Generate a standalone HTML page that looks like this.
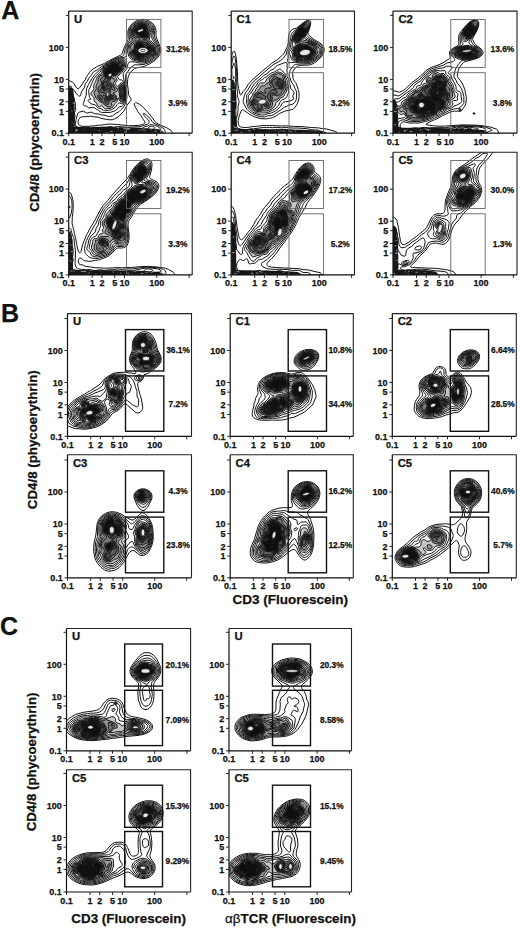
<!DOCTYPE html><html><head><meta charset="utf-8"><style>html,body{margin:0;padding:0;background:#fff;}svg{display:block;}</style></head><body><svg width="520" height="929" viewBox="0 0 520 929" font-family='"Liberation Sans", sans-serif' font-weight="bold" fill="#111"><style>text{stroke:#111;stroke-width:0.25px;}</style><rect width="520" height="929" fill="#fff"/><defs><clipPath id="c0"><rect x="68.7" y="11.1" width="123.5" height="122.1"/></clipPath><clipPath id="c1"><rect x="231.2" y="11.1" width="123.3" height="122.1"/></clipPath><clipPath id="c2"><rect x="393" y="11.1" width="124" height="122.1"/></clipPath><clipPath id="c3"><rect x="68.7" y="152.2" width="123.5" height="122.7"/></clipPath><clipPath id="c4"><rect x="231.2" y="152.2" width="123.3" height="122.7"/></clipPath><clipPath id="c5"><rect x="393" y="152.2" width="124" height="122.7"/></clipPath><clipPath id="c6"><rect x="67.5" y="313.6" width="124" height="122.7"/></clipPath><clipPath id="c7"><rect x="230.2" y="313.6" width="123.1" height="122.7"/></clipPath><clipPath id="c8"><rect x="392.3" y="313.6" width="124" height="122.7"/></clipPath><clipPath id="c9"><rect x="67.5" y="454.8" width="124" height="123"/></clipPath><clipPath id="c10"><rect x="230.2" y="454.8" width="123.1" height="123"/></clipPath><clipPath id="c11"><rect x="392.3" y="454.8" width="124" height="123"/></clipPath><clipPath id="c12"><rect x="66.5" y="628.5" width="124.1" height="122.3"/></clipPath><clipPath id="c13"><rect x="229" y="628.5" width="122.5" height="122.3"/></clipPath><clipPath id="c14"><rect x="66.5" y="769.7" width="124.1" height="122.3"/></clipPath><clipPath id="c15"><rect x="229" y="769.7" width="122.5" height="122.3"/></clipPath></defs><g clip-path="url(#c0)"><clipPath id="b0_0"><polygon points="68.7,133.2 68.7,86.2 71.02,85.2 73.34,90.2 74.5,100.3 74.79,116.75 75.08,125.7 78.2,126.7 111.45,127.02 139.95,127.67 158.95,129.3 163.7,131.9 163.7,133.2"/></clipPath><polygon points="68.7,133.2 68.7,86.2 71.02,85.2 73.34,90.2 74.5,100.3 74.79,116.75 75.08,125.7 78.2,126.7 111.45,127.02 139.95,127.67 158.95,129.3 163.7,131.9 163.7,133.2" fill="#000" fill-opacity="0.9"/><path d="M74.0 102.5h1.6M69.0 87.3h2.4M73.7 89.8h2.7M69.9 87.0h1.6M72.7 103.2h2.4M72.1 86.4h2.2M73.6 106.7h3.5M74.9 110.8h1.7M74.2 94.3h2.7M71.3 110.9h1.2M72.7 123.4h1.5M72.9 126.1h3.1M75.6 129.8h2.3M90.3 127.0h1.7M116.6 127.6h2.6M105.2 132.6h3.4M124.7 129.4h2.4M82.8 129.6h2.3M123.9 132.0h2.7M75.4 131.1h1.1M139.8 129.9h2.1M75.7 130.3h1.4M97.5 130.6h2.7M143.4 130.9h2.6M117.2 128.8h1.7M154.0 128.9h1.3M123.3 128.3h2.9M110.3 131.4h2.5M138.0 129.9h1.3M127.1 128.3h3.3M163.2 130.8h3.0M134.2 126.9h2.2M150.5 129.9h1.6M159.9 131.4h1.6M74.4 133.2h1.7M94.4 128.5h0.8M153.4 127.9h3.3M141.6 128.9h2.9M152.3 127.7h1.5M159.2 126.7h2.7M126.9 129.2h2.7M154.8 131.2h1.9" stroke="#fff" stroke-width="0.7" stroke-opacity="0.75" clip-path="url(#b0_0)"/><g transform="scale(0.1)" stroke="#111" stroke-width="10" stroke-linejoin="round"><path d="M1713 1342l7-5 4-5 0-5-8-15-8-10-43-25-48-20-31-15-23-15-16-15-25-36-45-55-56-59-24-19-30-14-10-3-5 1-5 4-3 6-1 10 5 15 18 30 12 25 29 36 20 34 18 25 4 10-3 10-4 5-20 10-20 4-20 3-50 3-50 0-105-12-75-5-45 4-30 6-40 2-40 6-50 4-65 2-19-2-16-7-10-8-7-15 2-22 5-15 5-9 15-13 25-6 35-1 40-4 30 6 45 4 30 12 60 11 30 3 25-2 15-5 42-24 54-55 34-61 20-27 15-17 4-10-3-15-16-23-7-17-2-40-9-60 3-45 3-20 7-23 10-19 10-14 20-21 17-13 18-7 70-14 20-7 40-18 45-27 20-17 19-20 20-30 8-20 4-25-2-20-16-45-18-40-10-30-3-20 1-40-4-25-12-25-12-17-15-15-20-12-30-13-20-5-15-1-30 2-20 5-20 8-15 10-25 19-21 24-10 15-7 15-6 30 3 60-1 15-4 10-37 75-17 52-5 9-11 9-74 33-45 24-40 24-75 32-50 30-30 32-11 20-16 20-12 30-16 19-17 31-28 35-10 5-10-2-5-6-30-47-15-13-19-7-11-6-5-1-10 10M1650 1342l2-15-3-20-3-10-7-10-38-25-59-28-11-7-8-10-16-24-30-32-20-17-20-10-3 3 1 5 7 15 25 28 19 17 5 10 1 10-5 10-12 10-58 20-15 4-125 7-100-8-15 2-25 6-25-7-10-1-25 5-90 5-30 5-45 5-40 0-30 7-40 4-15-5-15-11-10-13-7-20 0-15 5-35 15-55 7-13 15-9 35-9 25 14 10 4 10 0 25-7 10 0 10 3 25 12 35 2 35 11 35 3 30 11 15 0 25-4 10-5 22-18 35-20 20-20 18-14 9-11 24-50 9-40-1-80-10-65-2-25 2-60 2-10 4-10 17-20 21-32 40-31 10-2 25 2 65-6 45-15 45-24 15-12 20-20 17-25 7-15 5-30-1-20-17-45-26-51-8-24-1-15 5-40-3-20-8-20-13-20-12-12-15-9-25-11-25-6-20-2-25 1-25 7-15 7-25 16-20 18-18 26-10 30 0 25 3 30 5 25-1 10-23 35-23 55-5 20-4 30-4 10-12 10-28 8-50 18-50 26-43 28-37 22-42 33-33 18-10 7-20 31-24 29-15 30-16 20-5 10-9 35-25 35-8 20-3 20-5 7-10 2-5-2-10-8-15-17-21-32-9-10-23-10-17-12-5-1-5 3-5 7M717 1342l9-20 2-20 9-20 0-10-8-20-1-10 22-80-1-10-6-25 2-5 9-15 3-10-4-35 2-30-9-20-4-30-6-10-22-20-18-20-9-4-5 1-5 3M925 1342l4-5 2-10 0-5-3-5-6-2-30-2-10 4-1 5 4 10 9 10M1369 1342l13-14 10-4 10 0 15 7 10-2 15-16 5-2 10 2 20 11 20 8 25 7 15 0 20-8 30 4 5-3 3-5 0-15 7-20 0-5-7-10-5-5-19-10-19-8-40-8-15 4-20 10-27 7-43 26-5 1-20-4-25 6-25-1-45 14-15-2-35-11-25-1-30-7-10 1-20 8-10 2-10-1-20-7-10-1-65 6-35 0-17 6-15 10-4 5 0 10 10 15M1298 1342l9-4 12 4M1422 217l-30 3-15 5-20 10-30 23-13 14-8 15-7 25 0 25 5 30 9 25 0 10-4 10-20 20-7 10-18 50-4 20 4 35-2 15-5 5-15 6-45 7-45 15-20 9-40 22-73 51-27 30-30 25-20 21-18 24-40 70-18 40-2 15-2 49-5 16-11 25-6 25-7 20 0 10 4 6 10 5 20 5 20 16 5 2 20-6 25 1 10 2 16 14 19 10 25 19 15 3 20 1 60-1 45-15 20-12 25-28 5-2 20-3 10-9 20-29 7-14 5-25 1-25 1-50-2-25-12-50-14-75-1-20 2-10 5-10 22-25 6-10 7-20 5-25 5-10 8-10 10-4 50 2 25 8 15 2 50-1 25-6 25-10 30-17 30-21 10-10 9-13 10-25 3-35-4-20-13-33-30-52-8-25-1-10 8-30 1-15-2-20-7-15-13-20-8-8-10-6-35-14-25-6-15-1zM677 953l1 9-1 5M1512 1262l-15 5-18 15-2 5 1 5 4 5 10 6 15 1 19-7 18-10 6-5-1-5-5-5-17-7-15-3zM677 1183l10 12 5 3 5 1 10-1 10-6 5-6 5-9 1-10-1-5-5-7-20-11-15-2-10 4M1252 590l-10-2-25 0-20 2-50 16-50 25-55 38-15 13-12 15-13 25-23 20-37 40-28 60-10 30-13 20-3 10-1 15 6 45 4 12 10 13 2 5-17 2-10 7-2 6 1 5 5 5 25 20 11 5 20 2 9 3 26 30 10 5 20 3 26 17 14 5 10 1 25-6 20-1 10-3 37-21 21-30 12-14 5-3 5-1 25 8 15-7 10-11 8-17 4-30 1-65-4-30-24-70-10-8-20-1-5-3-13-18-3-10 6-10 20-16 15-15 35-44 3-10 2-25 9-25 1-10-5-14-10-8zM677 1077l9 10 7 15 4 4 25-10 7-9 0-15-14-40-4-25-4-7-9 22-21 24M1432 227l-15-2-15 1-15 4-20 9-15 9-18 14-12 14-7 11-6 20-1 30 5 25 14 30 1 10-9 15-22 21-7 9-14 45-2 15 13 55 11 15 24 21 15 6 55 12 50 2 20-3 25-10 60-38 10-8 8-12 6-15 1-45-2-15-8-20-37-55-10-30-1-10 1-10 10-25 3-15-1-15-5-11-13-19-12-11-30-15-35-9z" fill="none"/><path d="M1242 601l-20-3-20 1-25 9-45 13-35 17-59 44-8 10-5 10-8 33-29 17-22 30-4 10-5 22-13 23-7 20-1 10 3 20 0 5-9 15-18 17-3 13 6 15 17 13 5 7 4 15 1 24 3 6 17 10 4 5 7 20 9 12 5 2 10 0 8-4 7-6 5-1 15 14 14 18 6 3 5 1 20-7 25 0 10-4 18-13 4-5 13-25 20-17 6-13 4-16 5-11 5 4 6 18 6 10 13 9 10 2 5-1 10-7 5-8 6-20 3-25-2-65-4-20-15-35-8-12-5-3-5 0-25 31-10 5-10-6-10-11-4-9 4-10 11-15 3-10-2-10-10-15-1-10 13-15 46-40 23-35 13-60-4-10-7-6zM1437 236l-15-4-15 0-15 4-20 9-26 17-22 25-5 10-2 10-1 30 8 25 18 30 1 10-6 10-38 40-4 10-7 30 7 55 6 15 11 13 15 12 10 5 65 15 45 1 15-3 20-9 15-9 19-15 32-15 10-10 5-15-4-30 2-25-5-15-6-10-28-32-25-18-4-10 6-25 2-25 13-20 4-10 1-10-1-10-11-16-21-19-19-12-30-9z" fill-opacity="0.24" fill-rule="evenodd"/><path d="M1232 610l-10-2-15 1-30 11-45 8-15 5-20 13-45 33-10 9-6 9-3 10-2 30-3 10-6 5-15 3-10 6-8 11-6 15-2 10-1 25-17 30-3 10 2 25-2 10-18 25-3 10 2 5 8 15 13 30 15 12 16 18 9 6 22 9 23 24 35 18 15 1 10-3 6-5 6-10-5-20 5-10 8-5 25-6 8-9 6-25-1-10-3-9-10-13-23-8 1-5 12-3 10-5 25-20 10 11 5 11 6 51 3 15 6 12 10 8 10 0 10-8 5-12 5-40-4-60-3-15-8-16-10-14-5-3-5 1-5 3-12 14-18 32-5-2-31-40-7-15 0-5 3-8 15-17 1-10-6-6-18-4-3-5 3-10 4-5 29-18 20-18 25-18 9-11 12-25 12-45 0-15-8-7zM1437 242l-15-4-15 0-30 12-15 8-10 8-23 26-4 10-1 10-1 15 4 15 10 24 22 21 2 10-7 15-17 16-10 15-18 14-3 5-3 10 2 10 7 15-7 35 0 10 3 10 6 10 13 13 15 9 60 16 45-2 35-13 10-6 20-17 25-6 7-4 9-10 2-10-4-25 1-25-3-15-12-14-25-22-21-14-8-10-4-10 0-10 11-30 1-25 2-5 14-15 2-5 0-10-7-11-32-29-13-8-20-7z" fill-opacity="0.24" fill-rule="evenodd"/><path d="M1222 620l-15 0-40 11-30 2-10 2-20 11-33 26-22 15-8 10-3 10-1 35-3 17-5 9-16 9-10 15-1 10 9 20 0 15-7 13-18 12-7 17-3 13 1 15 12 25 1 5-3 5-13 13-2 7 4 10 23 30 10 7 20 7 15 17 10 6 25 6 3-3 7-25 10-13 15-6 20 1 10-1 5-5 3-6 1-10-4-12-5-5-20-7-12-6-14-10-1-5 7-29 5-7 5-3 5 0 15 12 9-3 3-5-2-10-26-45-9-13-13-12-3-5 0-5 12-20 9-25 5-5 25-7 10-5 20-19 25-16 7-8 7-15 14-50-1-10-2-4-5-3zM1217 855l-5 1-5 3-7 8-5 10-3 15 2 10 8 25 0 30 5 25 5 14 5 5 5 2 5 0 5-4 5-9 6-38-6-35 1-25-2-10-9-18-5-6-5-3zM1042 952l-1 5-4 2-5-7 5-4 5 4zM1432 245l-15-2-10 1-40 19-15 12-11 12-7 10-3 15 2 20 15 30 9 7 35 13 7 5 0 5-6 5-21 12-21 28-8 20-2 25-16 20-5 10-4 20 1 15 10 13 24 17 51 15 15-1 65-18 25-20 25-3 7-3 6-5 3-10-5-25 1-25-6-15-11-10-19-10-11-8-21-22-16-20 20-35 2-10 0-23 12-22 2-5-2-5-16-15-16-21-14-9-16-7zM1441 392l12 5 0 5-6 4-5 1-8-5-4-5 2-4 9-1z" fill-opacity="0.24" fill-rule="evenodd"/><path d="M1212 631l-10 0-25 7-40 0-15 4-65 50-8 10-3 15 0 40 2 10 5 15 0 10-16 11-7 9-13 60-5 13-13 17 0 5 3 7 10 10 25 1 10 4 7 8 3 10 0 10-9 25-1 10 2 20 3 7 5 4 5 1 10-3 20-20 13-9 35-10 2-5-3-5-7-5-20-12-24-8-6-5-2-5 0-5 9-15 6-20 20-20 4-10-2-10-5-8-25-24-5-8-3-10 2-5 17-15 13-30 5-5 6-3 20-4 10-3 7-5 18-19 15-8 11-8 7-15 3-25 6-20-2-8-5-3zM1007 951l-12 6-3 5-1 5 3 10 8 11 5 5 10 3 5-2 6-7 1-10-12-20-5-5-5-1zM1217 865l-5 0-7 7-4 10 0 10 2 10 9 20-3 30 1 15 7 19 5 5 5-1 5-6 5-16 2-16-2-10-12-20 7-25 0-10-5-12-5-7-5-3zM1422 411l-5-2-10-1-25 9-10 8-18 27-4 10-3 25-17 20-6 15 0 15 3 7 5 5 14 8 16 16 35 11 15-1 50-20 20-5 25-16 25-2 5-3 2-5-5-20 2-30-5-10-9-7-25-11-20-22-10-7-10-2-15 3-20-15zM1437 252l-15-4-15 1-45 26-13 12-8 10-3 10 0 10 4 11 17 14 9 15 8 5 41 13 20 5 15 1 10-4 12-15 2-10-2-25 6-20-1-5-20-35-12-10-10-5z" fill-opacity="0.24" fill-rule="evenodd"/><path d="M1082 957l-10 1-4 4-8 20-1 15 3 7 5 3 10-4 20-15 20-10 3-6-3-5-10-6-25-4zM1227 942l-6 0-4 5-1 5 1 10 5 9 5 0 5-9 0-15-5-5zM1067 816l-10-4-10 4-9 11-7 20-6 30 0 10 5 10 12 8 15-1 16-12 19-8 10-7 6-10-1-6-5-8-5-4-10-2-5 0-5 3-10 16-5-3 0-6 15-15-3-15-7-11zM1217 877l-5 2-2 8 2 7 5 5 5-3 1-9-1-5-5-5zM1187 647l-45-5-15 2-13 8-17 17-40 31-4 7-2 10 2 40 6 15 13 15 10 2 10-5 5-7 10-25 5-6 10-4 20-1 10-4 20-22 20-10 9-8 5-15-4-24-5-9-10-2zM1412 421l-30 8-15 14-7 9-4 10-4 28-16 17-6 15 2 15 5 5 16 10 13 15 16 7 15 3 10-2 33-13 17-12 25-4 32-19 5-5 9-30-1-10-4-5-31-17-20-21-10-3-15 9-5 0-20-20-10-4zM1422 252l-15 3-20 17-20 8-10 6-6 6-6 10 0 15 7 10 21 10 10 15 9 7 45 14 15 1 10-5 7-12 1-10-4-20 4-20-12-30-6-10-15-11-15-4z" fill-opacity="0.24" fill-rule="evenodd"/><path d="M1102 971l-10-4-10 1-5 2-5 6-2 6 2 8 5 1 8-4 14-10 3-6zM1042 861l-5 7-2 14 2 5 5 4 5-1 3-3 1-5-9-21zM1147 647l-15 0-10 4-22 21-32 25-9 10-3 15 2 35 9 14 10 9 5 0 5-1 5-6 8-21 8-10 9-4 20-1 10-2 10-8 11-15 24-12 6-8 2-15-3-9-5-6-16-10-29-5zM1412 432l-10 1-20 5-15 13-5 7-3 9 1 25-18 16-5 7-2 7 1 10 4 5 17 10 15 17 15 5 15 0 32-12 7-5 11-11 5-3 15 0 10-3 25-16 8-12 3-10 0-10-3-5-32-20-11-11-5-2-5 2-6 11-4 3-5-1-25-27-10-5zM1382 492l7 5 1 5-3 4-10-3-4-6 4-4 5-1zM1427 256l-15 1-8 5-17 19-25 8-10 10-3 13 7 10 21 11 20 22 40 14 15 0 9-7 4-10-6-25 1-25-10-30-9-10-14-6z" fill-opacity="0.24" fill-rule="evenodd"/><path d="M1152 651l-15-2-15 6-16 17-24 18-17 17-5 15 1 25 6 14 10 9 5 1 5-4 10-21 10-11 10-2 20 1 10-3 20-23 20-10 7-6 2-5-1-10-6-10-17-11-20-5zM1417 440l-5-1-10 0-20 6-14 12-4 10 3 13 5 3 15 2 5 4 7 13 2 10-4 4-10 0-13-4-12-6-5-1-10 5-6 7-1 10 3 5 16 10 13 15 10 6 15 0 35-13 20-20 20-3 25-11 6-4 6-10 2-10-2-5-10-10-22-9-5 1-10 9-5 2-5-1-10-8-13-19-12-12zM1432 260l-10-2-12 4-18 21-7 4-18 5-7 5-4 5-1 10 7 9 20 11 20 21 35 11 10 1 10-5 3-8-7-25 0-35-7-20-14-12z" fill-opacity="0.24" fill-rule="evenodd"/><path d="M1162 657l-25-4-10 2-20 20-20 14-13 13-7 10-2 15 2 20 5 9 5 3 5-1 14-21 11-7 30 0 10-3 17-20 24-15 4-10-5-10-12-10-13-5zM1417 445l-10-2-20 5-13 9-5 10 3 8 15 5 10 9 13 23 0 5-3 7-10 1-40-12-9 4-2 5 1 6 15 10 15 17 5 3 10 1 20-10 15-3 5-4 10-14 17-16 1-10-3-5-15-17-15-25-10-10zM1487 477l-8 0-6 5-4 10 0 5 6 10 12 4 10-3 5-5 3-11-7-10-11-5zM1427 262l-10 0-5 3-20 23-25 9-6 5-2 5 1 5 4 5 23 15 10 12 10 7 30 10 10 0 6-4 3-5-9-30 1-35-6-15-5-5-10-5z" fill-opacity="0.24" fill-rule="evenodd"/><path d="M1147 656l-10-1-10 3-19 19-26 20-8 10-4 10-1 15 3 12 5 3 5-1 12-14 13-6 25 2 10-2 6-4 14-17 21-13 4-5 1-5-6-10-15-11-20-5zM1382 526l-20-2-3 3 18 21 6 4 9 0 8-5 3-5-2-5-19-11zM1407 447l-10 2-15 7-5 6-1 5 20 15 17 25 5 10 0 15 4 4 5-2 16-17 4-5 2-10-24-45-8-8-10-2zM1492 484l-5-2-5 2-3 3 0 10 8 7 8-2 4-5-2-9-5-4zM1432 266l-10-2-9 3-16 21-6 4-19 7-5 3-3 5 1 5 5 5 17 12 19 18 36 11 5-1 4-5 0-5-7-20-2-10 3-30-3-11-10-10z" fill-opacity="0.24" fill-rule="evenodd"/><path d="M1157 661l-20-3-10 3-16 16-21 15-9 10-5 10-2 10 3 13 5 1 12-9 13-4 25 3 10-2 5-4 15-18 20-14 2-6-6-10-11-8-10-3zM1387 536l-5-2-5 3 5 7 5 1 3-3-3-6zM1412 450l-10 0-13 7-4 5 0 5 12 12 25 32 5 5 5 1 5-3 4-7-1-10-14-35-9-10-5-2zM1427 266l-10 1-5 4-15 20-25 12-3 4 1 5 37 33 10 4 25 5 3-2 2-5-8-30 4-25-1-10-6-10-9-6z" fill-opacity="0.24" fill-rule="evenodd"/><path d="M1152 661l-15-2-8 3-17 16-20 15-8 9-5 10-1 10 4 5 25-6 30 2 10-6 12-15 20-15 1-5-1-5-7-7-10-6-10-3zM1417 455l-5-2-10 0-7 4-4 5 0 5 21 29 10 9 5 2 5 0 3-5 0-5-3-15-6-15-9-12zM1432 270l-10-2-5 1-5 4-15 20-18 9-6 5 1 5 4 5 29 26 10 4 20 3 6-3-7-30 5-30-3-10-6-7z" fill-opacity="0.24" fill-rule="evenodd"/><path d="M1147 662l-10-1-10 4-15 15-18 12-11 15-2 5 1 8 5 3 20-4 25 3 5 0 8-5 12-15 18-15 2-5-1-5-9-9-20-6zM1412 455l-5-1-8 3-4 5-1 5 18 26 10 7 5 1 4-4 0-5-3-15-6-14-10-8zM1427 270l-5-1-7 3-15 20-23 15 0 5 30 29 10 4 15 2 5-2 2-3-5-30 5-25-3-10-9-7z" fill-opacity="0.24" fill-rule="evenodd"/><path d="M1157 665l-20-3-10 4-10 11-27 20-6 10 0 10 3 3 5 0 20-2 20 3 10-3 15-18 16-13 2-5-1-5-4-5-13-7zM1412 456l-10 1-5 5-1 5 16 24 5 4 8 2 4-5-2-15-5-12-10-9zM1427 271l-10 1-5 5-10 15-23 15 0 5 28 28 10 4 10 0 8-2-3-30 6-25-3-10-8-6z" fill-opacity="0.24" fill-rule="evenodd"/><path d="M1157 666l-20-3-10 4-10 11-26 19-6 10 0 5 1 5 6 2 20-1 20 2 10-3 15-18 14-12 3-5-1-5-5-5-11-6zM1412 457l-5 0-5 2-3 3-1 5 5 10 9 13 10 6 5-5-1-14-4-11-10-9zM1427 271l-10 2-15 20-21 14-1 5 27 27 15 4 10-1 2-5-3-25 6-25-3-10-7-6z" fill-opacity="0.24" fill-rule="evenodd"/><path d="M1157 666l-20-3-9 4-16 15-20 15-6 10 1 9 5 2 20-1 20 3 10-4 15-18 14-11 2-5-1-5-5-5-10-6zM1417 461l-5-3-5-1-7 5-1 5 4 10 9 12 5 4 5 1 3-2 2-10-5-15-5-6zM1427 272l-10 1-15 21-20 13-1 5 21 22 15 8 12 0 4-5-2-25 6-25-3-10-7-5z" fill-opacity="0.24" fill-rule="evenodd"/><path d="M1157 667l-15-3-13 3-16 15-21 15-6 10 1 8 5 3 20-1 20 2 10-3 15-18 13-11 3-5-2-5-4-5-10-5zM1417 461l-5-3-5 0-7 4-1 5 4 10 9 12 5 4 5 1 4-7 0-5-4-15-5-6zM1427 272l-5-1-5 2-15 21-19 13-1 5 20 22 15 8 10 0 5-5-2-25 7-25-4-10-6-5z" fill-opacity="0.24" fill-rule="evenodd"/></g><ellipse cx="143" cy="50.5" rx="5" ry="3" transform="rotate(0 143 50.5)" fill="#fff" fill-opacity="0.9" stroke="#111" stroke-width="0.7"/><ellipse cx="143" cy="50.5" rx="2.2" ry="1.2" transform="rotate(0 143 50.5)" fill="#fff" fill-opacity="0.9" stroke="#111" stroke-width="0.7"/><ellipse cx="140.5" cy="30.5" rx="3.2" ry="1.4" transform="rotate(-20 140.5 30.5)" fill="#fff" fill-opacity="0.9" stroke="#111" stroke-width="0.7"/><ellipse cx="110" cy="75" rx="2.2" ry="1.5" transform="rotate(-30 110 75)" fill="#fff" fill-opacity="0.9" stroke="#111" stroke-width="0.7"/><ellipse cx="107.8" cy="94.2" rx="1.2" ry="2.2" transform="rotate(0 107.8 94.2)" fill="#fff" fill-opacity="0.9" stroke="#111" stroke-width="0.7"/></g><rect x="126.5" y="19.4" width="34.4" height="48" fill="none" stroke="#666" stroke-width="0.9"/><rect x="126.5" y="72.7" width="34.4" height="60.5" fill="none" stroke="#666" stroke-width="0.9"/><text x="177.85" y="51.8" text-anchor="middle" font-size="8.4">31.2%</text><text x="177.85" y="105.9" text-anchor="middle" font-size="8.4">3.9%</text><path d="M68.7 11.1H192.2V133.2" fill="none" stroke="#222" stroke-width="1.1"/><path d="M68.7 11.1V133.2H192.2" fill="none" stroke="#111" stroke-width="1.2"/><path d="M65.7 133.2H68.7M68.7 133.2V136.2M65.7 111.4H68.7M92.2 133.2V136.2M65.7 101.77H68.7M101.92 133.2V136.2M65.7 89.03H68.7M114.78 133.2V136.2M65.7 79.4H68.7M124.5 133.2V136.2M65.7 47.4H68.7M156.8 133.2V136.2M65.7 15.4H68.7M189.1 133.2V136.2" stroke="#111" stroke-width="0.9"/><text x="63.9" y="136.4" text-anchor="end" font-size="9">0.1</text><text x="63.9" y="114.6" text-anchor="end" font-size="9">1</text><text x="63.9" y="104.97" text-anchor="end" font-size="9">2</text><text x="63.9" y="92.23" text-anchor="end" font-size="9">5</text><text x="63.9" y="82.6" text-anchor="end" font-size="9">10</text><text x="63.9" y="50.6" text-anchor="end" font-size="9">100</text><text x="68.7" y="144.7" text-anchor="middle" font-size="9">0.1</text><text x="92.2" y="144.7" text-anchor="middle" font-size="9">1</text><text x="101.92" y="144.7" text-anchor="middle" font-size="9">2</text><text x="114.78" y="144.7" text-anchor="middle" font-size="9">5</text><text x="124.5" y="144.7" text-anchor="middle" font-size="9">10</text><text x="156.8" y="144.7" text-anchor="middle" font-size="9">100</text><text x="74.1" y="22.9" font-size="11.3">U</text><g clip-path="url(#c1)"><clipPath id="b1_0"><polygon points="231.2,133.2 231.2,80.2 233.2,79.2 235.2,84.2 236.2,96.1 236.45,114.65 236.7,128 240.7,129 273.95,129.21 302.45,129.63 321.45,130.68 326.2,132.36 326.2,133.2"/></clipPath><polygon points="231.2,133.2 231.2,80.2 233.2,79.2 235.2,84.2 236.2,96.1 236.45,114.65 236.7,128 240.7,129 273.95,129.21 302.45,129.63 321.45,130.68 326.2,132.36 326.2,133.2" fill="#000" fill-opacity="0.9"/><path d="M236.4 111.5h2.9M234.5 114.6h3.3M236.0 111.2h3.4M232.4 89.7h2.6M233.8 127.5h3.2M234.4 110.0h1.8M234.8 112.1h2.2M233.2 126.3h1.5M235.8 89.1h2.6M233.8 81.7h3.1M232.5 101.3h3.4M235.5 111.0h2.1M234.0 85.0h2.7M269.0 131.3h1.0M277.9 132.2h1.1M239.9 132.3h2.7M248.2 130.8h2.4M323.0 131.3h2.9M234.5 130.5h3.4M235.7 129.4h1.2M295.3 133.1h1.0M244.0 129.4h2.9M294.1 130.5h1.6M281.4 131.2h3.4M274.3 130.1h1.8M319.1 129.6h3.5M252.8 129.5h2.1M279.6 130.9h1.0M314.9 130.7h1.1M301.4 132.7h1.8M294.8 131.2h1.0M290.3 131.7h1.8" stroke="#fff" stroke-width="0.7" stroke-opacity="0.75" clip-path="url(#b1_0)"/><g transform="scale(0.1)" stroke="#111" stroke-width="10" stroke-linejoin="round"><path d="M3355 1342l5-5 6-10 1-5-4-5-6-2-95-26-40-3-35-7-80-4-95-10-70-1-85-6-45 2-115-5-30 1-40-1-40 6-75 7-40 7-30 0-25-3-15-5-12-10-6-15-3-35 11-47 20-51 10-10 5-1 10 4 75 52 40 17 60 16 50 2 45-8 20-5 35-18 35-24 50-22 80-18 15-11 23-31 10-20 14-45 2-20-2-45-3-15-23-70-6-11-19-24-8-20-4-50 1-10 3-10 27-38 9-7 10-5 16-5 25-4 75-3 25-7 25-13 35-25 37-38 17-25 10-30 1-20-3-15-6-15-11-13-25-21-45-26-30-20-35-31-6-9-1-10 2-10 17-50 7-30 1-15-1-10-4-8-5-4-5-3-10 0-10 2-15 7-35 24-50 42-10 5-34 10-16 12-15 23-9 25-4 30-2 50-5 27-33 68-10 15-15 15-46 40-56 36-45 39-32 25-118 102-42 48-27 45-23 25-18 30-5 2-5-3-2-4-15-60-8-60-3-110-10-120-12-63-5-13-5-6-5 1-5 5-11 26-19 132M2415 1342l12-5 5 0 8 5M3212 1342l2-5-2-8-18-22-8-5-9-2-30 0-40-4-30-8-15-2-90-6-35 1-50-3-30-4-40 4-55-4-35 3-30-3-35 2-30-1-95 13-30 0-40 10-60-6-25-9-10-8-7-13-2-35-5-30 11-30 8-30 4-40-1-35 10-35 1-10-3-15-11-27-3-23 0-35-4-30-4-65 2-45-2-65-6-70-8-56-5-15-5-9-5-1-5 7-9 34-9 60-6 30-1 65-5 32M3087 211l-10-1-10 3-15 7-15 10-25 20-40 38-38 29-15 15-7 15-4 30-9 35-7 48-3 12-19 35-8 36-30 40-28 24-72 40-110 93-34 32-44 35-35 40-36 60-17 20-11 25-12 50-1 15 2 10 9 20 26 45 14 15 34 26 45 22 55 14 30 0 15-4 20-8 35-2 15-7 79-51 31-24 25-10 20-12 38-9 17-12 10-11 8-17 4-15 2-65-4-14-14-26-11-30-22-30-22-60-1-10 3-20 6-25 6-14 17-21 13-18 10-8 10-2 50-4 55-1 25-2 30-9 35-19 35-27 24-25 11-20 8-25 1-15-2-15-6-15-8-10-33-25-85-50-20-16-8-9-2-10 2-10 22-55 9-35 1-15-2-10-7-9-5-2zM2302 1326l15 10 10 1 33-20 4-5 0-5-9-15-23-21-5-2-5 2-20 16M2992 1342l10-4 15-11 7-10-2-5-5-1-10 0-25 7-30-9-40-8-25-1-25-6-10-1-65 7-30-5-7 2-18 12-5 1-20-2-20 1-25-8-15-2-35 7-35-1-10 3-6 4-2 5 4 15 9 10M2606 1342l11-6 10-2 25 7 25-6 14 7M2715 1342l12-7 10-1 20 6 18 2M2302 1200l25 30 5 4 2-2 3-5-4-25 0-20 12-40-3-30 14-35 5-35-5-50 1-35-3-30 1-30-3-70 6-50-2-45 0-40-9-46-5-12-5-1-19 64 2 50-8 70 7 35-7 30-2 30-8 14M2302 1076l5 11-3 20 1 30-3 13M2862 626l-10 0-10 2-65 25-14 9-23 25-38 20-35 31-30 17-21 22-45 35-25 25-24 34-29 51-21 22-4 8-3 10 3 25-5 30 5 20 10 30 9 15 10 12 31 28 34 17 55 12 30-2 32-12 38-8 35-18 27-19 25-25 18-34 10-9 20-6 30-4 40-13 10-6 3-13-7-20 0-5 12-20 0-15-8-14-20-15-4-6-5-30-12-25-1-25-2-10-17-30-2-10 3-30-3-25 4-20-2-20 1-25-1-5-9-6zM3082 220l-10-1-15 4-20 12-20 16-70 71-8 10-9 15-20 75-5 55-5 10-13 16-5 14-2 45 1 20-6 25 4 15 6 5 7 2 20-4 40-2 40 5 65 1 35-4 15-5 50-26 35-29 12-13 6-10 8-20 2-20-2-20-8-15-38-30-94-50-15-10-6-7-2-8 3-15 26-60 9-30 1-15-1-10-6-10-5-2zM2832 1319l-10-2-10 3-4 7 3 10 6 4 5 0 10-4 5-5 2-5-2-5-5-3zM2802 689l-5 1-11 7-24 11-20 13-25 8-10 6-15 10-24 22-21 9-20 19-20 9-12 8-15 15-23 37-21 23-27 45-22 20-4 10 1 25-5 25 1 10 2 10 11 30 9 15 35 35 10 7 20 8 30 4 30-3 25 1 35-9 40-17 18-11 37-30 6-10 8-25 16-22 10-7 26-11 13-10 9-10 5-20 10-20-2-30 3-35-14-30-1-30-15-30-6-35-8-11-24-19-11-14-5-4zM2317 1020l-5 0-5 12 0 8 5 4 5 0 3-2 0-10-3-12zM2337 764l-5 13 1 5 4 5 5-15-2-5-3-3zM3082 231l-10-4-15 3-15 7-20 15-16 15-49 55-11 15-8 15-8 25-7 35 1 35-3 30-6 15-17 20-3 10 2 16 17 49 8 13 10 8 65 11 35-1 30 2 25-4 55-24 15-9 31-26 9-10 8-15 5-25-2-20-6-11-18-19-12-11-20-12-45-22-35-13-22-12-5-5-2-10 4-13 32-72 7-20 2-20-2-10-4-6z" fill="none"/><path d="M2792 722l-10-2-10 1-25 15-25 10-25 15-26 26-17 30-12 10-10 3-25-2-10 6-10 13-12 25-16 20-6 20-16 14-5 6-10 25-25 41-5 19 2 10 16 40 32 35 10 8 15 5 15 1 15-1 25-5 40 0 20-4 40-18 7-6 25-30 2-20 2-5 5-5 24-15 20-28 25-10 8-7 7-20 15-20 4-10 8-45-4-10-11-20-6-35-16-55-5-7-10-8-30-10zM3067 236l-10 1-15 6-15 10-15 13-56 66-15 30-6 25-1 20 1 10 7 10 16 10 1 5-2 5-19 20-9 25-13 25 0 5 10 20-3 25 1 10 8 15 10 7 55 12 35-2 30 3 20-3 55-25 15-9 17-13 14-15 8-10 5-10 4-20-3-13-21-32-14-14-15-9-45-20-70-19-4-3 1-10 40-90 11-30 1-10-1-10-3-6-10-5z" fill-opacity="0.24" fill-rule="evenodd"/><path d="M2787 736l-10 0-15 9-25 7-35 25-8 10-1 5 4 20-4 10-26 13-20 21-10 3-20 0-8 3-4 5-7 20-14 15-9 15-8 7-15 9-8 9-9 35-6 10-20 20-3 15 15 40 31 36 10 5 10 2 30-2 26-6 19-10 20 2 10-1 35-15 7-6 4-10 3-10-1-20 7-17 10-8 25-3 10-5 19-27 27-20 19-25 13-25 5-25-28-85-4-25-5-10-6-5-30-11zM3062 245l-10 1-15 6-15 10-15 14-25 34-24 27-8 15-8 25-1 20 2 15 9 9 19 11 3 5-3 10-24 25-15 40 0 10 6 25 0 30 5 10 8 5 41 11 15 1 25-3 35 3 35-11 35-19 16-12 12-15 14-25-1-10-9-10-2-5 3-20-2-10-7-10-9-7-15-9-40-15-35-1-15-4-25-2-5-3-5-7 0-12 23-35 29-65 7-20 2-10 0-10-1-5-5-5-5-2z" fill-opacity="0.24" fill-rule="evenodd"/><path d="M2757 766l-10-1-6 2-24 28-4 7-5 20-11 20-1 5 2 5 14 10 2 5-2 9-10 5-20-2-10 2-13 6-13 10-2 5 1 5 15 20-3 5-20-1-20-12-10-2-10 3-32 17-11 10-4 25-3 10-26 25-3 5-2 10 2 10 9 17 23 33 12 10 10 2 25 0 20-4 9-8 0-20 3-5 3-1 5 1 20 13 10 4 10-1 13-6 12-9 4-6 0-20 18-40 0-10-5-20 3-10 5-2 10-1 13 3 17 6 10 0 25-15 10-11 4-15 16-19 9-21-2-35-3-15-12-25-7-11-10-5-20-4-30-16zM3102 436l-15-1-20 7-15 2-25-4-30-8-5 3-15 17-17 15-10 15-8 35 6 50 4 10 5 5 30 12 10 2 10 0 25-5 25 5 10 0 40-13 29-21 17-20 7-15-1-10-9-20 0-5 7-15 0-10-7-10-8-6-40-15zM3057 257l-10-1-10 3-20 12-15 16-20 30-22 25-10 25-4 20 3 20 8 9 10 5 20 5 5 0 5-5 9-29 16-18 8-12 29-65 3-15 1-15-1-5-5-5z" fill-opacity="0.24" fill-rule="evenodd"/><path d="M2612 936l-10-1-22 7-9 5-4 5-1 5 2 15 4 9 5-1 20-8 10 1 5 4-2 15-8 18-10 7-10 0-8-5-12-15-10-1-10 3-10 6-6 7-3 10 6 15 13 11 10 2 15-8 5-2 5 2 1 10-11 20 5 5 25 7 10-1 6-6 1-30 3-5 5-2 10 2 25 17 10 4 10-1 5-4 4-6 1-5-7-20-20-15-8-10-1-10 7-20-4-10-7-5-15-4-20-17zM2757 897l-30 1-10 3-12 6-11 10-3 10-14 25-4 15 3 10 12 20 4 15 5 1 5-4 6-12 1-15-4-35 2-12 10-2 20 4 20 2 9-2 6-5-2-10-8-18-5-7zM2767 786l-10 0-5 2-23 14-8 10-4 25 12 15 5 20 3 6 20 14 5 0 15-10 10 2 20 8 10 0 5-3 5-7 2-15-1-30-11-25-5-8-5-4-40-14zM3102 447l-10 0-15 5-30 1-45-7-10 3-23 18-7 7-5 8-7 35 3 35 2 10 6 10 11 7 25 9 10-1 20-10 5 0 19 10 11 2 35-8 10-5 11-9 29-32 4-8 1-5-15-30 1-5 5-15-1-7-10-8-30-10zM3047 270l-5-2-10 1-10 4-10 8-13 16-12 21-20 21-5 8-8 20-3 20 2 15 9 11 15 4 10-2 7-8 9-20 14-13 10-12 18-40 9-25 0-15-2-6-5-6z" fill-opacity="0.24" fill-rule="evenodd"/><path d="M2632 991l-5 0-5 5-5 12 0 10 3 4 17 10 20 17 10 3 4-5-2-10-9-10-17-15-11-21zM2552 1008l-10 0-7 4-3 5 0 11 5 6 5 3 10-2 7-8 1-10-8-9zM2782 807l-5 1-5 4-8 10-7 15-1 10 5 5 16 5 20 20 10 5 5 0 5-3 3-7 1-15-2-15-22-30-15-5zM3017 456l-15-2-10 2-20 16-8 10-7 60 5 19 10 9 25 9 10-1 18-11 7-1 5 1 20 12 10 0 25-3 16-9 16-20 18-16 3-9-4-10-22-30-12-11-40-11-30 0-20-4zM3037 277l-10-1-15 9-13 17-12 23-16 17-7 10-6 20-2 15 3 15 8 8 10 1 9-4 11-20 20-17 9-13 18-40 4-15 0-15-6-8-5-2z" fill-opacity="0.24" fill-rule="evenodd"/><path d="M2787 824l-5-2-5 2-5 6-1 7 16 15 10 14 10 5 5-4 1-5-2-15-24-23zM3012 461l-10-1-10 3-13 9-7 10-1 10 4 20-9 20-2 15 4 10 9 7 20 8 10-1 15-9 10-2 10 1 20 8 30 0 11-7 6-15 5-5 18-9 5-6 2-5-4-10-18-22-15-12-35-14-35 2-20-5zM3032 282l-10 0-13 10-10 15-12 25-18 20-5 15-3 20 1 10 5 6 10 3 5-2 13-22 17-12 11-13 17-35 5-20-3-13-5-5-5-2z" fill-opacity="0.24" fill-rule="evenodd"/><path d="M3007 466l-10 1-10 5-5 6-3 9 7 25-2 10-9 20-1 5 7 10 11 7 10 2 20-9 10-2 55 5 6-3 3-15 5-5 21-5 8-5 2-3 0-7-3-5-17-21-10-7-30-15-15-2-30 5-20-6zM3032 287l-10-1-5 2-10 9-8 15-12 27-15 17-6 31 1 6 5 6 5 0 3-2 8-15 5-5 19-10 12-15 13-30 4-15 0-10-4-7-5-3z" fill-opacity="0.24" fill-rule="evenodd"/><path d="M3067 471l-15 0-25 7-25-6-11 5-4 5-1 5 7 25-5 30 2 10 4 5 8 3 25-8 25 0 15-3 10-4 15-11 28-7 6-5 1-5-3-5-17-21-10-6-30-14zM3032 291l-5-2-10 2-11 11-7 15-7 20-15 23-1 7 1 9 5 0 25-9 11-10 15-30 5-15 1-10-2-5-5-6z" fill-opacity="0.24" fill-rule="evenodd"/><path d="M3072 475l-10-2-10 0-30 11-20-4-5 2-3 5 4 20-2 30 2 10 3 5 6 1 45-6 13-5 16-10 38-10 2-5-1-5-11-15-12-9-25-13zM3027 292l-10 1-12 14-13 38-6 12 0 5 6 4 10 0 10-5 7-9 10-20 7-15 1-10-3-10-7-5z" fill-opacity="0.24" fill-rule="evenodd"/><path d="M3067 475l-15 1-25 13-20 3-3 5-3 30 1 10 5 9 10 2 30-3 30-16 30-6 10-6-3-10-8-10-9-7-30-15zM3027 294l-10 1-7 7-6 10-11 40 0 5 4 4 5 1 10-4 5-6 14-25 3-10 1-10-3-9-5-4z" fill-opacity="0.24" fill-rule="evenodd"/><path d="M3062 476l-15 4-15 12-21 10-4 8-2 17 2 10 3 5 12 3 20-2 10-4 17-12 33-5 10-5 1-5-1-5-10-11-30-17-10-3zM3027 296l-5-1-5 2-6 5-6 10-5 15-3 25 2 5 3 2 5-1 5-3 5-6 15-27 2-15-2-6-5-5z" fill-opacity="0.24" fill-rule="evenodd"/><path d="M3072 480l-10-2-10 1-5 3-15 14-15 7-4 4-5 10 0 10 4 12 10 4 17-1 12-5 11-11 5-3 30-2 12-4 2-5-1-5-8-9-30-18zM3022 297l-10 5-9 15-4 25 1 10 2 3 5 1 5-3 10-14 9-17 2-10-1-7-5-7-5-1z" fill-opacity="0.24" fill-rule="evenodd"/><path d="M3072 481l-10-2-10 2-9 6-7 10-20 10-4 6-2 9 0 10 3 5 9 4 15 0 11-4 14-15 35-2 10-4 2-4-1-5-6-8-30-18zM3027 299l-5-1-5 1-5 4-6 9-5 20 1 20 5 2 5-3 16-24 4-15 0-5-5-8z" fill-opacity="0.24" fill-rule="evenodd"/><path d="M3067 480l-10 0-6 2-6 5-8 12-20 10-6 13 1 10 3 5 7 3 15 0 10-4 10-14 5-3 35 0 7-2 3-3 0-7-9-10-31-17zM3027 300l-5-2-5 2-8 7-5 10-3 25 1 5 5 6 5-3 5-6 13-22 1-15-4-7z" fill-opacity="0.24" fill-rule="evenodd"/><path d="M3067 480l-10 0-5 2-6 5-9 13-20 10-5 12 1 10 3 5 11 3 10 0 10-5 10-15 5-2 35 0 5-1 5-4 0-6-9-10-31-17zM3027 301l-5-2-5 1-7 7-5 10-3 10 0 15 1 5 4 5 5-3 5-5 13-22 1-15-4-6z" fill-opacity="0.24" fill-rule="evenodd"/><path d="M3067 481l-10-1-5 2-6 5-9 14-20 10-4 6-1 10 5 10 10 3 10 0 7-3 6-5 7-13 5-2 35 1 5-1 5-5-1-5-9-10-30-16zM3027 301l-5-2-5 1-7 7-5 10-3 10 0 15 1 5 4 4 5-2 5-5 12-22 2-10 0-5-4-6z" fill-opacity="0.24" fill-rule="evenodd"/></g><ellipse cx="305" cy="52.5" rx="5.5" ry="3" transform="rotate(-10 305 52.5)" fill="#fff" fill-opacity="0.9" stroke="#111" stroke-width="0.7"/><ellipse cx="262.3" cy="101.7" rx="4" ry="2.5" transform="rotate(-10 262.3 101.7)" fill="#fff" fill-opacity="0.9" stroke="#111" stroke-width="0.7"/></g><rect x="289" y="19.4" width="34.4" height="48" fill="none" stroke="#666" stroke-width="0.9"/><rect x="289" y="72.7" width="34.4" height="60.5" fill="none" stroke="#666" stroke-width="0.9"/><text x="340.25" y="51.8" text-anchor="middle" font-size="8.4">18.5%</text><text x="340.25" y="105.9" text-anchor="middle" font-size="8.4">3.2%</text><path d="M231.2 11.1H354.5V133.2" fill="none" stroke="#222" stroke-width="1.1"/><path d="M231.2 11.1V133.2H354.5" fill="none" stroke="#111" stroke-width="1.2"/><path d="M228.2 133.2H231.2M231.2 133.2V136.2M228.2 111.4H231.2M254.7 133.2V136.2M228.2 101.77H231.2M264.42 133.2V136.2M228.2 89.03H231.2M277.28 133.2V136.2M228.2 79.4H231.2M287 133.2V136.2M228.2 47.4H231.2M319.3 133.2V136.2M228.2 15.4H231.2M351.6 133.2V136.2" stroke="#111" stroke-width="0.9"/><text x="226.4" y="136.4" text-anchor="end" font-size="9">0.1</text><text x="226.4" y="114.6" text-anchor="end" font-size="9">1</text><text x="226.4" y="104.97" text-anchor="end" font-size="9">2</text><text x="226.4" y="92.23" text-anchor="end" font-size="9">5</text><text x="226.4" y="82.6" text-anchor="end" font-size="9">10</text><text x="226.4" y="50.6" text-anchor="end" font-size="9">100</text><text x="231.2" y="144.7" text-anchor="middle" font-size="9">0.1</text><text x="254.7" y="144.7" text-anchor="middle" font-size="9">1</text><text x="264.42" y="144.7" text-anchor="middle" font-size="9">2</text><text x="277.28" y="144.7" text-anchor="middle" font-size="9">5</text><text x="287" y="144.7" text-anchor="middle" font-size="9">10</text><text x="319.3" y="144.7" text-anchor="middle" font-size="9">100</text><text x="236.6" y="22.9" font-size="11.3">C1</text><g clip-path="url(#c2)"><clipPath id="b2_0"><polygon points="393,133.2 393,100.2 395,99.2 397,104.2 398,110.1 398.25,121.65 398.5,126.7 402.5,127.7 435.75,127.97 464.25,128.52 483.25,129.9 488,132.1 488,133.2"/></clipPath><polygon points="393,133.2 393,100.2 395,99.2 397,104.2 398,110.1 398.25,121.65 398.5,126.7 402.5,127.7 435.75,127.97 464.25,128.52 483.25,129.9 488,132.1 488,133.2" fill="#000" fill-opacity="0.9"/><path d="M393.9 111.6h3.0M394.6 108.9h2.1M397.9 112.2h3.5M394.3 124.7h1.7M397.3 112.9h3.3M398.5 102.3h1.2M396.2 107.7h3.3M406.9 129.8h0.9M463.6 130.0h1.1M403.8 130.3h2.1M444.1 127.8h3.4M421.1 132.8h1.6M470.3 131.7h1.2M450.4 129.4h1.3M398.5 132.3h1.4M427.3 130.1h3.3M426.2 129.7h2.6M419.9 130.2h3.5M487.7 130.9h3.0M424.7 128.8h1.8M467.0 132.8h1.3M452.7 132.0h1.6M457.2 131.6h1.7M470.9 132.6h0.9M471.9 128.2h2.6M452.5 128.3h2.2M403.9 131.1h2.0M473.8 129.8h1.0M455.6 128.6h1.0M480.2 132.8h2.7M427.8 130.4h1.3M409.4 131.6h3.0M472.4 128.8h1.7" stroke="#fff" stroke-width="0.7" stroke-opacity="0.75" clip-path="url(#b2_0)"/><g transform="scale(0.1)" stroke="#111" stroke-width="10" stroke-linejoin="round"><path d="M4965 1342l12-5 7-5 2-5-9-25-11-10-56-20-80-14-80-7-130-2-175 12-55 1-55-4-40-5-27-6-9-5 33-20 53-25 35-14 45-26 75-36 25-7 20-3 35 0 15 4 10-1 14-12 31-45 9-25 5-55-2-15-9-35-4-30-22-55-22-35-26-30-4-10-2-15 10-50 6-15 16-27 30-36 15-8 85-21 45-16 28-17 10-10 10-15 2-10 0-10-8-15-22-22-45-33-11-15-17-35 0-10 3-10 41-75 11-30 5-20 1-20-3-15-10-14-10-5-15-3-15 3-20 10-20 13-33 31-54 65-15 25-6 20-1 25 3 45-1 10-6 10-6 5-51 29-14 11-9 10-6 10-1 15 8 40-3 9-5 5-70 44-45 22-45 14-25 10-40 23-90 83-55 39-69 66-26 19-20 10-15 5-10 0-40-12-15 1-10 5M4745 1129l-5-1-5 1-4 3 0 5 4 4 5 1 5-1 4-4-1-5-3-3zM4857 1342l28-27 10-4 21-4 3-5-2-5-5-5-11-5-71-20-80-9-140-1-95 10-65 11-30-2-30 1-35-1-65 2-60-3-45 6-35-3-50 7-25 6-20 1-25 0-10-3-5-3-8-9-6-15 1-15 8-13 13-12 12-4 15 1 50 13 40-3 40 2 75-16 40-11 20-8 30-15 35-13 34-21 75-40 56-19 30-3 15-3 10-7 30-28 6-10 3-10-1-35 1-20-1-10-15-55-8-19-15-26-27-30-10-25-21-35-3-10 0-10 13-50 8-20 17-30 33-41 5-4 15-4 45-3 35-6 25-6 25-8 25-10 12-8 11-10 9-15 2-10-1-10-9-15-13-15-11-9-46-26-20-25-9-20 1-10 4-10 47-75 10-25 6-20 5-25-2-15-9-15-12-8-10-1-10 1-25 9-25 18-26 26-41 55-20 40-5 25 7 55-1 10-2 5-18 15-49 27-17 13-8 10-5 15 3 15 11 20 20 20 7 10 1 10-3 5-7 5-12 5-55 12-40 26-25 5-30 11-40 10-20 8-20 10-24 18-21 22-31 28-20 25-64 42-58 63-62 46-15 9-15 6-10 0-25-8-15 3-15 9M4745 1132l-5-2-5 2-1 5 6 3 5-2 0-6zM4605 1089l-10-1-5 4-2 5 2 5 5 6 5 2 5-2 5-6 0-5-5-8zM3920 1333l15 7 10 0 9-8 20-25 4-10-6-40 2-15 11-22 8-8 10-5 22-8 15-1 60 18 15 1 25-3 40 2 60-11 45-12 25-9 35-21 35-10 25-17 30-14 40-29 40-12 25-19 26-10 34-18 10-8 6-9 2-15-7-40-2-25-3-10-9-10-22-8-10-7-5-10 1-20-2-10-19-40-20-32-12-38-8-9-13-6-4-5-1-5 5-10 32-30 4-10 0-5-8-5-20-4-30-1-35 18-30 1-25 7-35 7-45 20-15 12-44 45-26 34-10 8-25 15-29 23-7 10-5 15-4 5-32 25-23 15-85 64-10 3-25-2-10 5-10 10-7 10-8 26M4665 1342l80-15 35-12 65-1 10-7 3-5 0-5-10-10-21-10-42-7-30-3-55-2-85-2-45 7-54 12-10 5-16 12-5 1-35 0-30-4-45-1-15 3-25 10-20-1-30 4-30-3-25-6-8 0-11 5-4 5-10 20 3 5 10 2 30-1 17 4M4560 1342l10-2 6 2M4633 1342l7-2 16 2M4605 1096l-5-3-5 2-1 7 6 4 5-3 0-7zM4755 211l-15 0-15 4-20 9-15 12-21 21-41 60-16 40-3 25 3 20 5 15 8 13 6 7 1 5-13 10-69 35-25 20-8 10-1 15 3 10 6 10 20 17 25 15 15 6 15 3 65 1 30-3 35-7 45-16 18-11 12-15 4-15-2-10-5-10-12-15-15-12-44-18-27-15-10-10-3-10 0-15 5-15 53-70 8-15 10-25 9-35 0-15-6-16-5-5-10-5zM4695 1272l-35 4-30-5-20 0-40 11-7 5-3 5 0 5 3 5 7 4 15 6 15 9 10 2 25-7 15-3 30 6 25-2 63-20 11-5 3-5-9-5-33-2-30-7-15-1zM3920 1180l20 19 5 4 5 0 25-14 10-4 30-3 25-6 40 18 40 9 85-2 40-7 35-10 20-9 41-23 34-10 25-22 25-7 45-31 40-16 9-9 8-15-1-10-6-10 0-5 2-5 7-5 6-2 30 0 10-3-2-30 7-30-1-5-5-5-19-12-11-13-3-10-4-25-12-35-24-30-3-25-4-10-9-10-15-9-6-6-5-10-4-23-5-7-10-1-35 3-40-4-20 1-15 5-30 16-37 35-45 60-5 10-2 15-4 5-7 3-20 2-9 5-4 5-7 18-5 7-30 15-20 15-24 15-8 10-8 18-5 6-30 11-22 20-23 16-5 2-20 1-10 6-21 35-9 37M4690 456l-20-3-40 7-30 9-35 16-17 12-20 20-3 10 4 15 9 10 12 9 25 14 30 8 60 5 25-2 40-8 40-14 18-12 9-15 2-15-6-15-8-10-10-8-10-6-35-11-40-16zM4755 221l-10-2-15 1-15 5-15 8-26 24-31 45-15 30-9 40 0 10 3 15 6 10 7 6 10 3 10 0 15-5 40-41 37-48 14-30 9-45-3-15-3-5-9-6z" fill="none"/><path d="M4700 1281l-10 0-10 3-5 3-4 5 1 5 4 5 9 3 10 0 10-3 7-5 3-5-2-5-13-6zM4625 1281l-11 1-8 5-1 5 10 5 10 0 5-2 4-3 1-5-10-6zM4355 717l-15 2-15 8-13 10-14 15-28 20-8 15-1 10 4 25-5 10-5 2-15 0-4 3-11 20-8 10-27 12-26 23-29 13-20 19-21 13-5 5-14 25-5 7-10 8-25 13-18 17-4 10-1 15-7 11-5 3-10 1-25-6-10 3-5 4-4 9 0 5 3 10 23 20 12 20 11 11 10 6 10 2 15-9 8 0 7 6 14 24 11 9 15 5 45 9 20 1 30-2 25 2 40-6 30-9 69-34 26-9 20-21 10-6 25-8 15-8 35-23 23-20 2-10 0-20 4-10 11-11 30-16 6-13-2-20-19-39-6-26-12-35-6-10-17-20-4-10-5-25-5-6-20-17-15-20-10-5-25 4-10-1-25-16-15-4zM3945 1137l-5-2-5 0-5 7 0 11 5 6 5 2 5 0 4-9-1-10-3-5zM4670 462l-20 1-35 7-15 5-30 14-15 10-16 18-4 10 2 10 14 15 24 14 30 9 60 8 20-1 40-8 45-17 13-10 5-10 2-15-6-15-9-10-10-7-15-6-25-5-35-14-20-3zM4745 232l-25-3-10 3-10 5-21 20-31 45-13 25-5 30 0 25 4 10 6 7 10 3 10-2 30-19 20-18 36-46 10-25 6-40-1-10-3-5-3-3-10-2z" fill-opacity="0.24" fill-rule="evenodd"/><path d="M4360 736l-10-3-5 0-10 6-7 13-3 20-8 10-7 1-10-4-10-2-10 6-4 14 3 35-3 10-5 5-31 13-49 42-51 22-7 8-13 19-25 16-25 32-28 23-6 10-12 25-14 19-10 5-15 1-3 5 13 15 8 15 7 3 15-8 5-1 10 4 10 14 13 28 7 7 10 5 10 2 30 0 30 7 60 3 45-8 15-4 35-18 55-23 9-6 11-14 9-6 46-19 29-21 7-10 19-47 10-13 20-20 5-10 1-25-13-50-13-27-20-35-13-38-8-10-29-27-10-2-25 2-10-1-10-4-15-9zM4690 472l-15-4-15 0-40 6-20 6-30 15-10 8-13 19-2 10 2 5 13 13 20 11 60 14 25 4 20-1 40-9 40-16 9-6 6-10 3-15-4-10-7-10-12-8-10-4-30-4-30-14zM4720 236l-15 3-20 16-41 62-6 20 0 20 5 20 7 7 10 2 10-2 10-4 15-10 18-18 27-34 7-11 7-25-2-25-2-5-5-4-25-12z" fill-opacity="0.24" fill-rule="evenodd"/><path d="M4415 757l-30 2-25-2-10 2-5 3-15 26-10 12-5 2-15-2-7 2-3 10 0 25-4 10-5 5-36 19-20 13-9 8-11 17-5 4-15 7-30 8-8 4-20 30-22 12-10 8-20 27-18 18-10 20-12 16-4 9 3 10 4 5 28 20 0 5-4 10 0 10 5 15 8 9 15 4 20-2 14-6 11-10 10-4 11 4 2 5 2 15 6 5 9 3 35 2 60-12 15-7 20-11 25-7 20-9 10-7 15-17 19-10 36-15 18-15 5-10 2-20 5-8 20-22 8-15 14-60 0-10-11-35-6-8-10-8-5-8-7-51-5-15-7-10-21-19-5-4-10-2zM4685 475l-15-3-15 1-35 5-20 7-23 12-12 10-9 15-1 10 2 5 10 10 13 6 35 8 25 10 30 4 15-1 35-8 25-12 15-6 9-6 5-10 1-10-3-10-9-10-18-8-30 0-6-2-14-12-10-5zM4715 241l-15 5-13 11-17 29-22 31-4 15 1 20 6 15 9 8 15 0 10-4 13-9 38-45 9-15 4-20-4-17-18-18-12-6z" fill-opacity="0.24" fill-rule="evenodd"/><path d="M4420 767l-15-3-20 3-20 0-10 2-5 3-8 10-12 27-25 15-11 28-9 7-50 28-10 9-3 6-1 15-3 5-18 7-10 7-20 25-7 6-33 7-20 7-10 7-6 9-10 20-19 20-5 15-11 15-1 5 2 6 5 5 9 4 21 0 6 5 9 20 15 12 30 4 13 4 12 10 5 10 5 6 10 4 20 2 15-3 25-10 25-1 25-16 25-4 10-3 17-10 18-21 50-21 13-8 7-10 3-20 7-21 5-6 15-10 5-8 3-10 1-20 7-25-2-10-16-15-5-10-7-30-3-65-2-10-7-10-24-20zM4670 476l-45 6-15 4-15 7-15 9-10 10-5 10 0 10 8 10 12 6 35 9 25 11 25 3 15-1 35-9 20-12 18-7 7-6 3-9 0-10-7-10-6-4-15-5-20 4-10 0-22-20-18-6zM4715 247l-10 1-15 11-16 28-22 30-3 15 1 15 6 15 9 7 5 1 10-2 15-9 40-47 5-10 4-15-3-15-16-19-10-6z" fill-opacity="0.24" fill-rule="evenodd"/><path d="M4410 771l-45 3-10 4-7 9-2 10 10 15 1 5-1 5-6 3-15 0-15 7-10 10-10 20-20 10-15 13-17 7-7 5-2 5 12 15 9 20 10 4 10-4 10 0 6 5-1 6-20 4-15 11-10 1-21-22-9-5-10 0-10 4-5 3-20 30-10 8-15 5-20-2-10 2-10 4-5 5-4 6-8 25-11 15-2 5 3 10 17 24 10 21 25 15 36 15 26 20 8 3 10 1 10-2 20-11 30-2 7-4 13-16 25 4 15-3 14-10 16-22 50-19 14-9 5-10 8-40-3-15-9-15 1-5 4-4 5 1 15 17 5 1 5-3 3-7 1-20 5-15 2-10-5-10-15-15-9-30-2-10 3-30-8-40-20-25-10-6zM4675 481l-15-1-30 5-30 11-15 9-7 7-5 10 2 10 5 5 10 6 30 8 25 13 30 3 40-8 10-6 10-10 20-7 5-6 2-8-1-5-8-10-13-4-20 6-10-1-10-6-13-15-12-6zM4710 251l-10 3-9 8-16 30-15 19-5 11-2 10 2 15 5 10 10 7 10 0 15-10 20-27 18-20 5-10 1-15-4-10-15-17-10-4z" fill-opacity="0.24" fill-rule="evenodd"/><path d="M4405 781l-35-2-10 4-4 4-1 5 11 20 0 10-3 5-8 6-20 3-10 6-7 10-3 25-4 5-14 10-13 20-1 5 17 13 5 7 4 10 0 5-4 6-5 3-20 3-18 8-12 2-5 0-5-4-8-13-7-8-5-3-10-2-10 6-5 6-7 26-6 5-42 18-15-7-9 4-15 40-1 10 4 15 11 21 19 19 16 10 45 18 15 12 10 1 25-13 20 0 9-3 4-5 2-15 5-5 10 1 25 11 15-3 11-9 9-17 10-12 5-3 20-2 20-6 10-5 5-5 9-30 1-15-5-10-15-15-3-5 1-5 17-16 10-2 15 2 5-4 5-10 1-10-20-25-7-30-1-10 4-25-3-20-4-8-5-4-20-3-9-5-2-5 1-5 7-10 0-5-2-1zM4136 1012l2 5-1 10-2 3-5 0-5-8 0-5 5-5 5-2 1 2zM4381 917l5 5 2 5-1 5-7 9-5 3-5 1-5-1-5-7-1-5 4-10 7-6 5-1 6 2zM4680 487l-10-4-10 0-25 5-13 4-27 14-9 6-3 5-1 10 9 10 29 8 25 15 30 4 20-4 20-6 8-7 7-10 23-10 2-5-1-5-4-5-10-3-15 7-5 0-10-2-11-7-19-20zM4710 256l-10 2-9 9-12 25-19 26-2 9 1 15 4 10 7 7 10 0 11-7 18-25 19-20 6-10 1-10-3-10-12-15-10-6z" fill-opacity="0.24" fill-rule="evenodd"/><path d="M4375 787l-5 0-5 5 8 15 1 5-7 20-7 6-20 5-10 7-3 7-2 26-5 7-15 10-5 7-1 10 11 16 7 14-1 10-3 5-6 5-7 3-20 3-40 10-6-1-3-5-2-10-5-10-8-5-6 0-6 5-2 5 3 10 7 10-2 5-11 5-29 8-13 7-7 10-5 26-5 4-19 5-5 5-1 10 6 15 12 15 12 12 30 13 25 4 15 10 10 1 20-10 20-2 3-3 4-15 8-7 5-1 10 2 25 12 10 0 5-3 11-13 12-35 4-5 8 0 15 6 10 1 15-4 10-7 9-26-1-15-8-11-20-14-3-5 1-5 27-21 28-9 3-5-1-5-17-25-7-40 6-25-3-15-4-7-5-3-20-5-10-5-6-5-3-5 0-10-6-4-5-1zM4201 1072l3 10-4 12-5 4-5 0-5-2-4-9 2-15 7-5 5 1 6 4zM4376 907l4 1 12 9 4 5 1 5-6 10-11 12-10 4-10-5-5-6-1-15 6-11 10-8 6-1zM4670 487l-15 0-25 6-20 15-15 6-5 8 1 5 9 7 20 4 20 16 10 4 30 2 30-8 10-10 2-10-1-5-21-15-20-21-10-4zM4710 261l-9 1-6 5-15 30-15 20-3 10 0 10 3 10 5 6 5 2 10-3 5-5 13-20 21-20 6-10 1-10-4-10-8-10-9-6z" fill-opacity="0.24" fill-rule="evenodd"/><path d="M4390 816l-5-1-5 2-10 19-5 6-25 10-5 10-1 20-3 10-4 5-15 10-3 5 2 10 10 20 3 10-3 10-6 8-15 9-35 3-15 5-20 10-20 1-20 6-15 1-15 7-5 10-3 25-5 5-17 7-6 8 0 5 4 10 17 21 15 8 20 6 15-3 20 11 10 3 30-13 5-3 8-10 12-7 10 0 25 12 10 1 10-4 5-7 4-10 2-20 2-10 7-12 5-4 5 0 20 11 10 2 10 0 10-6 8-16 1-15-6-10-23-16-5-7-2-7 2-5 19-10 16-13 16-7 3-5-4-8-12-12 2-20-6-30 6-15 0-15-3-5-6-5-31-11zM4207 1027l13 20 2 15-9 15-8 21-10 13-10-5-8-9-2-10 0-20 2-5 10-10 8-27 5-2 7 4zM4381 897l9 11 21 14-2 5-14 12-15 18-10 1-10-3-9-8-3-10 0-10 4-10 23-23 5 1 1 2zM4675 491l-15-1-28 7-6 5-13 20 3 5 21 20 13 7 30 2 25-6 9-8 1-10-2-5-38-36zM4710 265l-5 0-5 2-4 5-16 32-12 18-1 15 3 9 5 4 5 0 5-4 11-19 19-16 10-14 1-5-2-10-6-10-8-7z" fill-opacity="0.24" fill-rule="evenodd"/><path d="M4390 821l-5 1-5 4-10 20-22 11-4 5-7 40-5 5-10 5-4 5 2 10 13 20 0 5-9 15-14 18-5 4-10 1-20-4-10 0-10 4-20 13-20 1-7 3-2 5 1 5 18 29 2 11-1 10-10 15-7 20 1 10 5 5 5 3 10-1 25-12 13-10 12-5 15 1 25 10 9-1 6-5 4-10-2-20 12-30 1-10-5-9-5-2-20 1-10-2-3-3 0-10 3-6 5-3 15 2 20 16 15 2 10 4 4 5 1 10 5 7 20 4 5-1 5-5 4-15-4-10-25-18-13-27-29-15-5-5-2-5 4-27 18-18 7-17 5-7 20-19 10-3 10 0 6-4 2-5-2-5-5-5-26-11zM4180 1010l-12 2-6 5-3 5-1 10 4 20-24 10-6 5-1 5 3 10 6 10 10 9 10 5 5 0 5-4 1-25-4-20 13-10 6-15 2-15-3-5-5-2zM4425 933l-15 4-10 5-5 5-4 10 4 3 11-3 23-20-4-4zM4415 871l-5-2-10 2-5 4-5 7-2 10 0 5 3 5 9 8 15 0 5-2 4-6 1-5-1-10-9-16zM4675 495l-10-3-22 5-8 3-6 7-3 10 1 10 10 15 8 7 10 3 25 1 20-4 9-7 2-5-3-10-33-32zM4680 323l-5 4-2 5 2 10 5 0 3-5 0-10-3-4zM4710 270l-5-1-5 3-5 7-12 28-1 10 2 5 11-2 10-4 14-14 2-5 1-10-5-10-7-7z" fill-opacity="0.24" fill-rule="evenodd"/><path d="M4275 991l-15 1-20 14-20 3-5 3-1 5 2 5 10 20 5 15-2 10-12 20-3 10 0 10 6 7 5 1 10-2 35-20 10-4 15 0 25 10 9-2 4-5 0-10-5-15 14-25 2-10-2-5-7-5-24 0-6-1-5-4-6-15-5-5-14-6zM4160 1063l-5-1-10 2-6 3-3 5 2 10 7 10 10 7 5 1 5-4 3-14-3-13-5-6zM4175 1015l-5 1-5 4-3 7 2 10 6 7 6-2 6-10 0-10-2-5-5-2zM4355 961l-10-4-5 0-5 4-11 16-1 5 3 5 24 17 30 6 25 18 5-1 1-5-3-5-23-22-11-23-19-11zM4410 877l-10 2-5 6-2 7 3 10 9 5 10-2 6-8-1-10-5-8-5-2zM4365 860l-10 4-5 6-3 17 3 10 5-1 5-9 8-25-3-2zM4390 827l-5 1-4 9 0 5 4 5 14-5 5-5-2-5-12-5zM4670 495l-10 1-15 4-11 7-2 5-1 10 6 15 8 8 10 4 25 2 20-6 4-3 3-5-3-10-24-25-10-7zM4710 275l-5-1-5 3-5 7-7 18 2 10 5 3 5-1 10-6 5-6 3-5 0-10-8-12z" fill-opacity="0.24" fill-rule="evenodd"/><path d="M4275 995l-5-1-10 2-15 12-20 5-5 4 0 5 10 22 3 13-3 14-10 16-3 10 2 10 6 4 10-2 32-17 13-4 15-1 25 8 7-3 2-5-1-5-7-10-1-5 16-20 3-10 0-5-3-5-6-2-20 1-12-4-6-5-8-15-9-7zM4155 1066l-10 2-4 4-1 5 5 11 10 7 5-1 2-2 3-10-3-10-7-6zM4175 1021l-5 0-3 6 0 5 3 4 5-1 2-3 1-5-3-6zM4355 965l-10-3-5 1-9 9-2 5 1 5 3 5 17 13 10 3 17-1 3-5-7-20-5-5-13-7zM4410 882l-5 0-5 3-3 7 0 5 3 4 5 2 6-1 6-5-1-10-6-5zM4675 500l-10-3-15 5-10 5-3 5-2 10 3 10 7 10 10 5 25 1 10-1 11-5 3-5-3-10-26-27zM4710 280l-5-2-5 3-5 8-4 13 1 5 3 3 5 1 5-2 7-7 3-10-5-12z" fill-opacity="0.24" fill-rule="evenodd"/><path d="M4275 1001l-10-3-20 14-18 5-2 3 0 7 9 30-3 15-9 15-3 10 1 6 5 5 10-2 45-20 20-1 20 5 3-3-1-5-7-8-1-7 18-20 4-10-1-5-5-4-20 0-10-2-13-9-12-16zM4155 1070l-5-1-5 3-2 5 5 10 7 4 5-2 2-7-2-8-5-4zM4350 966l-9 1-6 5-2 5 1 5 3 5 18 12 10 1 9-3 1-10-5-10-10-7-10-4zM4410 886l-5 0-5 6 2 5 3 2 7-2 2-5-4-6zM4670 500l-13 2-11 5-5 5-2 10 5 15 5 5 6 2 15 2 15 0 12-4 4-5 0-5-2-5-19-20-10-7zM4710 285l-5-3-5 3-4 7-2 10 3 5 8-1 5-4 3-10-3-7z" fill-opacity="0.24" fill-rule="evenodd"/><path d="M4265 1002l-14 10-16 5-7 5 0 5 7 25 0 10-2 10-11 20-1 5 4 8 10 0 45-20 29-3 1-10 4-10 16-15 2-5 1-5-3-6-30-3-11-6-19-20-5 0zM4155 1073l-5-1-4 5 4 9 5 2 5-6-1-5-4-4zM4360 972l-15-3-6 3-3 5 1 5 13 13 5 2 10 1 5-1 3-5-1-5-5-10-7-5zM4670 502l-10 1-15 9-3 10 3 12 5 6 10 4 20 2 15-4 4-5 1-5-2-5-18-19-10-6zM4705 285l-5 4-4 8 0 5 4 3 5-1 5-7 0-7-5-5z" fill-opacity="0.24" fill-rule="evenodd"/><path d="M4270 1006l-5-1-15 9-20 8-1 5 6 22 1 13-3 10-10 20 0 5 2 6 10 0 37-16 33-9 7-16 19-20 1-5-4-5-28-2-12-8-18-16zM4155 1075l-5 0-1 2 1 6 5 2 2-3-2-7zM4355 971l-5-1-8 2-3 5 0 5 11 12 10 3 5 0 6-5-2-10-4-5-10-6zM4675 505l-10-2-17 9-3 5-1 10 6 11 10 5 20 2 12-3 6-5 1-5-2-5-22-22zM4705 288l-6 4-1 5 2 6 5-1 3-5 0-5-3-4z" fill-opacity="0.24" fill-rule="evenodd"/><path d="M4270 1008l-5-1-33 15-2 5 6 25 0 10-2 10-10 20-1 5 3 5 9 1 36-16 29-7 4-3 7-15 19-20 0-5-4-5-26-2-14-8-16-14zM4355 972l-11 0-4 5 0 5 10 11 10 3 5 0 5-4-2-10-4-5-9-5zM4675 506l-10-3-15 9-5 10 1 10 4 5 10 5 20 2 10-1 7-6 1-5-2-5-21-21zM4705 290l-5 3 0 8 5-1 2-3-2-7z" fill-opacity="0.24" fill-rule="evenodd"/><path d="M4270 1009l-5-1-30 13-4 6 5 35-2 10-10 20 0 5 3 5 8 0 36-15 29-8 3-2 8-15 18-20 1-5-5-5-25-1-14-9-16-13zM4350 971l-5 1-5 5 1 5 9 10 10 4 5-1 4-3 1-5-2-5-8-7-10-4zM4675 506l-10-2-8 3-7 6-5 9 2 10 3 5 11 5 19 2 10-2 7-5 1-5-2-5-21-21zM4705 291l-5 4 0 5 5-1 1-2-1-6z" fill-opacity="0.24" fill-rule="evenodd"/></g><ellipse cx="421.5" cy="105" rx="2.8" ry="2.8" transform="rotate(0 421.5 105)" fill="#fff" fill-opacity="0.9" stroke="#111" stroke-width="0.7"/><ellipse cx="467" cy="51" rx="4.5" ry="1.2" transform="rotate(-5 467 51)" fill="#fff" fill-opacity="0.9" stroke="#111" stroke-width="0.7"/></g><rect x="450.8" y="19.4" width="34.4" height="48" fill="none" stroke="#666" stroke-width="0.9"/><rect x="450.8" y="72.7" width="34.4" height="60.5" fill="none" stroke="#666" stroke-width="0.9"/><text x="502.4" y="51.8" text-anchor="middle" font-size="8.4">13.6%</text><text x="502.4" y="105.9" text-anchor="middle" font-size="8.4">3.8%</text><path d="M393 11.1H517V133.2" fill="none" stroke="#222" stroke-width="1.1"/><path d="M393 11.1V133.2H517" fill="none" stroke="#111" stroke-width="1.2"/><path d="M390 133.2H393M393 133.2V136.2M390 111.4H393M416.5 133.2V136.2M390 101.77H393M426.22 133.2V136.2M390 89.03H393M439.08 133.2V136.2M390 79.4H393M448.8 133.2V136.2M390 47.4H393M481.1 133.2V136.2M390 15.4H393M513.4 133.2V136.2" stroke="#111" stroke-width="0.9"/><text x="388.2" y="136.4" text-anchor="end" font-size="9">0.1</text><text x="388.2" y="114.6" text-anchor="end" font-size="9">1</text><text x="388.2" y="104.97" text-anchor="end" font-size="9">2</text><text x="388.2" y="92.23" text-anchor="end" font-size="9">5</text><text x="388.2" y="82.6" text-anchor="end" font-size="9">10</text><text x="388.2" y="50.6" text-anchor="end" font-size="9">100</text><text x="393" y="144.7" text-anchor="middle" font-size="9">0.1</text><text x="416.5" y="144.7" text-anchor="middle" font-size="9">1</text><text x="426.22" y="144.7" text-anchor="middle" font-size="9">2</text><text x="439.08" y="144.7" text-anchor="middle" font-size="9">5</text><text x="448.8" y="144.7" text-anchor="middle" font-size="9">10</text><text x="481.1" y="144.7" text-anchor="middle" font-size="9">100</text><text x="398.4" y="22.9" font-size="11.3">C2</text><g clip-path="url(#c3)"><clipPath id="b3_0"><polygon points="68.7,274.9 68.7,231.9 70.3,230.9 71.9,235.9 72.7,244.8 72.9,259.85 73.1,268.9 78.2,269.9 111.45,270.15 139.95,270.65 158.95,271.9 163.7,273.9 163.7,274.9"/></clipPath><polygon points="68.7,274.9 68.7,231.9 70.3,230.9 71.9,235.9 72.7,244.8 72.9,259.85 73.1,268.9 78.2,269.9 111.45,270.15 139.95,270.65 158.95,271.9 163.7,273.9 163.7,274.9" fill="#000" fill-opacity="0.9"/><path d="M70.1 261.4h1.3M72.5 237.3h1.1M70.0 244.8h2.7M70.6 251.6h2.8M70.6 233.4h1.6M69.2 260.3h1.0M72.8 245.2h1.3M68.9 237.7h1.8M88.6 272.9h1.2M75.5 274.8h0.8M127.4 273.3h1.5M112.3 271.7h1.5M80.9 271.5h1.6M149.1 272.3h3.5M85.9 274.3h1.2M161.5 271.5h2.4M101.2 274.1h0.9M144.9 272.6h3.5M70.2 270.6h1.2M162.5 274.1h1.4M112.8 272.3h1.2M137.5 270.4h1.0M85.1 271.1h1.0M133.2 271.2h3.2M120.1 273.0h1.1M94.2 274.1h2.2M71.2 271.1h3.5M82.5 271.6h3.2M89.9 270.3h2.8M140.6 273.6h2.7M144.1 270.4h2.3" stroke="#fff" stroke-width="0.7" stroke-opacity="0.75" clip-path="url(#b3_0)"/><g transform="scale(0.1)" stroke="#111" stroke-width="10" stroke-linejoin="round"><path d="M1728 2759l9-5 5-5 3-5-2-10-8-10-49-30-29-11-35-7-95-10-50-2-65 2-110 10-40-1-40 3-45-2-110 6-35-1-30-3-50 0-45-8-55-8-25-12-25-5-11-6-4-7-4-13-1-10 5-17 5-8 5-4 5-1 15 5 6 5 12 15 7 4 25 1 20 5 25-2 40-8 30-4 15-4 65-24 25-14 35-28 35-39 10-7 15-5 35 1 20-3 20-9 14-14 9-20 8-30 3-20 0-30-11-100 3-30 9-23 24-32 16-30 35-56 14-19 23-20 88-57 45-36 17-17 11-15 14-25 8-20 2-15-2-10-6-15-8-10-11-8-54-27-12-10-1-5 1-10 19-65 5-50-1-15-5-15-7-11-10-10-10-6-15-3-15 2-15 4-35 20-35 29-42 50-58 94-55 55-95 106-45 57-45 49-26 39-59 112-50 83-15 31-15 25-40 99-16 70-4 8-5 5-5 1-5-2-5-7-10-29-10-46-12-70-11-40-9-45-9-30-4-20-1-20 2-45 7-60 2-45-1-50-4-25-11-45-9-16-5-4-10-1-5 3-10 10M1595 2759l22-9 30-7 8-4 4-5 1-10-7-15-17-15-19-8-40-8-55-5-60-2-50 5-90 14-55-1-45 5-50-5-35 7-45 2-35 5-25-1-25-5-10 0-30 6-20 2-15-2-30-8-40 2-46-3-29-5-13-5-7-5-7-10-7-20-2-15 4-130-10-55-3-40-3-30-15-30-16-55-6-9-5-2-5 1-10 9-5 9M1477 1604l-20-3-20 6-40 24-25 23-29 35-14 20-12 25-17 30-13 40-20 32-31 28-44 49-25 20-30 30-43 56-47 48-17 22-35 65-33 75-20 30-63 115-13 30-12 35-9 45 1 15 5 25 4 10 7 9 20 21 10 8 10 4 20 5 50 5 15-3 65-20 25-12 30-22 16-15 24-33 11-12 9-4 10-1 40 2 15-1 15-7 15-14 7-15 10-35 4-25-4-50-10-60-2-20 2-20 8-22 25-33 50-85 15-20 25-20 50-28 40-26 40-31 21-20 13-15 10-20 9-25 0-20-4-10-9-11-40-21-48-13-7-5-2-5 2-10 22-40 12-30 4-20 3-30-1-20-6-15-9-11-15-9zM677 2150l10 22 5 7 5-1 15-44 8-50 1-25-3-50-11-32-10-15-5-1-5 3-3 5-4 15-3 26M749 2759l8-4 18-6 2-5-2-5-8-7-20-6-21-12-9-10-20-30 5-20 20-22 6-13 3-15-1-15-5-20 6-25 1-40-2-15-7-25-5-25 2-30-1-15-5-10-12-5-10 1-15 9M1397 2759l17-10 13-5 10 1 13 9 7 3 45-3 20-11 15-5 15-12 10-2 35-4 10-4 4-7-2-5-5-5-27-11-70-8-35-2-60 10-50 11-35 11-45-4-35 7-45 4-10-2-15-7-10 0-30 11-15 1-25-4-10 2-10 5-15 13-10 4-10-2-25-14-20-6-40 11-25 10 3 5 17 8 10 0 20-7 10 4 14 10M842 2728l-10 2-3 4 1 5 9 5 8 0 4-5-1-5-8-6zM1462 1613l-10-1-10 2-25 12-25 17-21 21-31 40-14 30-17 30-4 15-6 45-9 35-4 10-5 5-44 26-10 8-15 21-32 25-23 33-40 32-25 25-16 20-21 20-7 10-27 50-14 35-14 25-13 50-20 30-4 25-4 11-10 13-20 15-10 11-19 30-7 20-8 45-10 25 0 10 4 10 5 6 20 14 5 7 10 23 10 9 30 10 20 2 45-10 40-11 25-13 25-21 20-26 17-30 8-8 15-2 45 4 15-1 15-6 12-12 17-50 4-20-5-50-12-60-2-20 1-20 10-24 27-36 15-25 23-45 17-25 24-20 44-22 35-20 50-35 21-18 23-25 8-15 6-20 3-15 0-10-4-10-10-10-42-20-15-4-35-3-9-3-3-5 1-10 4-10 25-40 15-30 5-15 3-20 0-25-1-10-5-10-10-11-20-10zM697 2062l-2 12 2 7 2-12-2-7zM1487 2689l-17 0-13 3-11 7-7 10 3 5 10 5 25 1 20 3 15-5 13-14 0-5-8-5-30-5zM1452 1624l-10 0-10 4-20 8-15 10-23 23-33 45-10 25-12 20-5 15-1 30 8 45-2 10-9 15-10 10-28 17-17 13-20 30-43 32-7 8-13 25-10 8-35 19-7 8-8 20-4 5-26 14-12 11-7 10-20 40-8 30-21 25-5 10-4 20 2 25-1 10-9 20-6 20-31 55-5 5-18 5-10 6-15 19-9 20-5 35-6 25 1 10 22 25 12 26 15 12 15 7 15 1 40-7 50-14 20-11 19-19 23-35 8-25 5-6 5-3 10-1 65 6 10-2 13-9 7-10 6-20 10-20 4-15-9-75-11-50-1-15 2-15 4-12 10-17 25-31 16-25 20-55 11-15 27-20 61-27 55-34 39-34 24-30 6-15 5-25-2-10-8-10-34-19-15-5-30-2-35 5-5 0-5-4 25-45 27-40 14-30 5-20 1-25-1-10-5-10-11-11-20-9z" fill="none"/><path d="M1492 1833l-15-2-15 1-30 12-35 1-35 6-20 10-32 28-38 26-30 44-15 14-30 18-13 23-7 8-34 22-4 5-8 20-7 10-7 7-21 13-9 21-20 15-6 14-1 20-3 11-6 9-19 15-8 15-1 15 2 15 12 30-1 5-10 10-1 5 5 25-1 10-2 3-5 1-15-1-10 4-10 13-6 20-4 7-5 3-20 2-10 2-8 6-6 10-2 10 2 15-11 25-2 25 4 10 18 29 15 17 15 7 35-3 30-10 20-5 11-5 24-19 9-11 13-25-1-25 9-10 15-11 10-1 25 7 30-1 15 1 10-1 11-9 22-40 4-15-3-25-6-25 0-25-8-30-4-25 1-15 6-20 17-28 34-42 6-15 5-33 5-12 10-16 10-9 18-10 67-26 40-23 22-16 34-35 21-40 4-20-6-11-40-25zM1452 1638l-10-2-20 3-15 7-10 7-20 21-32 45-8 20-13 25-4 20 2 14 5 11 11 15 14 11 10 3 10-1 10-5 20-14 19-19 15-25 23-30 18-40 3-25-2-15-6-10-10-10-10-6z" fill-opacity="0.24" fill-rule="evenodd"/><path d="M1477 1838l-15 3-5 3-10 15-5 1-20-5-15-1-45 11-15 8-60 41-15 15-31 50-9 8-27 12-18 28-29 22-11 22-15 21-23 17-4 10-4 20-4 4-14 6-4 5-12 33-18 22-6 10-4 20 3 12 15 13 5 10 0 15-13 30 1 10 2 5 10 7 24 3 6 5 1 5-6 8-10 3-40 2-20-5-10 2-6 5-19 29-10 5-10-1-9 2-1 5 7 15-2 5-15 20-1 10 2 15-2 15 6 12 20 20 15 6 20 2 40-14 10-6 10-16 20-11 6-8 2-10-6-25 3-10 21-15 9-14 5-4 15 0 25 15 10 2 25-6 20-1 5-1 6-6 19-30 3-10-3-25-11-25 6-25-13-60 1-10 7-20 25-40 20-21 9-14 4-10 2-25 2-10 13-27 6-8 24-15 75-27 35-20 23-18 31-35 17-40 1-10-1-5-4-5-26-20-16-6zM1437 1647l-15-1-10 3-10 6-15 14-12 15-9 20-17 20-16 35-5 15 1 15 5 10 12 15 11 8 10 2 10-2 20-10 10-8 9-10 15-25 16-17 8-13 14-35 2-10 0-10-4-8-19-22-11-7z" fill-opacity="0.24" fill-rule="evenodd"/><path d="M1037 2383l-20-4-10 4-5 4-13 22-7 26-15 12-4 7 6 15-2 20 4 10 11 8 18 7 14 0 14-5 9-6 3-4-1-5-11-15 0-5 2-5 7-2 25 4 10-5 4-7-4-30 10-20 2-5-2-4-10-5-35-12zM1477 1849l-5 0-5 3-6 12-4 4-5 2-10 0-30-9-15 2-25 8-25 15-25 12-35 25-14 16-20 40-6 9-9 6-26 11-5 5-15 23-20 17-31 54-19 14-4 6-2 25-4 8-20 7-9 10-19 35-4 10 2 10 9 20 5 25 8 20-5 25 4 5 19 8 5 5 3 7 6 25 11 10 25 10 15 9 10 2 10-3 25-11 15-10 10-10 4-12-1-15-5-10-16-20-1-5 14-15 2-10-3-20-13-35 2-10 37-62 28-33 3-10 4-33 15-32 7-10 8-6 25-13 35-13 35-11 35-19 16-13 14-22 17-18 7-15 4-25-2-5-5-5-17-15-9-5zM1427 1653l-10 0-10 5-24 21-6 10-5 20-19 20-15 30-2 10 1 11 18 29 7 5 10 1 10-2 20-11 12-13 13-24 15-14 8-12 13-35 1-15-6-10-16-18-5-4-10-4z" fill-opacity="0.24" fill-rule="evenodd"/><path d="M997 2479l-5 5 5 3 3-3-3-5zM1032 2392l-10-2-10 2-8 7-5 10-3 15 1 15 5 15 5 6 5 0 20-7 10 0 15 4 6-3 0-35-3-10-13-10-15-7zM1422 1869l-10-2-10 1-25 8-20 17-20 4-10 4-40 30-13 18-16 40-11 9-25 9-10 7-13 20-22 24-29 51-21 19-3 6-1 25-2 5-4 4-15 4-10 5-12 17-7 15-1 10 12 50 18 25 4 15 11 15 3 10 2 20 4 10 11 10 20 6 15 8 10 1 15-7 15-13 15-9 4-6 2-10-4-10-26-25-1-5 2-5 20-15 3-5 0-10-4-15-6-10-18-15-2-6 0-9 5-4 10-3 10-8 32-50 25-30 4-10 4-34 20-41 12-10 28-14 35-14 35-9 32-18 12-10 13-25 19-20 4-10-1-10-4-7-5-4-15-6-25-1-25-7zM1422 1659l-15 4-19 16-6 10-7 25-18 17-12 23-2 10 2 10 9 10 8 17 5 5 5 2 10-1 10-4 10-7 10-12 10-20 20-20 7-15 9-25-1-15-7-10-13-14-5-3-10-3z" fill-opacity="0.24" fill-rule="evenodd"/><path d="M1027 2399l-10 0-5 3-7 12-1 10 1 10 7 9 5 2 30-6 5-10 1-10-6-10-10-7-10-3zM1422 1874l-15-2-22 7-8 5-15 17-25 2-10 4-36 27-8 10-5 10-6 30-5 11-10 7-30 9-10 6-15 23-21 24-17 25-12 23-18 17-5 10 1 25-3 10-30 8-11 12-6 15-1 10 11 45 6 10 13 15 16 25 4 15 2 25 8 10 18 4 15 10 10 2 14-6 27-25 0-10-3-5-23-18-4-12 4-10 21-15 3-5 0-10-4-9-5-5-20-8-3-3-7-25 0-10 5-5 25-1 10-6 6-8 24-39 24-31 3-10 2-25 24-50 7-7 60-28 35-8 15-6 25-14 12-12 8-23 17-22 0-5-1-5-4-5-12-8-45-12zM1432 1668l-10-3-10 1-20 14-7 9-3 20-4 10-16 13-9 12-4 10 0 10 3 7 12 13 9 15 4 2 10-1 15-9 9-12 10-20 16-15 7-10 10-30 0-10-7-12-15-14z" fill-opacity="0.24" fill-rule="evenodd"/><path d="M1032 2408l-10-2-5 2-5 6-1 10 1 5 5 6 5 1 10-2 10-7 1-8-1-3-10-8zM1422 1878l-15-1-15 5-11 7-11 15-8 4-20-1-10 2-40 31-8 14-2 31-4 14-4 5-9 5-33 5-10 6-17 24-28 33-21 37-20 20-3 15 7 30 0 5-3 5-15-4-15 0-10 5-7 9-4 10-1 15 12 40 34 45 11 41 5 4 15 3 15 14 5 2 10-4 19-20 3-5-1-5-5-5-16-12-4-8-2-10 2-10 4-5 17-10 4-5 2-5-3-10-5-4-10-2-15 1-4-5 0-20-7-20 1-10 5-6 10-4 15 3 10 1 10-6 5-6 20-34 25-33 3-10 1-25 14-25 12-31 6-4 19-7 45-24 35-6 15-6 28-17 6-10 4-20 12-20-1-10-4-5-10-6-35-10zM1432 1674l-10-4-10 1-10 5-10 8-5 10-5 25-20 18-7 12-2 10 1 5 24 30 9 1 10-4 5-4 6-8 9-20 16-15 8-10 8-25 1-10-1-5-5-10-12-10z" fill-opacity="0.24" fill-rule="evenodd"/><path d="M1032 2419l-5-4-5 2-2 2 1 5 6 1 3-1 2-5zM1122 2192l-5-2-10 0-10 7-5 7-3 10 1 10 7 25 8 15 32 39 5 26 5 10 5 4 15 6 14 15 6 0 11-10 3-10-2-5-12-12-12-33-3-3-12-2-5-5 2-15 15-30 0-10-2-5-8-9-5-1-20 11-5-1-2-20-2-5-6-7zM1202 2261l-10 0-10 7-4 11 2 5 12-3 13-7 2-7-5-6zM1427 1883l-15-2-15 4-10 7-15 17-5 3-10 1-15-2-10 3-20 19-17 11-4 5-3 10 0 50-12 5-39 5-11 5-18 25-31 34-20 35-16 16-4 10 1 10 9 19 10 15 5 1 20-8 20 7 10 0 5-2 10-9 19-33 22-30 4-15-1-20 18-30 6-30 2-3 30-8 45-24 30-5 15-4 15-7 13-9 6-10 2-20 9-15 2-10-1-5-6-6-30-10zM1432 1679l-5-3-10-1-10 3-10 6-7 10-5 25-3 5-18 15-6 10-1 10 2 5 23 26 10 0 10-8 15-28 17-15 6-10 6-20 1-10-4-10-11-10z" fill-opacity="0.24" fill-rule="evenodd"/><path d="M1167 2301l-15-1-5 4-2 10 0 10 7 11 10 4 15 3 4-3-2-20-4-10-8-8zM1117 2197l-10-1-10 8-4 10 1 10 3 12 10 20 20 28 10 6 5-2 2-4 8-20 12-20 2-10-4-8-5-2-20 9-10 1-4-10 0-20-6-7zM1282 2021l-10-1-25 3-15 4-25 30-25 24-20 36-20 22-1 5 1 10 5 9 10 11 5 2 5-1 10-8 5 0 12 12 13 6 10-2 9-9 14-25 19-25 8-15 1-10-3-20 3-5 16-20 5-15 0-10-2-5-5-3zM1437 1889l-20-4-10 1-14 8-16 17-10 6-25-2-11 4-14 16-20 14-3 5-1 10 1 25 6 15 7 4 15-1 50-27 40-6 15-6 13-9 6-10 2-20 10-20 0-5-1-5-6-5-14-5zM1432 1683l-5-3-10-1-10 3-10 6-4 6-3 20-4 10-19 16-6 9-1 5 2 8 20 23 5 2 10-3 8-10 9-20 18-16 6-9 6-20 0-10-5-10-7-6z" fill-opacity="0.24" fill-rule="evenodd"/><path d="M1167 2308l-10-2-5 3-2 5-1 5 3 9 10 6 5 0 5-3 2-7-2-10-5-6zM1117 2204l-5-4-5 1-5 3-5 10 1 10 4 12 13 18 12 22 5 4 5-1 20-34 2-6-2-6-5 0-20 9-10 0-4-3-1-5 2-20-2-10zM1282 2027l-5-2-10-1-25 7-55 49-11 14-12 25-19 20-1 10 8 13 5 3 5 1 15-12 5 0 5 6 7 14 8 6 10 2 10-6 19-32 19-25 4-10 0-15-6-15 2-5 17-15 7-10 2-15-4-7zM1422 1889l-10 0-10 5-30 26-10 2-15-3-10 1-6 4-12 15-16 10-5 10-1 10 1 20 5 10 9 6 10-1 46-25 14-4 30-3 15-6 10-7 6-10 1-20 9-20 0-5-2-5-7-5-22-5zM1427 1684l-15 0-12 5-5 10-6 25-7 8-15 12-3 5 0 10 3 5 15 16 5 3 5 0 6-4 4-5 10-21 20-18 6-11 4-15 0-10-5-8-10-7z" fill-opacity="0.24" fill-rule="evenodd"/><path d="M1167 2314l-5-3-7 3-1 5 3 8 5 2 5-2 2-8-2-5zM1147 2244l-15 5-4 5-1 6 5 9 5-1 5-8 6-11-1-5zM1112 2207l-5-1-6 8 1 9 5 7 5-5 2-6 0-5-2-7zM1277 2028l-15 0-13 6-12 11-15 9-15 16-20 13-8 11-16 30-14 15-2 5 1 5 4 7 5 3 5-1 10-8 10-1 7 5 6 15 7 8 10 3 10-6 18-30 18-25 5-15-1-7-5-8-5-3-18-2 38-23 7-7 3-6 2-9-2-7-5-4zM1432 1893l-10-1-11 2-39 29-10 2-20-3-10 6-10 13-15 10-6 8-2 10 1 15 7 14 5 3 10 1 50-27 40-5 10-4 12-7 6-10 0-20 9-20 0-5-3-5-14-6zM1427 1687l-15 0-10 4-5 8-4 20-5 10-16 13-6 7 1 10 15 18 5 3 5 0 5-2 5-7 10-21 18-16 6-10 4-15-1-10-2-5-10-7z" fill-opacity="0.24" fill-rule="evenodd"/><path d="M1207 2078l-10 2-10 6-9 13-11 24-15 16-1 5 1 6 5 3 15-8 5-1 10 3 5 6 5 16 4 5 6 3 5 1 5-2 7-7 11-20 21-30 5-15-4-10-5-3-10-1-20 4-5-1-5-4-3-10-2-1zM1277 2032l-10-2-11 4-14 16-20 9-7 10 0 5 7 2 10-1 15-8 15-4 10-5 5-5 4-9 1-5-5-7zM1437 1898l-10-3-10 1-45 30-10 1-15-2-10 2-14 17-15 10-4 5-2 10 0 10 5 15 5 5 10 0 25-14 25-12 40-4 19-10 7-10 0-25 7-15 0-5-8-6zM1422 1688l-10 1-10 5-3 5-5 20-4 10-18 15-3 5-1 5 1 5 18 19 5 0 5-3 13-26 19-15 6-10 3-15-1-10-5-7-10-4z" fill-opacity="0.24" fill-rule="evenodd"/><path d="M1202 2083l-10 2-9 9-16 34-10 11-2 5 2 4 15-7 15 3 5 5 10 23 5 4 5 0 6-2 8-10 8-15 21-30 4-15-2-6-5-4-5-1-25 3-10-1-10-12zM1237 2059l-10 3-3 2 0 5 10 0 6-5-3-5zM1272 2032l-10 2-7 5-7 15 0 5 14 1 12-6 4-5 1-10-2-4-5-3zM1432 1899l-10 0-5 2-45 27-10 1-15-2-10 3-11 14-20 15-3 15 4 17 5 5 10 2 23-14 27-12 40-5 17-8 7-10 0-25 5-15-1-5-8-5zM1432 1694l-5-3-10-1-12 4-6 10-7 25-21 20-1 5 1 5 16 17 5 0 5-3 12-24 22-20 6-20-1-10-4-5z" fill-opacity="0.24" fill-rule="evenodd"/><path d="M1202 2087l-5-2-5 2-7 7-18 40 25 12 5 8 4 15 6 6 5 0 10-6 14-25 15-20 5-10 2-10-2-5-9-4-30 4-5-2-10-10zM1277 2038l-5-4-10 2-8 8-1 10 9 4 10-4 6-10-1-6zM1432 1902l-10 0-11 7-19 8-20 13-10 1-15-2-10 4-10 12-15 10-5 6-3 13 3 15 5 5 10 2 20-12 30-13 35-3 10-3 10-5 6-6 3-10-2-20 4-15-2-5-4-2zM1427 1692l-15 0-10 7-9 30-21 20-1 5 2 5 14 15 5 1 5-4 11-22 19-16 5-7 4-12 0-10-4-9-5-3z" fill-opacity="0.24" fill-rule="evenodd"/><path d="M1197 2087l-5 1-5 4-5 8-10 24-1 10 21 11 5 7 5 17 5 5 5 1 10-7 13-24 16-20 4-10 2-10-3-5-7-3-35 3-10-9-5-3zM1272 2036l-5 0-7 3-5 10 2 5 5 2 5-1 8-6 2-5-1-5-4-3zM1427 1904l-35 14-20 13-10 1-15-2-9 4-11 12-15 11-5 6-2 11 4 15 5 5 8 1 20-12 30-13 35-3 10-3 10-5 5-5 3-10-2-20 2-15-3-4-5-1zM1427 1693l-15 0-9 6-9 30-3 5-18 15-1 5 2 5 13 14 5 1 5-4 10-21 20-17 5-8 3-10 1-10-4-7-5-4z" fill-opacity="0.24" fill-rule="evenodd"/><path d="M1197 2088l-5 1-9 10-11 30 2 5 18 10 5 6 6 19 4 4 5 1 5-2 5-5 13-23 15-20 5-10 1-10-3-5-6-3-35 4-15-12zM1272 2037l-10 1-5 6-1 5 4 5 7 0 7-5 2-5-1-5-3-2zM1432 1908l-5-2-30 10-25 15-25 0-8 3-12 13-15 10-5 7-1 15 3 10 6 5 7 1 20-13 30-12 35-3 10-3 9-5 5-5 3-10-2-36zM1427 1693l-5-1-10 1-9 6-9 30-3 5-17 15-1 5 2 5 12 13 5 1 5-3 10-22 20-16 5-8 3-10 0-10-3-7-5-4z" fill-opacity="0.24" fill-rule="evenodd"/><path d="M1197 2089l-5 1-9 9-11 30 3 5 18 10 4 6 6 19 4 4 5 1 5-2 5-5 13-23 15-20 5-10 1-10-3-5-6-2-35 3-15-11zM1272 2037l-10 2-4 5-1 5 4 5 6 0 7-5 2-5-1-5-3-2zM1427 1907l-30 10-25 15-25-1-8 3-12 14-15 10-5 6-1 15 4 10 6 5 6 0 20-12 30-13 35-2 19-8 5-5 3-10-3-35-4-2zM1427 1694l-5-2-10 1-8 6-9 30-3 5-18 15-1 5 2 5 12 13 5 1 5-4 10-21 17-14 8-10 3-10 0-10-3-7-5-3z" fill-opacity="0.24" fill-rule="evenodd"/></g><ellipse cx="143" cy="191.5" rx="3.5" ry="1.8" transform="rotate(-25 143 191.5)" fill="#fff" fill-opacity="0.9" stroke="#111" stroke-width="0.7"/><ellipse cx="114.5" cy="225" rx="1.8" ry="5" transform="rotate(20 114.5 225)" fill="#fff" fill-opacity="0.9" stroke="#111" stroke-width="0.7"/></g><rect x="126.5" y="160.5" width="34.4" height="48" fill="none" stroke="#666" stroke-width="0.9"/><rect x="126.5" y="213.8" width="34.4" height="61.1" fill="none" stroke="#666" stroke-width="0.9"/><text x="177.85" y="192.9" text-anchor="middle" font-size="8.4">19.2%</text><text x="177.85" y="247" text-anchor="middle" font-size="8.4">3.3%</text><path d="M68.7 152.2H192.2V274.9" fill="none" stroke="#222" stroke-width="1.1"/><path d="M68.7 152.2V274.9H192.2" fill="none" stroke="#111" stroke-width="1.2"/><path d="M65.7 274.9H68.7M68.7 274.9V277.9M65.7 253.1H68.7M92.2 274.9V277.9M65.7 243.47H68.7M101.92 274.9V277.9M65.7 230.73H68.7M114.78 274.9V277.9M65.7 221.1H68.7M124.5 274.9V277.9M65.7 189.1H68.7M156.8 274.9V277.9M65.7 157.1H68.7M189.1 274.9V277.9" stroke="#111" stroke-width="0.9"/><text x="63.9" y="278.1" text-anchor="end" font-size="9">0.1</text><text x="63.9" y="256.3" text-anchor="end" font-size="9">1</text><text x="63.9" y="246.67" text-anchor="end" font-size="9">2</text><text x="63.9" y="233.93" text-anchor="end" font-size="9">5</text><text x="63.9" y="224.3" text-anchor="end" font-size="9">10</text><text x="63.9" y="192.3" text-anchor="end" font-size="9">100</text><text x="68.7" y="286.4" text-anchor="middle" font-size="9">0.1</text><text x="92.2" y="286.4" text-anchor="middle" font-size="9">1</text><text x="101.92" y="286.4" text-anchor="middle" font-size="9">2</text><text x="114.78" y="286.4" text-anchor="middle" font-size="9">5</text><text x="124.5" y="286.4" text-anchor="middle" font-size="9">10</text><text x="156.8" y="286.4" text-anchor="middle" font-size="9">100</text><text x="74.1" y="164" font-size="11.3">C3</text><g clip-path="url(#c4)"><clipPath id="b4_0"><polygon points="231.2,274.9 231.2,222.9 233.08,221.9 234.96,226.9 235.9,238.5 236.13,256.7 236.37,269.2 238.2,270.2 262.7,270.44 283.7,270.9 297.7,272.08 301.2,273.96 301.2,274.9"/></clipPath><polygon points="231.2,274.9 231.2,222.9 233.08,221.9 234.96,226.9 235.9,238.5 236.13,256.7 236.37,269.2 238.2,270.2 262.7,270.44 283.7,270.9 297.7,272.08 301.2,273.96 301.2,274.9" fill="#000" fill-opacity="0.9"/><path d="M235.5 237.5h1.4M231.8 252.5h2.8M235.0 250.7h2.5M235.5 267.1h2.3M235.1 231.2h1.4M233.7 252.9h1.5M235.3 243.7h2.3M232.6 237.2h1.0M236.2 246.5h1.3M233.6 236.4h3.0M235.7 234.0h1.8M232.7 237.2h2.0M268.9 270.8h1.1M234.5 273.7h1.9M251.9 270.7h2.0M255.9 273.1h2.4M264.4 274.3h2.1M283.3 271.3h3.5M259.5 270.9h2.6M236.4 271.7h3.5M250.8 273.0h1.6M282.0 270.7h1.5M258.7 271.2h3.2M299.5 271.2h2.7M251.6 273.6h1.8M282.8 272.3h2.0M260.2 272.0h2.6M270.4 270.3h3.3" stroke="#fff" stroke-width="0.7" stroke-opacity="0.75" clip-path="url(#b4_0)"/><g transform="scale(0.1)" stroke="#111" stroke-width="10" stroke-linejoin="round"><path d="M3206 2759l6-6 4-9-4-10-7-5-15-5-33-6-75-19-45-2-50-10-220-11-50-5-32-7-12-10-5-10 2-10 7-10 40-39 50-57 25-38 58-76 37-55 24-30 27-45 27-50 22-53 62-102 18-40 28-40 18-20 30-40 33-50 14-25 11-30 5-20 1-20-3-15-7-15-10-12-31-23-9-10-4-15-4-25-5-15-10-15-10-10-12-6-10-3-15 0-15 3-20 9-15 10-29 27-19 25-20 30-32 57-27 23-23 23-30 19-40 38-47 50-27 25-37 45-22 30-27 29-25 36-20 36-15 19-32 45-18 37-31 48-26 30-24 35-24 26-15 12-5 1-5-2-5-4-10-18-5-16-15-79-17-125-7-35-6-21-10-22-5-7-5-3-5 0-5 4-10 16M3072 2759l30-8 4-7-2-5-15-10-12-4-45 0-10-4-20-13-15-5-60 2-55-10-35 0-40-3-45 2-70-5-17-5-36-15-10-10-5-15 1-10 4-5 54-35 70-70 32-45 22-23 39-47 40-60 24-25 52-95 17-50 20-35 27-60 10-30 11-20 15-20 50-43 10-10 22-27 13-22 18-23 9-15 10-25 7-25 3-20-3-15-5-10-9-11-40-31-5-13-3-35-3-15-7-15-10-10-12-7-10-2-10 0-15 3-15 5-15 9-15 12-14 15-18 25-24 40-11 25-8 30-15 26-24 24-36 20-15 13-25 27-24 20-17 25-29 22-15 19-19 19-18 35-35 35-17 30-21 22-15 31-27 37-24 40-26 30-18 28-29 32-71 103-15 15-5 1-5-3-10-12-6-14-23-150-3-40-10-80-4-15-9-22-10-13-5 0-5 6-10 41M2389 2759l13-13 5-3 20 1 5-3 5-5 1-7-3-10-8-8-25 2-15-6-10-10-9-18-2-15 3-30 8-15 20-24 5-2 5 1 15 9 10 2 10-2 20-16 5-1 5 3 5 9 10 34 5 6 10 2 15-6 25-1 10-3 10-6 16-20 9-7 10-3 20-1 9-4 56-35 20-26 25-20 36-39 19-17 47-53 38-58 20-17 8-10 22-40 10-26 17-29 10-45 20-35 19-55 6-30 4-10 40-45 49-32 23-23 12-15 12-25 22-25 10-20 9-35-1-25-4-10-8-10-15-13-20-12-8-10-4-55-4-15-5-10-9-9-10-4-15-2-15 2-15 5-15 9-24 24-14 20-30 50-7 20-6 40-7 20-7 11-10 11-65 52-20 23-20 17-16 26-27 20-17 22-18 18-19 35-32 30-12 15-8 15-11 25-25 35-25 47-20 25-30 18-10 9-18 26-32 35-23 35-12 25-18 25-14 25-6 15-3 15-1 35-3 9-5 6-10-1-10-5-10-19-19-20-3-10-1-35-6-25 1-30-4-70-11-55 0-35-8-45-4-17-5-7-5 0-9 9-11 29M2931 2759l4-5 1-5-2-5-7-5-25-5-15-10-10-4-30 2-30-11-15-4-15 0-30 11-35 4-50-12-15 1-25 5-10 0-20-11-10-2-10 2-20 10-35 2-35 12-6 5-2 5 1 5 10 10 9 5M2874 2759l18-4 13 4M2302 2681l7 8 1 5-2 10-6 7M2327 2740l-5 2-2 2 2 3 6-3-1-4zM3087 1659l-20 0-20 5-15 9-16 16-40 60-8 15-5 20-1 30-3 15-4 15-8 13-10 12-26 25-24 34-21 21-19 27-50 33-9 10-16 28-62 62-22 35-14 35-7 30-15 25-27 25-7 10-8 20-3 4-25 4-15 7-20 25-25 25-15 21-17 19-5 10-8 24-18 26-7 15-6 15 0 10 2 10 4 5 17 15 9 25 14 20 13 25 12 11 15 7 10 0 10-8 10-18 10-8 30-12 25-18 10-2 20-1 10-5 20-29 10-11 30-20 40-31 9-10 11-15 30-28 40-60 30-27 21-40 8-25 16-25 4-15 6-38 17-32 16-50 8-35 7-15 7-8 20-14 25-28 35-18 20-15 20-22 15-33 23-22 7-15 6-25 1-15-3-15-4-10-8-10-12-9-20-11-9-10-1-10 2-30-6-35-5-10-5-5-11-5zM2302 2564l3 10 2 25 5 6 10 1 15-3 10-5 5-5 2-9-1-5-8-15-4-10 9-30-5-30-1-30-2-10-9-15 0-5 11-25 3-10-1-70-5-25-11-30-6-40-2-6-5-3-5 8-1 11-7 20-2 21M2302 2427l2 7-2 10" fill="none"/><path d="M3082 1668l-15 0-15 2-10 4-10 6-17 19-39 60-7 20 2 40-2 15-4 10-18 28-33 37-19 40-2 15 5 30-2 10-9 6-15 3-30-6-10-1-15 5-10 8-8 10-11 25-6 8-25 18-29 29-28 40-7 20-4 30-13 40-6 10-22 15-8 10-3 15 0 20-5 10-5 3-10 2-25-8-15 2-38 36-7 10-10 22-20 11-7 7-4 10-4 21-20 39-2 15 3 5 17 15 12 22 25 36 5 3 5-1 40-13 25-4 28-18 27-5 10-5 30-36 40-35 30-18 16-21 26-20 43-60 32-30 16-35 6-25 18-25 4-10 8-45 12-25 21-80 10-25 12-15 26-16 23-24 42-22 25-21 13-17 8-25 4-6 20-18 8-16 4-25-5-25-5-10-7-7-30-16-8-7-3-10 5-30-1-15-8-30-5-6-10-5zM2327 2375l-5 4-5 9-3 11 3 10 5 2 5-3 4-4 3-10-2-14-5-5zM2302 2335l5 9 10 12 5 4 5 0 5-7 4-14 0-15-4-15-5-8-5-4-5 0-10 9-5 8" fill-opacity="0.24" fill-rule="evenodd"/><path d="M2837 2023l-10-1-10 5-6 7-20 40-9 8-15 7-10 8-28 27-14 20-10 20-2 25-10 30-7 30-9 15-22 20-5 10-1 20-6 10-8 5-13 5-10 1-25-1-10 4-30 23-5 8-5 20-3 5-7 5-20 8-5 5-6 27-11 25-1 15 20 35 8 8 20 7 15 10 10 2 15-3 25 0 25-13 25-5 10-5 10-9 20-27 33-40 7-5 15-4 10-6 18-20 22-15 13-15 17-32 20-15 23-23 17-40 5-25 17-20 6-10 8-40 14-30 1-15-2-10-4-7-30-8-6-5-2-5 1-5 17-15 3-5 0-15-3-20-5-3-10-1-35 8-5-1-15-9zM3077 1677l-25 1-10 3-10 7-18 21-36 55-4 20 7 35-2 15-7 15-20 31-10 13-20 21-7 15-1 15 4 25 0 40 4 9 10 1 15-7 25-2 30-14 21-17 59-34 22-21 6-10 8-25 8-10 16-15 5-9 3-11 0-15-8-26-5-7-9-7-26-13-5-5-3-7-2-15 6-20 1-15-5-15-7-15-10-7z" fill-opacity="0.24" fill-rule="evenodd"/><path d="M2852 2053l-15-3-10 2-7 7-11 20-27 22-15 5-10 7-20 17-12 14-10 20-1 25-10 25-8 40-9 17-20 28-1 20-4 8-5 3-60 22-35 9-10 8-2 5-5 20-3 6-10 7-16 7-5 5-13 50 3 10 11 21 8 9 37 12 35 7 10-2 20-10 30-8 11-9 22-40 17-16 15-24 5-5 20-3 5-3 18-19 17-8 10-9 8-18 1-25 1-5 5-8 5-3 5-1 12 7 8 0 7-5 8-10 9-25 10-20 6-21 20-29 3-25 1-20 3-5 13-10 5-7 2-8-2-10-5-5-26-10-14-10-5-10-2-25-4-5-14-6zM2892 2043l-5-3-8 4-2 5 0 5 5 4 5 1 5-2 2-8-2-6zM3077 1687l-10-2-15 0-10 4-10 6-17 19-33 50-3 10 0 10 2 10 10 20 0 15-38 65-21 22-7 13 0 10 7 41 5 11 10 2 45-7 50-23 35-21 23-23 17-40 20-21 5-9 2-10-1-10-11-21-14-14-22-10-7-10-4-15 0-10 7-20 1-10-6-20-10-12z" fill-opacity="0.24" fill-rule="evenodd"/><path d="M2847 2068l-6 1-14 18-22 12-17 15-21 7-10 6-20 18-10 14-3 10 0 20-11 25-5 35-19 40 0 10 2 5 15 15 0 5-4 5-14 10-16 15-5 0-15-9-10-1-15 5-25 15-30 3-10 3-7 9-3 16-4 9-26 20-5 15-1 20 2 5 10 10 8 20 5 5 11 6 20 3 20 8 10-2 15-8 20-3 11-4 5-5 4-10-1-20 2-10 4-6 14-9 3-5-3-5-1-10 2-6 5-7 35-16 20-4 4-7 5-20 6-4 10 1 12 8 3 1 5-3 5-8 3-25 12-18 15-11 15 1 7-2 3-5 5-15 16-20 9-26 15-29 1-15-2-10-14-24 0-11 5-4 30 0 5-6-5-7-25-10-11-8-11-15-5-20-8-6zM3072 1694l-10-2-10 0-10 3-10 6-15 17-31 46-3 10 1 10 3 7 13 18 2 15-4 10-22 30-17 35-18 20-6 10 1 15 11 26 5 2 15-4 25 5 15-2 30-10 35-22 13-10 9-10 6-10 17-47 15-13 3-5 0-10-3-6-5-5-10-3-2 4-1 25-6 5-11-1-15-9-27-30-1-10 3-4 19-11 4-5 1-5-2-30 6-20 2-10-5-15-5-7-5-3z" fill-opacity="0.24" fill-rule="evenodd"/><path d="M2847 2097l-10-2-25 9-20 18-25 12-10 16-18 14-3 10 3 20-3 5-11 10-4 10 1 30-2 5-15 20-5 15 1 5 3 5 13 5 5-4 7-16 3-3 5-1 5 3 5 6 0 10-5 7-15 6-6 17-5 5-14 8-9 7-16 29-5 5-5 0-9-4-7-20-9-5-10 2-17 13-8 3-35 2-9 5-2 5-6 20-20 20-6 10-2 10 2 10 13 15 10 17 5 3 5 0 20-11 10 0 15 5 12-4 18-22 12-23 15-15 13-27 20-6 27-12 5-5 7-20 6-4 30-4 21-27 24-25 3-5 4-10 3-3 20-5 10-9 18-43 3-10 0-15-2-10-14-30 3-20-1-10-17-22zM2604 2429l1 10-2 5-6 3-5-2-2-6 2-10 5-4 7 4zM3062 1698l-20 3-15 10-37 53-2 15 4 9 16 11 4 5 0 20-4 10-16 15-8 10-8 15-10 25-21 30 1 10 6 5 15 4 15 11 10 5 15 0 25-6 45-27 15-17 12-30 2-10 0-5-3-5-41-28-15-7-6-5-17-25 0-5 5-5 8-2 25-2 9-6 2-5 0-25 8-30-3-10-3-5-8-5-5-1z" fill-opacity="0.24" fill-rule="evenodd"/><path d="M2632 2378l-55 2-9 4-9 25-16 15-6 10-1 10 4 10 17 13 10 0 7-3 6-5 1-5 1-17 4-13 4-5 7-3 10 2 5 6 5 26 5 1 5-3 5-5 10-17 16-12 4-10 0-5-4-5-26-16zM2717 2348l-10 2-6 4-4 10 2 5 3 2 5 0 10-5 4-7 0-5-4-6zM2837 2103l-10 1-10 4-20 18-20 13-9 20-14 10-4 5-2 25-17 20 0 10 6 30 15 20 3 10-1 15-14 20 0 5 6 5 11 1 10-3 25-23 16-20 2-5 2-17 5-6 20 0 10-2 6-5 5-10 13-35-2-25-10-30-1-25-3-10-8-11-10-5zM2814 2169l3 5 1 10-6 6-5 0-7-11-1-10 3-3 5-1 7 4zM3032 1833l-5-1-5 0-25 18-9 9-8 15-8 23-13 27-1 5 4 5 25 19 10 5 15 1 20-5 40-23 8-7 8-10 12-30 1-10-6-10-28-19-24-6-11-6zM3057 1703l-10 1-10 3-15 14-28 43-2 10 1 5 4 5 5 2 10 0 20-7 25-2 7-3 3-5 0-20 7-20 1-10-4-10-4-3-10-3z" fill-opacity="0.24" fill-rule="evenodd"/><path d="M2617 2389l-15-4-15 0-10 1-4 3-6 20-16 15-6 10-1 10 3 5 10 6 10-1 7-10 7-25 6-6 10-3 10-1 20 7 21-7 3-5-4-3-15-2-15-10zM2832 2109l-10 2-10 7-22 21-5 5-1 5 3 7 20 0 6 3 9 8 4 7 3 10-6 10-11 8-5 1-5-4-15-27-5-6-5 0-15 8-4 5-5 20-12 20-2 10 5 20 13 27 2 8 2 15-3 20 4 4 20-10 10-8 9-11 4-10 2-25 3-5 7-2 20 4 10-3 7-9 10-25 1-15-11-50-2-30-10-13-10-2zM3027 1844l-20 5-15 10-9 15-16 45 2 10 5 5 18 16 10 4 15 0 15-3 40-24 13-13 12-30 0-10-3-5-22-16-10-5-20 0-15-4zM3057 1708l-10 0-10 3-14 13-25 40-1 10 4 5 11 1 40-11 5-3 3-17 9-25-2-10-10-6z" fill-opacity="0.24" fill-rule="evenodd"/><path d="M2567 2421l-10 5-5 8 0 5 5 6 5 0 7-6 3-10-1-5-4-3zM2602 2392l-15-1-7 3-2 5 4 5 15-1 10-4-1-5-4-2zM2832 2113l-10 3-5 3-13 15-3 10 20 15 9 10 10 15-1 5-24 20-6 10-2 7-5-5-3-12-12-25-5-6-5-2-5 0-5 3-4 5-5 15-13 25 2 15 15 37 5 31 5 4 5 0 10-6 13-16 2-10 0-25 5-17 7 7 9 5 9 3 10 0 8-8 10-25 0-15-9-15-1-5 3-10-3-45-8-12-10-4zM3067 1854l-10-2-20 5-20-5-10 1-10 5-11 16-12 35-2 10 4 10 21 18 10 3 10 0 20-5 36-21 12-15 7-20 2-10-1-5-6-8-20-12zM3057 1713l-15-1-11 7-27 40-2 5 0 7 5 4 10-1 20-7 12-8 14-30 0-10-6-6z" fill-opacity="0.24" fill-rule="evenodd"/><path d="M2777 2183l-5 1-5 4-16 31-2 10 3 10 10 22 7 38 3 5 5 2 10-4 7-8 4-10 1-10-5-65-7-17-5-6-5-3zM2847 2198l-10 1-10 5-5 5-6 10-1 15 7 10 5 3 10 2 5-1 5-4 5-10 5-15 0-10-5-8-5-3zM2837 2118l-5-1-10 3-9 9-4 10 1 5 5 5 27 21 5-6 1-30-4-10-7-6zM3072 1859l-10-3-5 0-20 10-5-1-15-8-5-1-10 2-5 4-8 12-12 35-1 10 5 10 16 13 10 4 10 0 15-3 40-21 8-8 5-10 5-15 1-10-5-10-14-10zM3057 1719l-10-4-10 3-5 3-24 38-2 5 3 5 13 0 18-10 17-25 2-10-2-5z" fill-opacity="0.24" fill-rule="evenodd"/><path d="M2782 2192l-5-3-5 1-5 5-11 19-3 10 1 10 10 20 7 40 6 8 5 0 9-8 5-15 0-20-5-25 0-25-4-10-5-7zM2847 2203l-5-1-10 3-10 9-3 10 0 10 3 5 6 5 9 2 5-2 5-5 6-15 1-10-2-6-5-5zM2837 2121l-5-1-10 3-5 6-4 10 6 10 18 12 5-2 4-20-2-10-7-8zM3062 1858l-10 4-10 8-5 2-5-1-20-12-10 2-5 4-6 9-12 35 0 10 5 10 8 7 10 5 20 1 10-2 40-20 11-16 5-15 1-10-5-10-7-5-15-6zM3047 1718l-10 2-9 9-16 30 0 5 10 1 10-5 18-21 5-10 0-5-3-4-5-2z" fill-opacity="0.24" fill-rule="evenodd"/><path d="M2782 2197l-5-3-5 1-10 14-7 15 2 10 10 15 7 45 3 4 5 1 5-3 5-7 2-15-1-15-5-20 0-30-6-12zM2847 2208l-5-2-10 2-5 4-4 7-2 10 1 5 3 5 7 4 5 0 5-2 5-7 4-15 0-5-4-6zM2832 2122l-10 5-5 7 0 5 6 10 9 6 5 1 6-7 0-15-6-10-5-2zM3072 1863l-10-2-5 1-15 12-5 2-7-2-18-12-10 2-9 10-10 30-2 10 2 10 14 12 10 3 10 1 15-3 35-15 12-13 8-25-2-10-4-5-9-6zM3047 1722l-10 1-5 5-15 26 0 6 5 1 5-2 20-22 5-8-2-5-3-2z" fill-opacity="0.24" fill-rule="evenodd"/><path d="M2777 2198l-5 1-5 5-6 10-3 10 3 10 10 15 3 40 3 6 5 1 5-3 3-4 3-15-2-15-6-20 1-30-4-8-5-3zM2842 2209l-10 2-7 8-1 10 1 5 7 7 5 0 5-2 5-10 1-15-6-5zM2837 2127l-5-2-5 1-8 8 0 5 2 5 11 9 5 0 5-9 0-10-5-7zM3067 1863l-10 1-11 10-9 4-10-3-15-10-10 1-7 8-11 30-2 10 3 10 7 7 10 5 15 1 15-3 30-11 8-4 5-5 5-10 5-15 0-10-6-10-12-6zM3042 1724l-5 2-6 8-6 15 2 3 19-18 2-5-1-3-5-2z" fill-opacity="0.24" fill-rule="evenodd"/><path d="M2777 2200l-5 1-5 5-5 9-3 9 3 8 11 12 1 5-1 20 2 15 2 7 5 3 6-5 4-15-3-15-7-20 3-20-1-10-2-5-5-4zM2842 2211l-10 2-5 6-2 10 2 6 5 4 5 0 5-3 3-7 2-10-1-5-4-3zM2837 2129l-5-3-5 1-6 7 0 5 2 5 9 7 5-1 3-6 0-10-3-5zM3067 1864l-10 2-10 9-10 5-10-3-15-10-5-1-5 1-6 7-11 30-2 10 4 10 5 5 10 6 15 1 10-2 40-14 10-11 8-25-3-10-5-6-10-4zM3042 1727l-5 2-3 5 3 5 6-5 1-5-2-2z" fill-opacity="0.24" fill-rule="evenodd"/><path d="M2782 2247l-5-2-3 24 3 20 5 4 5-4 3-15-3-19-5-8zM2777 2202l-5 1-5 5-5 9-1 7 1 5 3 5 12 10 7-25-1-10-6-7zM2842 2213l-5 0-5 2-5 7 0 9 5 7 5 0 5-4 2-5 2-10-4-6zM2832 2128l-6 1-3 5-1 5 2 5 8 5 5-1 3-9-3-9-5-2zM3072 1866l-10-1-18 14-7 2-10-2-15-11-5-1-5 2-7 10-11 30 1 10 3 5 5 5 9 5 15 1 40-11 10-5 9-10 8-25-3-10-9-8z" fill-opacity="0.24" fill-rule="evenodd"/><path d="M2782 2250l-5 3-2 16 2 18 5 5 5-4 3-14-3-17-5-7zM2777 2203l-5 1-5 5-5 10-1 5 2 5 4 5 5 4 5 0 6-19-1-10-5-6zM2837 2213l-8 6-2 10 5 8 5 0 5-4 3-14-3-5-5-1zM2832 2128l-5 1-4 5 0 5 2 5 7 4 5-1 2-8-2-8-5-3zM3072 1867l-10-2-17 14-8 3-10-3-15-11-5 0-5 1-7 10-10 30 0 10 3 5 14 9 15 1 40-10 10-5 9-10 7-25-2-10-9-7z" fill-opacity="0.24" fill-rule="evenodd"/><path d="M2782 2251l-5 4-2 14 2 17 5 5 5-3 3-14-3-16-5-7zM2777 2204l-5 1-4 4-6 10 1 10 9 8 5 0 5-13 0-14-5-6zM2837 2214l-7 5-3 10 5 7 5 1 5-5 3-8 0-5-3-4-5-1zM2832 2129l-5 1-3 4-1 5 3 5 6 4 5-2 2-7-2-7-5-3zM3072 1867l-10-1-17 13-8 3-10-2-15-11-5-1-5 2-6 9-11 30 1 10 3 5 13 9 15 1 40-11 10-4 9-10 7-25-2-10-9-7z" fill-opacity="0.24" fill-rule="evenodd"/></g><ellipse cx="306" cy="192.3" rx="3" ry="1.8" transform="rotate(-30 306 192.3)" fill="#fff" fill-opacity="0.9" stroke="#111" stroke-width="0.7"/><ellipse cx="279.8" cy="232.3" rx="2.2" ry="4" transform="rotate(15 279.8 232.3)" fill="#fff" fill-opacity="0.9" stroke="#111" stroke-width="0.7"/></g><rect x="289" y="160.5" width="34.4" height="48" fill="none" stroke="#666" stroke-width="0.9"/><rect x="289" y="213.8" width="34.4" height="61.1" fill="none" stroke="#666" stroke-width="0.9"/><text x="340.25" y="192.9" text-anchor="middle" font-size="8.4">17.2%</text><text x="340.25" y="247" text-anchor="middle" font-size="8.4">5.2%</text><path d="M231.2 152.2H354.5V274.9" fill="none" stroke="#222" stroke-width="1.1"/><path d="M231.2 152.2V274.9H354.5" fill="none" stroke="#111" stroke-width="1.2"/><path d="M228.2 274.9H231.2M231.2 274.9V277.9M228.2 253.1H231.2M254.7 274.9V277.9M228.2 243.47H231.2M264.42 274.9V277.9M228.2 230.73H231.2M277.28 274.9V277.9M228.2 221.1H231.2M287 274.9V277.9M228.2 189.1H231.2M319.3 274.9V277.9M228.2 157.1H231.2M351.6 274.9V277.9" stroke="#111" stroke-width="0.9"/><text x="226.4" y="278.1" text-anchor="end" font-size="9">0.1</text><text x="226.4" y="256.3" text-anchor="end" font-size="9">1</text><text x="226.4" y="246.67" text-anchor="end" font-size="9">2</text><text x="226.4" y="233.93" text-anchor="end" font-size="9">5</text><text x="226.4" y="224.3" text-anchor="end" font-size="9">10</text><text x="226.4" y="192.3" text-anchor="end" font-size="9">100</text><text x="231.2" y="286.4" text-anchor="middle" font-size="9">0.1</text><text x="254.7" y="286.4" text-anchor="middle" font-size="9">1</text><text x="264.42" y="286.4" text-anchor="middle" font-size="9">2</text><text x="277.28" y="286.4" text-anchor="middle" font-size="9">5</text><text x="287" y="286.4" text-anchor="middle" font-size="9">10</text><text x="319.3" y="286.4" text-anchor="middle" font-size="9">100</text><text x="236.6" y="164" font-size="11.3">C4</text><g clip-path="url(#c5)"><clipPath id="b5_0"><polygon points="393,274.9 393,226.9 395,225.9 397,230.9 398,241.3 398.25,258.1 398.5,268.5 397.5,269.5 413.25,269.77 426.75,270.31 435.75,271.66 438,273.82 438,274.9"/></clipPath><polygon points="393,274.9 393,226.9 395,225.9 397,230.9 398,241.3 398.25,258.1 398.5,268.5 397.5,269.5 413.25,269.77 426.75,270.31 435.75,271.66 438,273.82 438,274.9" fill="#000" fill-opacity="0.9"/><path d="M396.5 227.3h1.1M395.8 252.6h1.4M397.9 246.5h2.5M394.6 245.8h2.8M394.1 258.2h1.7M395.8 250.1h2.1M396.3 236.0h2.8M396.3 235.3h1.8M394.9 260.2h2.8M395.1 253.4h2.5M394.9 240.6h2.5M415.8 271.4h2.5M408.2 271.3h1.4M404.7 271.9h1.2M419.7 270.3h3.1M407.4 274.1h1.5M423.7 271.9h2.3M429.0 274.7h3.2M415.0 272.6h2.8M404.5 269.9h2.4M430.2 274.4h1.2M433.7 274.4h2.8M393.5 273.5h1.5" stroke="#fff" stroke-width="0.7" stroke-opacity="0.75" clip-path="url(#b5_0)"/><g transform="scale(0.1)" stroke="#111" stroke-width="10" stroke-linejoin="round"><path d="M4550 2759l10-10-1-5-11-15-8-8-10-5-18-7-47-12-100-13-240-9-15-3-4-3 0-5 7-10 45-45 37-46 59-54 36-53 15-14 20-8 30-4 15 2 45 11 15 1 20-7 17-13 13-16 10-19 10-25 15-56 20-44 15-24 39-41 30-45 40-45 48-45 43-35 19-20 19-25 10-15 9-20 8-25 3-20-2-15-4-15-9-20-17-30-7-25 0-40 13-65 9-20 22-30 63-65 50-65M4832 1514l-32 19-85 56-47 40-83 53-20 16-10 11-13 20-15 35-4 25-3 40-5 22-38 88-18 50-8 50-1 60-7 20-8 10-10 5-15 3-40 1-20 7-15 9-10 10-11 15-44 90-10 15-40 36-26 19-29 25-49 35-26 22-45 25-15 0-10-5-5-5-5-10-5-18-9-49-10-75-18-80-8-14-25-21-5-1-5 3-5 6M4471 2759l10-15 0-5-2-5-19-14-15-5-105-8-35-5-30-8-25 1-35-3-50 1-55 6-30-1-10 2-20 8-10 0-15-6-11-8-7-10 0-10 3-4 5-2 30-1 30-10 20-11 30-23 18-19 22-37 11-13 17-15 32-22 19-18 13-20 22-45 11-10 20-7 50-7 20 2 35 10 15 0 15-8 25-25 7-10 6-15 10-40 24-80 18-33 25-23 4-9 2-20 6-10 8-7 25-11 10-7 28-25 37-25 60-48 29-32 24-35 12-35 2-15 0-10-10-30-29-45-8-20-1-40 6-40 1-30 5-15 19-30 43-45 20-25 20-35 0-10-3-3-10-1-20 4-15 5-10 7-25 23-20 8-12 7-33 30-56 35-74 36-20 14-15 15-12 20-14 40-2 20 1 40-4 25-6 15-16 30-34 80-4 15-4 45 11 40 2 30 5 20-2 10-13 10-18 6-25 2-35-8-15 0-15 5-15 10-11 10-10 15-14 30-15 44-20 31-25 26-36 24-36 35-28 20-25 13-25 24-20 11-25 18-25 7-10 1-10-4-11-10-9-18-4-47-9-30-3-30-8-25-5-30-11-13-15-9-5-1-10 5M3976 2759l11-15 4-10-2-5-19-15-5-9-5-15 0-11 10-30 10-7 15-2 30 14 20 1 25-8 15-8 13-10 19-20 13-23 2-12-2-30 1-10 4-2 25-3 40-13 19-12 11-11 9-19 11-45 1-15-7-20-9-14-10 0-20 11-40 31-26 17-20 25-29 14-18 16-10 15-5 45-2 4-5 3-10 0-20-5-10-7-15-28-15-19-11-38-6-50-4-10-18-30-1-5 5-7 4-13-4-9-5 0-5 7 0 22-15 14M4290 2759l12-20 1-5-5-10-6-5-17-7-25 3-25-6-15-2-25 3-30 13-35 11 0 5 15 10 12 10M4361 2759l4-5 2-5-1-5-6-5-5 0-7 5-2 5 1 5 5 5M4395 2174l-15-3-10 2-15 9-11 12-21 40-3 25-15 40-24 25-6 15 3 10 16 25 11 10 20 4 40-1 15 4 25 12 15 2 10-4 23-17 9-10 5-10 5-40 12-35 1-20 6-35 0-10-6-12-15-12-30-12-25-6-20-8zM4745 1638l-10 1-59 25-41 12-25 10-20 11-15 11-11 11-6 10-11 30-5 20-1 20 6 35-3 20-8 25-14 25-10 30-30 60-4 15 0 25 6 20 20 40 6 7 10 6 10 2 45-3 30-6 20-7 45-24 55-42 14-13 47-65 8-20 3-15 0-10-4-15-15-30-13-15-26-25-5-10 10-75-1-10-11-30-1-10 3-10 16-15 3-5 0-10-3-4-5-2zM4085 2604l-5-2-10 1-40 12-7 4-5 5-1 10 8 10 10 4 15-1 15-5 13-8 9-10 4-10-1-5-5-5zM3960 2580l-10 1-10 8 0 10 5 7 10 1 5-3 4-5 1-12-5-7zM3920 2542l10 4 7-2 7-5 4-10-1-10-7-12-10-5-10 3M4210 2464l-5-3-10-2-35 11-10 9-2 10 1 5 6 5 5 0 30 0 10-2 9-8 5-10-1-10-3-5zM3920 2452l5 2 10 0 6-5 2-10-2-10-6-8-5-3-5 0-5 2M4395 2192l-10-2-10 1-15 7-9 11-13 25-2 10 1 20-5 25 8 18 1 7-8 30 3 10 9 10 30 10 30 15 10 2 10-3 15-12 10-12 4-10 3-20 2-40-3-30 3-25-5-10-19-19-40-18zM4700 1676l-10-1-45 8-30 10-35 19-10 10-7 12-10 30-3 25 3 20 12 25-1 10-16 40-14 25-6 30-13 20-9 20-12 20-3 10 1 20 7 20 12 25 4 6 10 7 15 1 40-9 35 3 55-22 57-46 11-15 14-30 21-20 10-15 4-15 1-10-2-10-6-13-20-29-38-28-9-10-1-15 12-35 0-25-2-15-13-40-4-9-5-4z" fill="none"/><path d="M4070 2618l-10-1-15 3-10 6-3 3-1 5 4 5 5 2 16-2 15-10 3-5-4-6zM4385 2207l-10 0-10 6-8 11-7 15-1 10 5 20 6 9 10 9 3 7-1 10-14 25-1 15 8 10 8 5 32 17 10 2 10-4 10-9 6-11 3-10 2-15-4-25 0-20-4-40-4-10-9-9-40-18zM4680 1689l-35 2-35 11-20 10-9 7-9 10-4 10-7 25-1 30 5 15 19 25 1 5 0 10-40 64-2 11 2 26-5 8-11 11-20 35-3 10 1 10 5 10 13 15 10 8 30 2 35 8 15 2 50-15 52-40 10-15 16-35 26-25 8-15 2-15-4-10-5-6-15-9-5-5-8-15-7-8-20-11-10-2-20 2-5-3-1-3 1-10 26-55 3-30-3-20-9-25-7-9-10-1z" fill-opacity="0.24" fill-rule="evenodd"/><path d="M4390 2223l-10-2-10 4-8 9-3 15 6 14 15 16 6 10 0 10-7 25 1 15 7 10 8 7 10 5 10 2 10-4 5-5 5-15 0-10-7-20 3-25-1-10-5-20-5-10-10-9-20-12zM4680 1703l-10-3-20-1-30 6-30 14-10 9-6 11-6 25 1 25 2 10 7 10 31 30 3 5 0 5-30 35-26 35-1 10 5 20-1 10-3 10-6 9-15 12-8 9-7 15 2 10 3 5 10 7 30 7 30 12 15 3 15-1 30-7 10-4 37-27 10-10 7-10 16-37 23-23 10-15 2-10-4-10-26-15-10-20-10-10-15-3-25 9-5 0-11-6-16-15 0-5 17-19 21-36 9-20 2-20 0-15-7-16-10-10z" fill-opacity="0.24" fill-rule="evenodd"/><path d="M4390 2233l-10-1-5 2-5 6-2 9 5 10 19 20 5 10 0 10-6 20 4 15 10 11 10 2 5-3 2-5-6-35 4-20-1-15-3-10-6-10-20-16zM4650 1863l-10-2-15 5-25 14-14 14-16 30-5 65-5 7-20 7-5 5-2 6 1 5 5 5 26 8 30 15 15 2 15-1 35-7 39-27 11-12 20-43 26-30 4-10-1-5-4-5-20-14-12-21-8-7-5-2-10 1-15 10-10 2-5-1-20-14zM4650 1709l-25 1-20 7-18 12-10 15-2 20 6 30 9 11 25 13 20 2 10-2 10-5 10-11 19-33 5-25-1-10-3-7-5-6-10-7-20-5z" fill-opacity="0.24" fill-rule="evenodd"/><path d="M4390 2244l-8 0-3 5 2 5 9 10 10 5 2 0 3-3-1-7-7-10-7-5zM4650 1873l-5-1-10 1-30 13-10 9-7 14-12 40-2 45-8 20 0 5 9 10 20 11 15 2 40-6 10-4 35-22 14-16 15-35 23-30 2-10-3-5-16-15-15-21-5-3-5 0-17 9-13 3-10-2-15-12zM4650 1718l-20-3-15 3-20 12-5 4-7 10-2 10 0 10 9 24 10 10 20 10 15 2 10-2 8-4 12-15 14-25 2-15-4-15-7-7-20-9z" fill-opacity="0.24" fill-rule="evenodd"/><path d="M4645 1883l-10-1-20 6-10 6-5 5-4 10-3 15-11 25-3 20 2 25-4 20 1 5 7 9 10 6 15 1 11-6-1-5-8-15 1-5 7-5 6 0 7 5 3 5 1 15 8 3 15-3 30-17 13-13 16-35 15-20 6-10 1-5-4-10-27-28-10 0-20 7-15 1-10-3-10-8zM4645 1724l-15-3-14 3-21 13-8 12 1 15 9 20 13 11 20 8 15-2 10-7 13-20 6-15 0-10-4-11-10-8-15-6z" fill-opacity="0.24" fill-rule="evenodd"/><path d="M4710 1894l-10-2-45 10-5 0-14-8-6-1-10 1-11 5-6 10-3 20-10 15-6 15 0 15 6 25-3 15 0 5 4 5 9 3 6-3-5-20 3-5 11-5 10-1 10 4 13 17 7 3 10-2 15-7 18-14 6-10 10-25 15-20 5-10 0-10-3-5-11-13-10-7zM4640 1728l-15-1-10 4-17 13-5 10 3 15 9 15 10 7 15 6 10 0 10-6 12-17 6-15 0-10-6-10-22-11z" fill-opacity="0.24" fill-rule="evenodd"/><path d="M4710 1899l-5-2-10 1-25 7-25 10-5-1-15-11-5 0-5 3-2 3-3 20-17 20-5 10 0 15 4 10 8 7 25-2 10 2 6 3 14 14 5 1 10-2 16-8 10-10 13-30 15-20 5-10 0-10-3-5-9-10-7-5zM4640 1733l-10-1-10 2-13 10-8 10 1 10 8 15 12 9 10 4 10-1 10-7 12-25-1-10-3-5-8-6-10-5z" fill-opacity="0.24" fill-rule="evenodd"/><path d="M4710 1903l-10-2-15 2-15 6-25 17-20 2-31 26-4 15 5 12 5 4 5 2 25-1 10 2 20 14 10 0 15-8 10-10 13-30 12-15 5-10 1-5-4-10-12-11zM4640 1738l-10-1-10 4-10 8-5 10 2 10 3 6 10 8 10 4 10-2 5-4 11-22-1-10-5-5-10-6z" fill-opacity="0.24" fill-rule="evenodd"/><path d="M4700 1904l-10 1-15 6-6 3-14 15-5 3-20 5-30 17-6 10 1 10 3 5 12 5 30 0 20 12 5 1 10-2 10-6 8-10 11-25 13-15 5-10-1-10-3-5-8-8-10-2zM4640 1743l-10-1-5 2-10 8-4 7-1 5 5 10 10 6 5 2 9-3 8-15 2-10-2-5-7-6z" fill-opacity="0.24" fill-rule="evenodd"/><path d="M4705 1907l-10 0-15 5-10 7-14 15-26 9-25 12-5 4-2 5 1 10 6 5 35 2 25 11 5 0 10-5 10-10 13-28 12-12 4-8 1-5-5-10-10-7zM4635 1748l-10 2-8 9-1 5 2 5 7 6 5 1 5-2 6-10 1-10-7-6z" fill-opacity="0.24" fill-rule="evenodd"/><path d="M4700 1909l-18 5-7 5-6 10-9 7-55 23-4 5-1 5 3 5 12 5 25 0 25 8 5 0 10-5 10-12 8-21 12-10 7-10-1-10-4-5-7-5-5 0zM4630 1757l-5 2-1 5 1 3 5 0 2-3 0-5-2-2z" fill-opacity="0.24" fill-rule="evenodd"/><path d="M4705 1912l-10-1-8 3-7 5-10 15-60 26-5 4-1 5 1 3 5 4 30 1 25 7 10-2 5-4 7-9 8-22 15-11 5-7-1-10-9-7z" fill-opacity="0.24" fill-rule="evenodd"/><path d="M4705 1913l-5-1-9 2-7 5-5 15-44 16-25 13-4 6 4 4 5 2 25 0 25 6 10-2 10-11 6-24 14-6 8-9 1-5-2-5-7-6z" fill-opacity="0.24" fill-rule="evenodd"/><path d="M4685 1943l-5-3-10 0-25 7-34 17-2 5 9 5 17 0 25 5 10 0 10-7 5-8 2-10-2-11zM4700 1913l-10 4-6 7 1 6 5 7 5 1 10-2 7-7 0-5-1-5-6-5-5-1z" fill-opacity="0.24" fill-rule="evenodd"/><path d="M4680 1942l-5-1-10 1-22 7-29 15-4 5 10 4 15 0 25 5 10 0 10-7 5-9 0-13-5-7zM4700 1914l-12 5-2 5 4 10 5 3 10-2 6-6 1-5-2-5-10-5z" fill-opacity="0.24" fill-rule="evenodd"/><path d="M4680 1943l-10-2-25 7-30 16-4 5 9 3 20 1 20 5 10-1 10-7 5-9 0-12-5-6zM4705 1916l-5-2-11 5-2 5 1 5 4 5 8 2 5-1 5-5 1-6-1-5-5-3z" fill-opacity="0.24" fill-rule="evenodd"/></g><ellipse cx="462.8" cy="176" rx="3.5" ry="2.5" transform="rotate(-30 462.8 176)" fill="#fff" fill-opacity="0.9" stroke="#111" stroke-width="0.7"/><ellipse cx="440" cy="228.5" rx="2" ry="4.5" transform="rotate(15 440 228.5)" fill="#fff" fill-opacity="0.9" stroke="#111" stroke-width="0.7"/></g><rect x="450.8" y="160.5" width="34.4" height="48" fill="none" stroke="#666" stroke-width="0.9"/><rect x="450.8" y="213.8" width="34.4" height="61.1" fill="none" stroke="#666" stroke-width="0.9"/><text x="502.4" y="192.9" text-anchor="middle" font-size="8.4">30.0%</text><text x="502.4" y="247" text-anchor="middle" font-size="8.4">1.3%</text><path d="M393 152.2H517V274.9" fill="none" stroke="#222" stroke-width="1.1"/><path d="M393 152.2V274.9H517" fill="none" stroke="#111" stroke-width="1.2"/><path d="M390 274.9H393M393 274.9V277.9M390 253.1H393M416.5 274.9V277.9M390 243.47H393M426.22 274.9V277.9M390 230.73H393M439.08 274.9V277.9M390 221.1H393M448.8 274.9V277.9M390 189.1H393M481.1 274.9V277.9M390 157.1H393M513.4 274.9V277.9" stroke="#111" stroke-width="0.9"/><text x="388.2" y="278.1" text-anchor="end" font-size="9">0.1</text><text x="388.2" y="256.3" text-anchor="end" font-size="9">1</text><text x="388.2" y="246.67" text-anchor="end" font-size="9">2</text><text x="388.2" y="233.93" text-anchor="end" font-size="9">5</text><text x="388.2" y="224.3" text-anchor="end" font-size="9">10</text><text x="388.2" y="192.3" text-anchor="end" font-size="9">100</text><text x="393" y="286.4" text-anchor="middle" font-size="9">0.1</text><text x="416.5" y="286.4" text-anchor="middle" font-size="9">1</text><text x="426.22" y="286.4" text-anchor="middle" font-size="9">2</text><text x="439.08" y="286.4" text-anchor="middle" font-size="9">5</text><text x="448.8" y="286.4" text-anchor="middle" font-size="9">10</text><text x="481.1" y="286.4" text-anchor="middle" font-size="9">100</text><text x="398.4" y="164" font-size="11.3">C5</text><g clip-path="url(#c6)"><g transform="scale(0.1)" stroke="#111" stroke-width="10" stroke-linejoin="round"><path d="M665 4243l8 10 12 8 45 19 25 5 80 7 20 0 55-7 55-16 25-10 60-38 39-38 32-45 13-10 31-14 20-13 18-18 32-38 15-8 10 2 10 6 20 22 35 29 21 22 14 9 15 3 15-2 10-6 15-14 10-15 2-10 0-10-14-85-14-45-19-75-4-30 2-10 5-5 27-12 15-13 8-15 1-30 5-5 31-11 25-13 80-58 11-13 14-20 8-15 3-15 1-25-5-20-35-70-10-50-10-30-15-30-16-25-21-18-25-13-25-5-25 2-30 12-25 16-24 26-13 25-5 15-4 20-1 65-4 15-18 45-5 25 0 20 3 15 7 20 9 16 26 34 17 35 1 5-2 5-7 4-10 0-25-6-30-2-30-6-75 2-30 5-30 10-35 21-25 18-27 24-33 38-20 16-75 49-30 16-32 21-53 28-45 29-53 48-16 20-11 20M1235 3743l-50-3-20 0-30 5-25 11-30 18-27 24-14 20-14 39-12 11-43 28-30 12-29 20-26 10-27 15-28 12-65 36-15 11-20 23-25 18-9 10-26 50-2 15 0 20 6 40 9 30 9 15 33 23 15 7 100 19 15 0 55-7 65-21 15-8 25-18 25-13 10-9 30-33 7-10 13-26 15-17 13-7 37-13 20-13 12-14 43-61 10-9 5-3 10 0 10 6 50 42 40 20 10-1 5-5 5-14 2-50-17-38 0-47-16-45-14-49-15-26-21-20-39-23-15-5-15-2zM1405 3751l-10-3-10 1-15 5-14 9-9 10-1 5-1 10 6 10 14 8 15 3 20-3 13-8 8-10 2-15-8-15-10-7zM1450 3333l-35 3-25 8-15 10-10 9-13 15-7 10-9 20-4 20-1 20 4 40-1 15-5 15-17 35-7 40 0 15 4 15 8 15 12 15 41 40 20 15 15 8 20 4 15-1 45-9 20-10 55-33 16-14 15-20 10-20 3-20-1-15-5-20-9-20-29-48-13-57-19-45-18-25-15-14-25-13-20-3zM1220 3753l-35-4-25 1-30 5-25 11-30 22-17 20-8 20 3 35-2 10-6 13-10 9-65 28-20 6-25 15-45 19-40 11-40 23-25 11-14 10-24 30-27 20-10 16-13 29-1 35 3 25 14 35 10 15 21 20 11 7 25 7 35 4 30 10 20 1 50-7 15-4 60-22 30-22 30-17 12-12 23-30 17-35 8-12 10-10 10-4 35-5 15-8 8-6 37-50 8-15 13-35 9-12 14-13 6-16 5-4 20-6 6-4 17-55 0-10-3-8-17-17-4-30-11-20-9-10-14-10-15-6-20-4zM1400 3761l-15 0-16 7-6 10 1 10 4 5 9 5 13 1 10-3 10-7 3-6 0-10-3-5-10-7zM1465 3347l-15-3-15 0-20 1-15 4-15 7-10 7-11 10-11 15-12 25-4 20 2 20 6 35 0 15-5 15-19 35-8 45 2 20 8 15 17 19 35 30 15 8 10 4 50 8 25-1 15-5 60-32 15-10 11-11 13-20 5-15 2-15-2-20-12-30-9-15-23-30-5-10-8-50-15-40-9-15-18-20-10-7-20-9zM1190 3757l-15 0-30 3-25 6-23 12-22 20-7 10-6 15 0 15 3 35-6 30-9 15-28 25-17 21-10 2-20-6-15 0-45 8-35 13-30 2-15 6-35 22-20 8-13 9-21 30-26 25-12 20-6 20-1 30 5 25 15 30 19 22 10 8 10 4 20 5 30 2 25 11 10 2 20-1 70-15 45-22 27-21 23-11 10-9 28-35 5-10 12-40 5-9 5-4 15-6 25 3 15-1 10-4 12-9 33-40 8-15 12-40 9-25 6-56 12-39 14-30 2-15 0-10-4-10-8-10-6-5-20-8-40-8zM1390 3773l-10 5 0 5 5 3 5 1 8-4 1-5-4-4-5-1zM1450 3353l-35 0-20 5-10 6-15 12-16 22-8 20-3 20 4 25 8 30 0 15-3 10-16 25-7 15-7 30-2 20 5 15 10 14 45 38 15 6 20 2 25 8 25 2 20-4 60-30 17-11 10-10 12-20 4-15 1-15-3-15-15-35-11-14-21-21-6-10-5-55-6-20-9-20-13-17-15-13-20-11-15-4zM1200 3766l-25-2-55 8-20 11-11 10-12 15-5 10-1 10 4 40-1 20-2 35-8 25-1 30-3 7-15 9-10 15-10 3-15-4-20-8-20-17-15-1-25 8-25-2-25 8-25-2-10 2-20 10-44 32-50 55-9 15-6 15-2 15 2 20 11 35 5 10 8 9 15 14 15 7 15 3 30 1 10 4 20 11 15 1 75-16 45-27 23-17 22-11 34-39 6-15 2-15-1-35-4-10-12-22-4-23 2-10 17-23 5 0 10 3 10 7 7 8 3 10-8 25 0 5 3 6 5 4 35 12 15-1 11-6 34-35 7-10 4-10 18-60 0-55 5-30 6-16 18-29 3-10-1-15-10-12-10-5-35-10zM1460 3363l-10-4-15-1-20 1-15 3-15 8-9 8-16 20-9 20-3 20 5 25 13 35 1 10-3 10-18 25-9 15-6 20-5 25 3 15 7 10 14 15 30 23 15 6 20 0 25 11 20 3 20-3 20-12 30-11 25-14 10-9 10-14 5-15 3-15-3-15-18-40-8-10-24-20-7-10-2-10 0-45-5-20-9-20-17-20-15-11-15-9zM960 3997l-10 1-20 9-25-1-15 8-30-8-15 0-15 5-16 12-12 15-4 25-8 4-20 4-10 7-19 20-8 15-3 15 2 30 6 30 9 15 13 11 15 8 15 3 25-1 15 5 20 13 15 1 15-2 25-8 20-1 10-3 54-36 34-20 26-35 5-10-3-45-3-10-15-30-8-11-15-9-25-10-15-11-10-5zM1195 3773l-20-3-45 5-15 4-10 7-12 12-10 15-3 10-1 10 4 30 0 40 2 25-5 25 1 15 7 15 12 13 7 12 4 10 0 20 2 5 11 10 11 5 10-1 10-5 31-24 11-15 16-50 3-15 0-25-4-40 1-15 12-30 16-20 5-10 0-10-6-9-5-3-20-4-20-9zM1455 3367l-10-3-15-1-15 1-15 4-10 6-12 9-15 20-9 25 0 15 8 30 15 30 2 10-6 10-22 25-9 15-6 15-4 25 4 15 7 10 37 31 10 4 25 0 25 13 20 3 15-2 20-12 30-9 25-13 11-10 7-10 6-15 2-15-2-10-11-20-4-15-5-10-30-25-9-12-2-13 1-30-1-20-11-30-12-15-20-17-15-9zM960 4012l-10 2-15 9-15 4-15 7-10-2-20-12-20-7-20 2-13 8-10 15 0 10 3 15-4 10-9 5-22 2-10 2-13 11-10 15-1 10 6 20-5 15-2 10 3 15 7 12 25 17 30 1 45 23 15 2 10-1 20-6 25-1 10-3 40-29 40-22 10-13 14-30 1-10-3-20 2-15-2-10-12-23-10-11-10-6-25-9-20-12zM1190 3778l-10-2-10 0-45 6-10 3-14 13-10 15-3 10 0 15 5 25-3 35 3 35-3 20 0 10 3 10 17 25 18 35 3 5 9 4 10-1 10-5 20-11 7-7 8-15 13-45 2-20-2-20-4-15-10-20-3-10 4-10 13-15 10-20 14-15 3-10-5-6-20-5-20-14zM1435 3368l-25 2-20 9-14 14-14 25-3 10-1 10 6 25 8 20 19 25 2 5-7 10-22 20-15 20-9 20-2 20 2 10 7 10 23 21 15 10 10 2 20 0 10 3 20 11 20 1 10-3 16-10 34-7 21-13 11-10 7-10 5-15 1-10-3-10-13-20-7-20-9-10-23-20-7-10-3-10 3-30 0-20-4-15-10-20-8-10-26-23-10-5-15-2zM865 4023l-20-4-15 4-6 5-5 10 0 10 4 20-4 10-5 5-9 3-30 3-11 9-6 10-1 5 9 25-9 20 1 10 2 5 10 9 15 7 25 6 20 16 15 6 35 3 20-3 30 1 10-5 30-26 35-17 10-9 5-13-2-20 7-20 3-25-1-10-7-13-10-10-20-6-25-11-10 0-20 6-30 5-10-3-30-18zM1185 3782l-15-1-50 9-11 8-10 20 1 15 13 15 2 10-1 5-9 9-4 6-4 15-1 15 3 25 0 30 26 47 15 13 10 4 10 0 10-4 13-10 9-20 11-40 1-20-4-20-5-11-13-19-3-10 4-15 20-20 6-25-1-5-10-15-13-11zM1440 3372l-25 2-20 8-15 13-13 23-4 10 0 10 9 35 13 19 19 11 4 5 2 5-1 5-29 19-25 26-8 15-4 20 2 10 6 10 34 29 10 2 20 1 30 10 15 2 25-11 30-2 15-6 12-10 13-15 8-15 1-10-4-9-15-21-9-20-30-30-7-10-1-10 5-25 0-20-3-11-10-24-30-32-10-6-10-3z" fill="none"/><path d="M860 4026l-10-2-10 0-8 4-5 5-3 10 6 25-3 10-7 10-10 6-30 2-9 7-3 10 10 25-7 20 0 5 4 5 10 6 25 10 19 19 11 6 13-1 12-14 5 1 15 12 40 6 15-6 30-28 25-10 9-6 5-10-9-20 4-10 10-15 4-20-2-15-6-10-45-20-10 0-25 7-25 1-10-3-20-15-15-7zM1180 3787l-10-1-10 2-20 7-18 3-7 6-3 9 3 10 15 10 5 7 2 13-1 15-1 5-5 6-22 9-3 5-3 10 5 55 11 20 7 20 10 11 20 8 15-2 10-9 12-28 6-25 0-20-4-20-6-10-13-15-4-10 0-15 3-10 19-15 5-10-1-15-4-15-8-9-5-2zM1445 3377l-10-2-15 2-25 10-12 11-13 25-3 10 1 10 8 30 7 10 7 6 20 6 5 3 10 19 1 11-6 3-15 0-10 3-19 14-16 18-8 12-3 10 1 15 10 15 24 20 11 5 55 8 10-1 20-7 30 1 10-1 14-10 20-30 2-10-29-50-12-13-15-12-8-10-2-15 9-30-3-20-18-35-18-22-15-9z" fill-opacity="0.24" fill-rule="evenodd"/><path d="M860 4031l-10-3-10 1-5 2-5 6 0 11 6 20-2 10-10 15-14 8-20 2-9 5-1 5 1 5 11 15 1 5-3 20 5 8 20 13 15 17 10 6 5 0 5-4 9-15 6-2 7 2 18 17 30 7 10-1 13-8 22-24 24-11 6-5 1-5-6-15 3-10 13-25 2-10-2-15-9-10-32-18-10 0-25 6-25 0-10-3-21-15-14-7zM1155 3864l-5 4-9 15-25 10-6 5-3 15 8 40 13 15 2 5-1 15 1 6 5 6 5 3 20 4 10-2 10-13 12-29 2-25-6-25-6-10-16-15-11-24zM1180 3792l-10-2-12 3-9 5-8 10-1 5 2 10 8 14 5 6 5 2 20-7 7-5 3-5 1-10-3-15-3-6-5-5zM1450 3383l-10-4-10 0-15 4-15 6-10 8-5 6-11 20-2 10 0 10 4 20 4 10 5 7 10 6 20-1 5 3 5 7 10 26 2 12-2 5-5 1-25-2-16 6-11 10-20 25-4 10 1 10 5 9 29 26 16 7 25 4 15 1 40-9 30 3 10-5 5-6 16-30 0-5-15-30-12-20-9-9-20-10-5-7-4-14 0-10 12-25 1-15-4-10-7-10-9-20-13-20-11-10z" fill-opacity="0.24" fill-rule="evenodd"/><path d="M850 4033l-10 1-5 4-1 5 9 25-3 10-14 20-23 15-2 5 1 15-2 20 2 5 33 33 5 2 5-2 10-15 5-3 5 0 10 4 10 12 10 7 30 6 10-2 8-7 17-24 16-11 3-5-2-10 1-5 14-20 6-15 0-10-4-10-17-20-12-7-10-1-25 7-25-1-15-6-25-17-15-5zM1155 3893l-10-2-25 6-6 6-3 10 2 15 8 20 9 10 15 10 2 5-8 15 1 5 5 3 10 1 10-2 10-9 10-19 5-24-3-20-7-13-5-5-20-12zM1175 3796l-5-1-10 2-8 6-3 5-2 5 3 10 5 8 5 3 5 2 10-2 8-6 2-5 0-10-3-10-7-7zM1440 3383l-15 1-30 14-8 10-8 15-4 15 5 25 4 10 6 5 10 3 15-4 5 1 6 5 21 50 0 5-3 5-9 3-25-5-15 3-11 9-19 26-4 9 0 5 4 7 16 8 12 20 6 5 11 4 30 4 15-2 30-7 30 2 5-2 7-9 8-25-1-15-8-20-16-20-10-4-20 1-6-2-2-5 4-15-1-30 13-20 2-10-4-10-12-15-6-20-8-15-10-11-10-4z" fill-opacity="0.24" fill-rule="evenodd"/><path d="M850 4037l-5 0-5 4 0 7 14 20 1 5-23 25-22 20-1 5-1 25 2 10 25 24 5 0 15-20 5 0 15 8 20 21 25 7 10 0 5-3 10-12 14-40 3-5 18-12 10-13 2-10-2-10-16-25-9-7-10 0-20 6-30-3-19-6-22-15-14-6zM1150 3900l-15-2-15 5-5 10 1 10 8 20 6 8 10 6 16 6 9 13 5-1 10-12 3-10 2-10-1-10-4-11-5-7-25-15zM1175 3801l-10-1-7 3-4 5-1 10 7 10 10 2 5-2 5-5 1-10-1-5-5-7zM1505 3547l-10-1-20 3-15-2-25 4-30-6-10 3-9 10-7 20 1 5 16 5 6 5 2 5-7 15-1 10 4 5 8 5 22 4 25-1 30-8 25 2 6-2 5-5 4-10 3-15 1-15-2-10-5-10-7-9-10-7zM1445 3387l-10-1-10 2-29 15-13 20-4 10 0 10 4 20 7 10 10 3 15-5 10 2 10 13 12 32 8 9 5 0 5-4 4-10 0-30 2-5 11-10 3-10-5-8-13-12-3-20-3-10-9-15-7-6z" fill-opacity="0.24" fill-rule="evenodd"/><path d="M885 4063l-10-1-3 1-4 20-3 3-15 2-5 3-28 27-2 10 3 25 7 10 10 7 4-2 0-5-8-15 2-5 12-6 10-1 5 3 10 19 25 29 20 7 15 0 8-6 5-10 0-10-3-15 3-5 15-15 17-9 7-6 5-10-1-10-17-25-4-5-5-2-20 6-10 1-45-10zM855 4047l-5-1-1 2 6 2 1-2-1-1zM1140 3903l-10 0-5 2-6 8 2 15 7 15 7 7 10 4 25 4 5-3 4-12-4-12-15-10-10-13-10-5zM1170 3804l-5 0-5 3-2 6 2 8 5 4 8-2 3-5-1-10-5-4zM1410 3548l-10 1-6 4-4 5-3 10 1 5 4 5 13 10 4 5 1 5-1 5-8 15 1 5 4 5 14 6 30-1 35-7 25-1 5-2 3-5 5-15 1-25-4-12-10-11-5-3-10-2-20 4-35 1-30-7zM1445 3391l-5-2-10 1-30 15-8 8-6 10-4 10 0 10 2 15 6 10 5 3 5 0 20-5 5 1 8 6 9 15 8 24 5 4 5 0 3-8-2-20 2-10 13-15 0-5-17-15-3-5 3-15-1-10-6-15-7-7z" fill-opacity="0.24" fill-rule="evenodd"/><path d="M890 4068l-6 0-4 3-10 22-5 2-15 0-10 6-18 17-2 5 1 5 4 6 5 1 20-6 10 1 8 8 7 15 21 30 19 8 10 1 5-1 5-4 4-9-1-10-8-15 2-5 26-20 18-10 5-5 1-10-2-5-20-24-5-1-15 5-10 0-20-7-20-3zM1140 3907l-10 0-7 6-1 10 7 15 6 7 10 5 10 0 12-2 3-5-2-5-8-8-12-17-8-6zM1170 3812l-5-1-1 2 1 5 5 0 0-6zM1415 3551l-10 0-5 1-6 6-2 5 2 10 19 20 1 10-9 15 1 5 5 5 14 4 30-2 30-7 20-1 5-1 5-5 4-13 3-25-4-10-8-10-5-3-10-1-25 4-30 1-25-8zM1440 3393l-5 0-15 8-20 8-8 9-6 10-2 15 3 15 3 5 5 4 5 1 25-6 5 2 20 18 10-14 3-5 0-5-17-15-2-5 1-5 7-10 2-10-4-12-5-6-5-2z" fill-opacity="0.24" fill-rule="evenodd"/><path d="M905 4072l-10-1-10 2-4 5-6 17-5 6-5 2-15-2-5 2-13 10-7 10 5 5 25-5 10 2 5 5 16 28 9 20 10 7 20 4 5-1 5-5 1-5-3-10-10-15 0-5 5-5 47-29 3-6-1-5-22-22-25 2-25-11zM1140 3911l-5-2-8 4-2 5 2 10 5 10 8 7 10 2 5-2 3-2 1-5-11-20-8-7zM1410 3553l-10 3-4 7 3 10 17 20 1 10-8 15 1 5 5 4 10 2 35-2 45-8 8-6 5-15 1-20-4-12-10-8-10-2-25 4-25 2-35-9zM1440 3397l-7 1-13 8-15 4-6 3-8 10-4 10-1 10 4 15 5 6 10 0 25-8 15 13 6-1 3-5-1-5-6-5-7-2-5-6 2-12 12-15 1-5-3-10-7-6z" fill-opacity="0.24" fill-rule="evenodd"/><path d="M895 4073l-5 0-6 5-9 25-8 10 13 26 5 6 14 8-4 10 1 10 3 5 11 7 15 2 7-4 2-5-1-5-13-15-15-10 40-17 26-18 3-5-2-5-17-16-5-2-20 1-20-10-15-3zM850 4107l-5 1-8 5-4 5 1 5 6 0 17-10-4-5-3-1zM1135 3912l-5 2-2 4 2 12 5 8 5 4 10 1 4-5-4-10-6-10-4-4-5-2zM1500 3558l-50 6-15-2-25-7-9 3-2 5 0 5 17 20 4 10 0 5-8 15 1 5 12 5 35-2 41-8 9-4 5-11 3-25-4-10-4-5-10-5zM1440 3402l-5 1-10 6-20 3-10 8-7 13-1 10 3 11 5 7 5 2 10-2 14-8 4-5 7-22 10-13 0-6-5-5z" fill-opacity="0.24" fill-rule="evenodd"/><path d="M910 4157l-5 1-6 5 0 10 2 5 14 7 10 0 4-2 2-5-4-10-7-7-10-4zM910 4077l-10-3-10 1-5 6-3 7-6 20-1 10 6 15 4 6 5 3 25-2 20-6 18-11 13-10 3-5-1-5-13-12-5-2-20 0-20-12zM1140 3917l-5-2-5 3 0 5 5 12 5 4 5 1 4-2 0-5-4-10-5-6zM1415 3557l-10 1-4 5 0 5 17 20 4 10 0 5-8 15 2 5 9 3 35-1 40-8 9-4 3-5 4-15 1-15-4-10-8-7-10-2-30 6-15 1-15-2-20-7zM1420 3412l-15 2-6 4-8 10-3 15 3 10 4 6 5 2 10-2 11-6 4-5 8-30-3-4-10-2z" fill-opacity="0.24" fill-rule="evenodd"/><path d="M915 4161l-5-1-7 3-3 5 0 5 3 5 7 4 15 2 5-6-1-5-4-5-10-7zM910 4078l-10-3-10 2-7 11-5 20 0 10 6 15 6 5 20 1 20-5 15-7 18-14 3-5-1-5-10-10-10-3-15 0-20-12zM1135 3917l-3 6 3 9 5 5 5 1 2-5-2-6-5-8-5-2zM1410 3558l-5 2-2 3 0 5 16 20 4 10 0 5-7 15 2 5 7 2 40-2 35-7 7-3 4-5 3-10 2-20-4-10-7-7-15-1-25 6-15 1-15-2-25-7zM1425 3416l-15-3-10 5-5 5-5 10-1 10 3 10 3 5 5 2 10-2 9-5 5-5 3-10 2-15-1-5-3-2z" fill-opacity="0.24" fill-rule="evenodd"/><path d="M915 4162l-10 1-3 5 0 5 3 5 5 3 10 2 5 0 3-5-1-5-3-5-9-6zM905 4077l-10-1-5 2-4 5-4 10-3 25 3 10 8 8 20 2 20-5 15-7 16-13 3-5-1-5-8-8-10-4-15 0-25-14zM1140 3921l-5-2-2 4 1 5 6 7 5-1-1-6-4-7zM1505 3562l-5-2-10 0-25 6-15 1-15-2-20-6-5-1-5 3-1 7 16 20 4 10 0 5-7 15 3 5 40 1 40-8 6-3 7-10 3-20-1-10-5-7-5-4zM1425 3418l-5-3-10-1-9 4-5 5-6 15 0 10 5 9 5 2 10-1 8-5 5-5 5-20 0-5-3-5z" fill-opacity="0.24" fill-rule="evenodd"/><path d="M915 4163l-5-1-5 2-3 4 0 5 3 5 5 3 10 2 5-1 3-4-1-5-7-8-5-2zM905 4077l-10-1-5 2-4 5-3 10-3 25 3 10 7 8 15 1 20-2 20-9 16-13 2-5-1-5-7-8-10-4-15 0-25-14zM1140 3922l-5-1-1 2 1 6 5 5 5-1-5-11zM1505 3562l-5-2-10 0-35 8-20-2-20-7-5 0-5 3-1 6 16 20 4 10-1 10-6 10 3 4 5 2 35-1 35-6 11-4 7-10 3-20-2-10-4-7-5-4zM1420 3416l-10-2-5 2-5 3-7 9-3 10 0 7 3 8 4 5 8 1 5-2 12-9 5-15 0-10-3-5-4-2z" fill-opacity="0.24" fill-rule="evenodd"/></g><ellipse cx="143" cy="345" rx="2.5" ry="2.5" transform="rotate(0 143 345)" fill="#fff" fill-opacity="0.9" stroke="#111" stroke-width="0.7"/><ellipse cx="146" cy="358.5" rx="3.5" ry="2.2" transform="rotate(0 146 358.5)" fill="#fff" fill-opacity="0.9" stroke="#111" stroke-width="0.7"/><ellipse cx="89.5" cy="412.8" rx="3.5" ry="2.2" transform="rotate(-10 89.5 412.8)" fill="#fff" fill-opacity="0.9" stroke="#111" stroke-width="0.7"/></g><rect x="125.5" y="329.6" width="38.3" height="41.4" fill="none" stroke="#111" stroke-width="1.4"/><rect x="125.5" y="375.9" width="38.3" height="55.4" fill="none" stroke="#111" stroke-width="1.4"/><text x="178.05" y="352.8" text-anchor="middle" font-size="8.4">36.1%</text><text x="178.05" y="407.2" text-anchor="middle" font-size="8.4">7.2%</text><path d="M67.5 313.6H191.5V436.3" fill="none" stroke="#222" stroke-width="1.1"/><path d="M67.5 313.6V436.3H191.5" fill="none" stroke="#111" stroke-width="1.2"/><path d="M64.5 436.3H67.5M67.5 436.3V439.3M64.5 414.5H67.5M90.7 436.3V439.3M64.5 404.87H67.5M100.33 436.3V439.3M64.5 392.13H67.5M113.07 436.3V439.3M64.5 382.5H67.5M122.7 436.3V439.3M64.5 350.5H67.5M154.7 436.3V439.3M64.5 318.5H67.5M186.7 436.3V439.3" stroke="#111" stroke-width="0.9"/><text x="62.7" y="439.5" text-anchor="end" font-size="9">0.1</text><text x="62.7" y="417.7" text-anchor="end" font-size="9">1</text><text x="62.7" y="408.07" text-anchor="end" font-size="9">2</text><text x="62.7" y="395.33" text-anchor="end" font-size="9">5</text><text x="62.7" y="385.7" text-anchor="end" font-size="9">10</text><text x="62.7" y="353.7" text-anchor="end" font-size="9">100</text><text x="67.5" y="447.8" text-anchor="middle" font-size="9">0.1</text><text x="90.7" y="447.8" text-anchor="middle" font-size="9">1</text><text x="100.33" y="447.8" text-anchor="middle" font-size="9">2</text><text x="113.07" y="447.8" text-anchor="middle" font-size="9">5</text><text x="122.7" y="447.8" text-anchor="middle" font-size="9">10</text><text x="154.7" y="447.8" text-anchor="middle" font-size="9">100</text><text x="72.9" y="325.4" font-size="11.3">U</text><g clip-path="url(#c7)"><g transform="scale(0.1)" stroke="#111" stroke-width="10" stroke-linejoin="round"><path d="M2997 3723l-25 2-40 13-15 2-15-1-40-9-30-4-40 0-45 5-35 9-25 10-50 26-20 17-24 30-11 25-7 40 5 35-1 15-4 10-15 25-6 15-2 20-12 30-3 30-12 40-3 25 1 15 5 15 9 12 15 11 20 8 25 6 20 2 75 1 35-3 25 2 50 0 25-3 30-5 15-4 30-11 35-6 50-22 65-35 29-28 36-30 14-20 30-70 0-10-13-60-26-55-50-70-45-41-15-7-15-2zM3122 3497l-25-3-30 1-20 5-30 11-20 10-15 11-16 16-11 15-9 20-4 15-1 15 4 20 7 14 10 12 25 22 20 15 10 5 15 2 45-5 25-9 20-12 15-13 32-46 10-20 7-20 2-20-4-20-9-15-13-11-15-7-25-8zM2852 3738l-25-4-45 0-45 7-30 8-15 7-55 31-13 11-14 20-9 15-5 15-5 35 3 15 19 45 1 10-4 10-16 20-9 35-22 40-13 40-4 20 0 15 4 15 12 20 10 8 15 7 20 4 80 1 35-6 30 1 50-5 15-4 31-11 34-5 11-5 15-15 9-5 30 2 10-2 74-35 16-12 55-54 6-14 13-45 3-45-1-20-23-65-16-30-22-33-10-9-30-21-25-9-25-1-45 12-15 1-60-15zM3112 3503l-30-1-25 4-50 20-20 14-19 23-15 30-2 15 2 15 3 10 7 10 19 16 20 12 20 9 10 2 40-1 15-3 25-11 15-12 32-42 12-20 8-20 0-15-5-20-12-15-20-12-30-8zM2822 3743l-40-1-55 9-25 8-60 35-13 14-14 25-6 15-3 15 0 15 2 10 10 20 27 30 5 15 2 20-4 15-11 14-30 25-10 11-20 33-7 17-5 20 1 20 14 30 12 10 30 8 60 0 35-6 30-1 45-8 35-16 50-12 40-20 31-10 34-7 25-10 28-18 17-18 20-17 11-15 13-40 9-50 1-20-27-75-18-35-9-11-35-26-20-7-15-1-15 1-40 10-15 1-15-3-50-17-25-2zM3122 3512l-20-3-30 2-55 18-15 9-11 10-8 10-20 35-3 20 2 10 5 10 15 14 15 9 20 8 15 4 35-1 15-3 20-8 13-8 43-50 9-15 4-15-2-15-9-20-13-11-25-10zM2842 3753l-55-3-30 6-40 5-20 8-20 16-25 13-10 10-21 45-2 15 3 15 7 15 8 10 25 21 25 16 6 8 3 10-5 15-17 20-27 24-25 14-10 7-7 10-23 40-5 20 3 15 12 18 17 12 11 5 12 2 50 0 60-6 45-10 30-19 25-5 25-12 30-7 45-23 30-2 15-4 29-19 15-15 25-20 11-13 16-37 9-50 1-15-4-15-12-30-7-25-13-25-10-15-30-24-20-8-15-2-20 2-35 11-15 1-20-5-30-14-20-6zM3117 3517l-20-2-30 4-45 15-15 8-14 16-21 40-3 15 6 15 9 10 13 9 25 8 15 3 20-2 35-9 20-11 40-43 9-15 1-10-5-20-9-15-14-10-17-6z" fill="none"/><path d="M2847 3762l-15-3-20 1-25-2-30 7-40 4-15 6-19 18-21 10-11 10-19 50 3 15 7 15 7 10 13 11 35 19 20 19 5 3 15 3 2 5-5 5-22 11-10 8-20 21-23 20-32 18-10 10-22 37-6 15 1 15 7 10 5 4 40 14 30 3 60-4 50-12 25-17 30-9 20-17 10-2 20 1 15-4 15-9 25-19 10-1 20 4 10-2 14-10 20-20 26-17 12-13 11-15 5-10 4-15 7-50-1-15-19-60-11-20-8-10-30-24-15-8-15-2-20 2-10 4-20 12-20 1-20-4-25-18-20-9zM2904 3883l-2 7-5 2-3-4 1-5 2-2 5-1 2 3zM3112 3522l-15-1-25 4-45 13-15 8-11 12-21 45-1 15 6 10 17 13 15 5 20 3 15-2 20-8 25-5 15-9 31-32 7-10 3-10-1-10-11-25-12-10-17-6z" fill-opacity="0.24" fill-rule="evenodd"/><path d="M2842 3767l-10-1-25 2-25 0-30 6-35 4-10 4-16 16-24 12-9 8-11 35-1 15 7 20 8 10 11 9 15 8 25 3 15 9 10 4 25 0 21-8 14-1 20 1 8 5 1 5-3 10-6 5-30-1-15 5-20 23-45 21-41 37-38 25-25 40-4 10 0 10 8 9 25 7 20 9 15 3 55-4 45-10 37-19 28-9 15-16 10-7 10-1 20 2 15-5 12-9 23-24 10-7 5 0 20 8 10-1 21-16 29-18 26-27 7-20 7-55-1-20-15-45-9-15-10-12-40-27-10-4-10-1-10 1-8 3-18 15-24 12-15 0-15-7-5-5-9-15-9-10-22-11zM2913 3863l4 10 3 15-3 9-10 15-10 8-13 3-12 1-10-4-3-7 24-40 9-9 10-5 5 0 6 4zM3112 3528l-15-1-30 5-35 9-15 7-12 15-17 40-1 10 5 12 15 11 15 4 15 2 10-2 20-10 30-4 10-6 32-32 6-15-5-15-9-20-9-7-10-3z" fill-opacity="0.24" fill-rule="evenodd"/><path d="M2977 3797l-10 2-25 22-17 27-2 15 4 20 0 10-17 35-7 5-26 11-5 0-15-6-10 0-5 3-15 20-5 3-25-3-10 1-10 5-20 16-40 17-34 28-51 38-21 37-1 10 2 4 5 3 20 6 15 9 10 3 25-3 30 0 40-9 25-12 45-16 20-20 10-6 10-2 20 2 10-4 10-8 16-17 7-10 12-23 5-1 25 15 10 1 35-15 20-16 11-11 8-15 9-70-1-20-15-35-12-16-15-9-25-5-15-14-5-2zM2837 3772l-10 0-25 4-25 0-55 12-10 4-20 15-20 9-5 4-5 8-4 20 0 20 5 15 9 10 10 7 10 3 25-2 20 14 15 3 25-5 30-3 20-8 15-4 10-5 10-8 33-37 4-10-4-10-22-20-7-15-8-10-11-8-10-3zM3107 3532l-50 7-25 7-14 7-8 10-14 40-1 10 5 10 7 6 10 4 20 2 10-3 15-10 30-3 15-7 26-24 3-5 2-10-2-10-10-20-9-8-10-3z" fill-opacity="0.24" fill-rule="evenodd"/><path d="M2992 3823l-15-5-10 2-15 11-20 22-2 5-1 10 5 20-1 10-7 15-9 27-20 13-3 10 1 10-3 3-15-5-20-18-5-1-5 1-12 15-7 5-11 2-21-2-9 4-10 10-25 5-15 5-20 13-76 58-8 10-4 10-5 15 1 5 27 20 10 3 25-4 25 1 20-5 20-2 25-13 30-8 15-6 25-24 10-6 10-2 20 1 10-4 16-16 11-15 10-35 3-5 5-1 5 3 16 18 14 6 25-6 20-11 20-17 7-12 10-75 0-15-10-25-12-17-15-9-30-4zM2837 3778l-15 0-25 6-20-1-10 2-45 14-20 11-25 10-8 8-4 15 1 20 6 15 5 6 10 7 35 0 5 3 15 13 10 3 50-6 11-6 14-13 20-4 10-5 24-23 6-10 0-5-5-10-15-15-14-25-6-6-10-4zM3107 3538l-50 5-25 7-10 5-9 13-9 30-2 10 3 10 12 9 10 2 10-1 25-13 25-2 10-3 20-13 14-14 2-10-3-10-8-16-5-5-10-4z" fill-opacity="0.24" fill-rule="evenodd"/><path d="M2857 3972l-5-2-15 8-30 6-7 4-8 12-5 2-30-5-10 2-10 5-64 44-26 25-7 10-3 10 0 10 3 5 12 13 10 4 25-6 25 1 15-4 25-2 21-11 24-5 20-7 24-23 21-13 25 0 10-5 12-12 10-15 3-10-2-10-3-3-20-3-40-25zM2977 3828l-15 6-20 16-6 8-2 10 5 30-10 25 0 30 0 5 3 5 21 15 14 22 5 3 10 2 15-3 15-7 17-12 9-10 4-10 7-55 6-25-1-10-7-14-7-11-8-8-10-5-10-3-35-4zM2832 3782l-10 0-25 9-30 1-40 14-23 12-22 7-8 8-3 10 2 15 5 15 5 5 9 5 30 1 10 3 15 13 10 3 45-5 7-5 11-15 6-5 21-2 10-4 16-14 5-10 1-5-6-10-14-15-12-22-5-5-10-4zM3112 3545l-10-2-15 4-25-2-20 5-15 6-7 7-5 10-7 30 1 10 8 7 15 3 25-14 30-2 25-12 14-12 3-10-7-17-10-11z" fill-opacity="0.24" fill-rule="evenodd"/><path d="M2847 3987l-20-1-15 3-5 4-10 15-5 4-10-1-20-8-10 0-10 4-61 41-12 10-23 30-1 10 4 10 8 9 5 1 10-1 15-8 20 3 45-4 25-13 20-2 13-5 7-5 14-15 41-30 6 5 9 2 7-2 8-7 9-13 1-11-5-4-15-4-20-11-25-6zM2868 4008l5 5 2 5 1 5-4 13 0-3-5-3-6-12 1-12 6 2zM3012 3838l-25-3-15 1-25 15-9 12 0 10 6 25-9 25-1 10 3 10 7 15 20 15 7 15 5 5 6 2 15-2 10-3 15-10 10-11 3-6 6-55 9-20-1-15-7-14-15-15-15-6zM2832 3787l-10 0-25 9-25 3-35 9-12 5-18 13-20 5-5 3-4 9 1 15 4 10 4 5 10 5 30 0 10 2 12 13 8 3 35-1 10-4 17-23 8-3 25-3 13-9 6-10-2-10-17-20-10-19-10-7zM3112 3552l-10-2-15 4-25-5-10 1-20 8-7 5-6 10-6 25 1 10 3 5 5 3 10 0 20-11 30-4 30-11 9-7 3-10-3-10-9-11z" fill-opacity="0.24" fill-rule="evenodd"/><path d="M2837 3992l-15-1-10 4-15 24-5 2-30-12-10 0-9 4-67 45-22 35-1 5 4 10 5 3 5-1 20-11 25 4 30 2 10-2 25-16 5-2 15-2 2-5-7-5-2-5 5-10 7-7 5-2 5 1 15 8 5 1 10-4 14-12 2-10-9-30-3-5-9-6zM3007 3842l-20-2-15 4-25 12-5 7-1 5 8 30-2 9-7 16 0 10 3 10 9 12 21 8 5 5 4 10 4 5 6 2 10-1 10-4 13-12 3-10 0-20 4-30 14-25-1-10-10-15-13-10-15-6zM2832 3792l-10-1-30 12-45 7-15 4-10 6-15 14-19 9-3 10 2 10 5 6 10 4 35 0 9 5 7 10 9 4 20-1 15-3 5-5 8-15 5-5 7-3 20-1 10-3 9-8 2-5-2-10-14-19-8-16-7-6zM3067 3552l-10 0-10 3-15 7-5 5-6 11-3 15 0 10 4 6 5 2 5-1 20-10 25-3 25-8 10-4 7-7 0-10-7-10-5-2-5 1-15 6-20-11z" fill-opacity="0.24" fill-rule="evenodd"/><path d="M2757 4013l-10 3-33 22-17 16-15 8-5 11-1 10 1 3 15 2 20 8 30 5 10-2 9-6 9-10 10-20 12-15 5-10-4-5-21-15-15-5zM2837 3997l-10-3-12 4-7 10-7 25 4 5 27 15 5-1 9-4 6-10 0-10-7-20-8-11zM3007 3847l-15-1-35 8-10 7-3 7 1 10 7 20-1 10-6 15 2 15 10 12 20 5 5 4 8 14 7 4 5 0 10-4 8-10 1-25 6-30 4-10 10-15-1-10-8-10-12-10-13-6zM2832 3798l-10-3-45 18-30 0-15 5-8 5-12 15-16 10-3 5 1 10 6 5 7 2 35-1 6 4 9 11 9 4 11 0 15-4 5-5 9-16 6-4 10-4 25-2 7-5 3-5-2-10-23-35zM3067 3556l-5-2-10 2-15 7-6 5-6 10-3 10 0 10 4 5 6 1 20-8 20-3 15-9 5-2 10 1 11-5 2-5-1-5-7-5-5 1-10 9-5 2-15-16-5-3z" fill-opacity="0.24" fill-rule="evenodd"/><path d="M2767 4021l-10-3-5 1-22 14-13 10-6 15-11 15-1 5 3 5 10 7 25 6 10 1 10-5 8-9 18-40-3-10-13-12zM2827 3997l-10 4-5 6-3 11 0 10 2 5 10 10 11 5 5 0 5-2 5-5 2-8-1-5-9-25-7-5-5-1zM3007 3852l-10-1-15 8-15-3-10 2-7 5-3 5 1 10 7 20 0 10-6 15 3 13 7 7 18 5 5 3 14 17 6 2 6-2 5-5 2-5 1-25 9-30 11-20 0-5-2-5-8-10-19-11zM2827 3800l-10 0-40 19-25-3-15 2-13 10-12 17-10 8-3 5 3 5 5 2 10 1 20-2 10 3 15 15 5 2 15-2 6-4 9-15 7-5 18-7 20-1 9-7-1-10-18-29-5-4zM3062 3557l-10 1-17 10-4 5-4 10 0 11 5 4 5-1 30-8 9-6 1-5-3-10-7-9-5-2z" fill-opacity="0.24" fill-rule="evenodd"/><path d="M2762 4025l-5-2-10 3-11 7-10 10-2 15-12 16-1 4 2 5 10 5 19 5 10-2 5-4 8-14 9-30-3-10-9-8zM2832 4001l-10 0-5 4-4 8-1 10 3 10 5 5 7 5 10 1 8-6 0-10-6-20-7-7zM3007 3857l-7 1-8 9-5 1-20-8-10 1-5 4-2 8 8 25 0 10-4 15 2 10 6 6 24 9 11 12 5 3 6-5 2-20 14-40 7-15 0-5-2-5-7-8-15-8zM2822 3803l-20 7-25 15-5 0-20-7-15 3-10 7-18 30 8 4 20-1 9 2 21 16 11-1 5-5 5-10 5-5 24-9 20-3 7-3 2-5-3-10-12-20-4-4-5-1zM3067 3563l-10-4-10 4-7 5-8 10-1 5 1 7 5 2 20-4 12-5 3-10-5-10z" fill-opacity="0.24" fill-rule="evenodd"/><path d="M2762 4032l-5-3-5 0-16 9-4 5 0 15-2 5-8 10-2 5 4 5 18 7 10-2 5-5 5-10 4-20 0-10-4-11zM2827 4002l-5 1-5 5-3 15 3 7 5 6 10 5 5 0 4-3 2-5-1-10-6-15-4-4-5-2zM3007 3863l-5 2-5 7-5 2-5-1-20-10-5 0-5 1-4 4-1 5 8 25-2 30 4 5 5 3 30 14 5-1 12-26 12-40 0-5-4-7-10-8-5 0zM2822 3806l-10 1-12 6-23 18-5-1-12-7-8-3-15 2-11 11-8 20 4 4 25 4 20 14 5 0 5-3 7-14 3-3 35-11 15-2 4-4 0-5-9-18-5-7-5-2zM3062 3562l-10 1-8 5-7 10 0 7 10 1 17-3 4-5 1-5-2-6-5-5z" fill-opacity="0.24" fill-rule="evenodd"/><path d="M2757 4036l-5-2-5 1-5 3-4 5-1 15-9 20 4 5 5 3 10 1 5-3 5-6 4-10 1-15-1-10-4-7zM2832 4006l-5-1-5 1-5 7-1 5 1 7 5 8 10 6 5-1 4-5 0-5-4-15-5-7zM2972 3868l-10-3-6 3-2 5 7 25-1 25 2 5 10 8 25 8 5-4 12-22 9-35 0-5-6-7-5-3-5 1-10 8-5 0-20-9zM2827 3812l-5-4-5 0-15 6-12 9-13 15-22-15-8-1-10 2-6 4-6 10-3 10 1 5 29 8 15 10 5-1 10-21 20 0 33-11 2-5-1-5-9-16zM3062 3565l-5-2-10 5-4 5-2 5 1 3 3 2 7 0 10-3 4-7-4-8z" fill-opacity="0.24" fill-rule="evenodd"/><path d="M2752 4040l-5 0-4 3-2 15-7 15-1 5 4 5 5 2 5 0 5-3 6-14 0-20-6-8zM2827 4006l-5 2-3 5-1 10 4 8 10 6 7-4 0-10-4-10-3-5-5-2zM2967 3867l-8 1-3 5 7 25 0 25 2 5 7 6 15 6 10 0 10-11 8-16 5-25-1-10-7-6-10 6-10 1-25-12zM2747 3823l-10 2-8 8-4 10 0 5 2 4 25 7 15 8 5-3 3-11-1-10-13-15-14-5zM2822 3811l-5-1-10 3-15 10-7 10-1 5 1 5 7 4 10 0 26-9 4-3 1-7-1-5-5-8-5-4zM3062 3567l-5-1-7 2-4 5-1 5 7 3 10-3 2-5-2-6z" fill-opacity="0.24" fill-rule="evenodd"/><path d="M2752 4045l-5 0-3 13-8 15 0 5 6 5 5 0 5-4 5-11 0-10-5-13zM2827 4007l-5 2-2 4-1 10 7 10 6 2 5-2 1-10-4-10-7-6zM2972 3871l-10-3-5 5 6 25 1 25 3 6 10 6 15 4 5-1 10-11 7-14 4-25-1-9-5-3-10 4-10 1-20-10zM2757 3826l-10-3-10 3-7 7-4 10 0 5 5 5 36 11 5-6 1-10-4-10-12-12zM2822 3812l-5-1-10 3-14 9-6 10-1 5 3 5 8 3 5 0 22-8 7-5-1-10-3-6-5-5zM3057 3567l-5 1-4 5 1 5 8 1 5-6-2-5-3-1z" fill-opacity="0.24" fill-rule="evenodd"/><path d="M2752 4051l-5 1-9 21 0 5 4 3 5 0 5-3 2-5 1-10-3-12zM2827 4008l-7 5 0 10 2 5 5 5 5 2 5-4 0-8-3-10-7-5zM2972 3872l-10-3-4 4 6 25 1 25 3 5 9 6 10 4 10 0 10-11 6-14 4-30-5-5-10 3-10 0-20-9zM2757 3827l-10-3-10 2-5 5-4 7-1 10 5 5 35 9 3-4 2-5-2-10-6-10-7-6zM2822 3813l-5-1-10 2-13 9-6 10 0 5 3 5 6 2 10-1 22-11 0-10-7-10zM3057 3568l-7 5 2 5 5 0 4-5-4-5z" fill-opacity="0.24" fill-rule="evenodd"/><path d="M2752 4053l-5 3-8 17 0 5 3 2 5 1 7-8 1-10-3-10zM2832 4011l-5-3-5 3-3 7 3 10 5 5 5 1 3-1 3-5-2-10-4-7zM2972 3872l-10-2-4 3 6 25 1 25 3 5 9 6 10 3 10 0 10-11 6-13 4-20-1-10-4-4-15 3-5 0-20-10zM2757 3827l-10-3-10 3-7 6-2 5-1 10 6 5 34 8 4-8-1-10-6-10-7-6zM2817 3812l-10 2-13 9-6 10 0 5 3 5 6 2 10-1 22-11 1-5-3-10-5-5-5-1zM3057 3568l-7 5 2 4 5 0 3-4-3-5z" fill-opacity="0.24" fill-rule="evenodd"/></g><ellipse cx="306.5" cy="358" rx="3.5" ry="1" transform="rotate(-25 306.5 358)" fill="#fff" fill-opacity="0.9" stroke="#111" stroke-width="0.7"/><ellipse cx="300" cy="389" rx="1.8" ry="3" transform="rotate(0 300 389)" fill="#fff" fill-opacity="0.9" stroke="#111" stroke-width="0.7"/></g><rect x="288.2" y="329.6" width="38.3" height="41.4" fill="none" stroke="#111" stroke-width="1.4"/><rect x="288.2" y="375.9" width="38.3" height="55.4" fill="none" stroke="#111" stroke-width="1.4"/><text x="340.3" y="352.8" text-anchor="middle" font-size="8.4">10.8%</text><text x="340.3" y="407.2" text-anchor="middle" font-size="8.4">34.4%</text><path d="M230.2 313.6H353.3V436.3" fill="none" stroke="#222" stroke-width="1.1"/><path d="M230.2 313.6V436.3H353.3" fill="none" stroke="#111" stroke-width="1.2"/><path d="M227.2 436.3H230.2M230.2 436.3V439.3M227.2 414.5H230.2M253.4 436.3V439.3M227.2 404.87H230.2M263.03 436.3V439.3M227.2 392.13H230.2M275.77 436.3V439.3M227.2 382.5H230.2M285.4 436.3V439.3M227.2 350.5H230.2M317.4 436.3V439.3M227.2 318.5H230.2M349.4 436.3V439.3" stroke="#111" stroke-width="0.9"/><text x="225.4" y="439.5" text-anchor="end" font-size="9">0.1</text><text x="225.4" y="417.7" text-anchor="end" font-size="9">1</text><text x="225.4" y="408.07" text-anchor="end" font-size="9">2</text><text x="225.4" y="395.33" text-anchor="end" font-size="9">5</text><text x="225.4" y="385.7" text-anchor="end" font-size="9">10</text><text x="225.4" y="353.7" text-anchor="end" font-size="9">100</text><text x="230.2" y="447.8" text-anchor="middle" font-size="9">0.1</text><text x="253.4" y="447.8" text-anchor="middle" font-size="9">1</text><text x="263.03" y="447.8" text-anchor="middle" font-size="9">2</text><text x="275.77" y="447.8" text-anchor="middle" font-size="9">5</text><text x="285.4" y="447.8" text-anchor="middle" font-size="9">10</text><text x="317.4" y="447.8" text-anchor="middle" font-size="9">100</text><text x="235.6" y="325.4" font-size="11.3">C1</text><g clip-path="url(#c8)"><g transform="scale(0.1)" stroke="#111" stroke-width="10" stroke-linejoin="round"><path d="M4418 3667l-15-3-15 1-15 5-10 6-15 17-14 30-6 7-12 8-53 22-25 15-16 13-13 15-13 25-5 20-1 15 9 55-2 25-8 20-22 30-14 25-9 40-3 35 3 15 4 10 19 25 21 19 25 13 30 8 45 3 20-1 55-7 55-11 35-15 35-8 44-16 36-2 15-4 25-19 23-25 38-55 34-55 12-45-2-20-8-30-6-10-31-35-32-55-28-37-10-10-10-5-10-2-10 2-15 6-10 6-35 36-10 4-10-2-15-9-11-14-2-10-2-30-8-20-12-12-20-9zM4738 3502l-20-3-20 0-15 2-30 9-15 6-15 10-20 18-12 14-8 15-5 15-3 15 1 15 5 15 9 15 13 18 10 10 15 7 20 4 30 2 20-3 20-10 20-15 19-18 19-25 12-20 7-20 1-15-2-15-7-15-13-15-16-9-20-7zM4403 3678l-15 2-15 9-11 14-11 25-9 10-69 26-33 19-19 20-9 15-7 15-4 20 1 15 3 15 17 45 4 15 0 10-9 15-29 31-13 19-11 30-1 30 3 30 7 15 25 26 15 10 15 7 25 5 45 2 75-12 25-6 55-22 25-7 37-18 18-3 30 2 15-4 20-12 18-18 30-50 9-20 16-55 3-25-10-45-11-28-8-27-13-35-16-25-14-15-14-11-10-3-15 1-10 4-12 9-33 43-5 2-10-1-25-15-25-24-3-10 0-35-6-15-13-10-18-5zM4728 3508l-15-2-15 1-20 4-30 9-20 12-26 26-6 10-8 20-3 15 1 10 9 20 13 18 10 9 10 5 15 3 40 3 15-3 15-7 25-16 15-14 18-23 9-15 7-20 0-15-4-15-10-15-10-7-35-13zM4403 3712l-5 2-8 19-4 5-8 5-75 18-25 9-25 14-10 7-11 12-10 15-7 15-4 25 4 20 25 45 19 25 2 10-3 6-20 11-10 8-25 24-9 11-15 30-2 25 2 25 5 15 24 27 15 11 10 5 15 3 20 3 30 1 15-1 35-11 40-6 25-9 95-49 15-2 35 4 20-4 15-7 11-10 17-25 15-30 10-40 6-50-1-25-17-75-10-30-12-20-24-23-10-4-15 0-10 4-13 13-10 15-12 25-5 6-10 5-9-1-21-13-25-25-30-22-5-10-4-25-6-6zM4733 3517l-15-3-15 0-45 10-20 9-21 20-12 15-5 10-4 15-1 10 2 10 4 10 17 22 10 7 10 3 35 3 15 0 10-2 20-10 15-9 15-14 17-20 9-15 5-15 0-15-5-15-7-10-14-9-20-7zM4578 3756l-15 0-10 5-7 7-9 15-14 36-15 21-5 2-40-32-15-22-10-10-45-19-50 2-40 8-25 10-35 24-11 15-7 15-4 20 1 15 6 13 24 32 16 16 10 13 5 11 1 10-5 10-6 5-30 10-28 25-8 10-15 30-5 20 3 25 5 10 21 25 17 12 15 4 40 5 20 0 15-5 25-10 40-5 25-8 20-11 25-20 20-8 35-19 15-2 30 5 10 0 15-4 13-9 22-30 12-30 4-20 2-35 5-25 1-15-2-15-9-30-4-30-12-35-14-20-13-11-10-6zM4728 3522l-20-2-35 6-25 8-18 14-19 25-6 20 0 10 3 10 15 20 10 7 15 5 25 4 15 0 15-4 15-8 13-9 11-10 24-30 6-15 0-15-7-15-7-7-30-14z" fill="none"/><path d="M4578 3767l-10-2-5 1-10 7-5 6-8 19-9 50-23 30-10 7-5 1-5-5-11-38-24-28-15-26-10-8-30-10-15-3-40 0-40 7-18 8-37 27-10 13-7 15-2 15 3 15 6 10 40 41 25 34 5 10-5 10-7 5-48 21-25 21-9 13-14 30-3 10 0 10 5 15 23 30 8 6 10 4 35 8 20 1 15-2 35-15 45-5 15-5 15-9 14-13 11-15 5-3 20-6 11-6 13-15 11-22 5-3 10 2 25 21 15 5 15-3 25-22 13-18 9-30 2-40 7-30 0-15-11-37-2-28-11-30-12-21-20-15zM4723 3528l-15-1-30 4-20 5-15 8-19 19-8 15-3 20 5 12 10 10 19 13 11 5 15 4 15 0 10-3 28-16 32-34 5-11 2-10-4-15-7-10-11-7-20-8z" fill-opacity="0.24" fill-rule="evenodd"/><path d="M4393 3778l-55-4-40 9-10 5-20 20-15 10-9 10-5 10-2 15 4 15 7 8 30 23 16 24 9 10 15 7 20 3 20-5 10-1 8 6 0 5-3 7-5 4-25-1-5 2-21 23-54 19-37 31-18 35-1 15 21 35 5 6 10 6 40 10 15 1 15-4 35-13 35-3 15-4 15-8 13-11 12-22 5-6 30-12 10-10 6-10 5-15 0-10-11-40-4-5-11-2-20 7-5-3-2-7 14-30 1-10-5-25 2-6 15-19 1-10-2-10-35-60-14-9-25-6zM4573 3777l-10 1-5 3-9 12-5 20 3 30-2 10-3 5-14 11-11 14-8 15-3 15 3 40 10 25 3 30 7 10 14 13 10 7 10 3 10-3 24-15 6-6 5-9 11-30 2-35 7-35-2-15-10-30 0-25-5-15-18-33-10-8-10-5zM4728 3537l-15-4-25 2-25 5-15 7-12 11-10 15-5 15 2 10 5 7 20 8 10 15 10 6 20 2 20-8 19-15 23-25 6-10 0-10-3-10-9-10-16-11z" fill-opacity="0.24" fill-rule="evenodd"/><path d="M4413 3956l-5-2-10 0-5 2-15 13-35 4-20 17-40 11-20 11-15 23-15 9-5 6-9 18-1 11 10 14 10 22 10 7 25 9 15 3 10 0 15-3 35-12 40-5 15-6 12-10 8-10 8-20 5-5 27-11 11-9 6-10 3-15-3-15-7-10-10-4-20-1-11-5-5-5-9-17-5-5zM4578 3792l-10-2-5 2-5 3-5 8-2 15 3 25-1 12-5 9-22 19-7 10-4 15 5 45 10 50 8 12 10 7 10 4 10-1 24-12 16-24 6-16 2-35 6-25 0-15-11-30-1-35-17-28-6-7-9-6zM4363 3782l-15-3-15 1-25 5-15 7-11 11-12 20-17 10-5 5-4 15 3 10 11 10 25 13 19 32 11 8 10 3 15 1 25-6 10 0 45 9 10-1 5-5 3-9-5-20 1-10 20-20 3-5 0-10-5-15-19-35-8-9-20-7-40-5zM4718 3542l-20-1-30 4-17 8-13 15-5 10 0 9 5 3 10-4 5 0 5 2 5 10 1 20 2 5 7 5 15 2 10-3 10-5 10-9 15-23 10-11 0-7-10-8-7-16-8-6z" fill-opacity="0.24" fill-rule="evenodd"/><path d="M4403 3974l-15 4-40 2-20 15-35 8-20 10-8 10-2 10 7 25-1 10-6 14-14 16-1 10 4 5 26 13 20 3 15-3 30-11 45-6 17-11 12-15 6-20 4-5 6-4 20-7 10-5 7-9 4-15-3-10-8-7-45-13-8-5-7-9zM4573 3802l-10 2-5 9 2 35-2 12-3 8-7 7-10 6-8 7-6 10-3 10 6 50 8 40 8 12 5 3 10 2 10-2 10-6 25-23 4-6 3-10 2-30 5-25-1-15-11-30 2-25-2-10-6-10-11-12-15-9zM4358 3786l-10-2-15 0-25 6-10 5-9 8-4 10 0 25-2 11-5 1-15-6-5 2-3 7 1 5 5 5 7 3 10-1 10-4 15 7 4 10-3 15 1 10 7 10 9 5 17 3 30-5 35 1 10-2 4-7 0-20 8-10 16-15 3-5 1-10-2-10-20-35-5-5-15-4-25-1-20-7zM4698 3547l-15 1-10 3-11 7-4 5 0 5 11 20 4 29 5 5 5 2 10-1 12-5 10-10 3-10-3-40-2-5-5-4-10-2z" fill-opacity="0.24" fill-rule="evenodd"/><path d="M4383 3988l-15-4-15 2-20 13-35 7-10 4-11 8-3 5-2 10 7 20 1 10-7 20-10 20 1 5 4 5 15 9 15 2 15-3 30-10 43-8 8-5 12-15 12-34 5-3 20-3 10-4 8-6 3-5 0-10-2-5-5-5-29-9-25 0-20-11zM4578 3812l-5-1-5 1-4 6 0 40-6 21-5 6-15 5-5 4-6 14 4 25 0 30 5 20 7 18 10 6 10-2 5-2 18-15 12-7 6-8 3-10 6-55-2-10-11-25-1-10 3-15 0-10-9-14-15-12zM4358 3792l-10-3-10-1-25 5-15 9-6 11 3 35 18 23 7 32 8 7 10 3 47-5 13-4 6-21 29-24 5-11-5-15-15-24-5-5-10-2-25 3-20-13zM4703 3558l-10-4-10 1-10 8-2 5 7 40 5 8 5 2 5 0 9-5 7-10 1-10-2-25-5-10z" fill-opacity="0.24" fill-rule="evenodd"/><path d="M4378 3992l-10-3-10 1-25 15-30 4-11 4-9 7-4 8 0 5 8 25-13 45 1 5 4 5 9 5 15 1 77-21 21-25 3-10 1-20 5-10 8-3 20 5 9-2 6-5 2-5-2-5-5-5-20-6-25 3-10-6-15-12zM4583 3822l-10-2-5 8 1 30-2 15-4 17-5 11-5 4-10-5-5 1-4 7-1 5 4 15-3 30 2 15 7 19 5 6 5 2 5 0 10-4 15-13 15-9 6-11 4-50-3-15-11-25 0-10 4-15 0-8-5-10-10-8zM4343 3793l-10 0-15 4-15 9-4 12 1 25 3 7 11 13 11 30 8 10 15 4 24-4 11-5 2-5 0-20 3-3 15-2 12-5 11-10 3-10-5-10-16-19-5-1-25 5-10-1-7-14-5-5-13-5zM4693 3562l-10 2-4 9 6 30 3 6 5 1 5-2 3-5 2-20-3-15-7-6z" fill-opacity="0.24" fill-rule="evenodd"/><path d="M4378 3998l-10-4-10 1-25 14-20 1-12 3-9 5-5 5-2 10 7 15 1 10-7 25-4 20 2 5 4 3 10 3 10 0 55-16 9-5 8-10 13-12 5-13-2-20 1-15-5-10-14-15zM4578 3828l-5 5 0 5 3 25 0 10-9 30-9 18-15 14-6 18 0 10 3 15 5 10 8 6 10-1 15-12 15-8 5-5 3-10 3-40-1-10-5-12-13-23-1-5 9-20 0-9-5-7-10-4zM4338 3798l-18 5-8 5-4 6-4 14 0 15 14 20 8 20 7 11 5 4 10 2 15-1 9-6 1-5-5-15 3-10 12-10 19-10 3-5-3-5-4-3-15-2-10 3-15 13-5 1-8-2-6-5-2-10 2-5 11-10 2-5-4-7-10-3zM4693 3576l-5 0 0 2 0 2 5 3 0-7z" fill-opacity="0.24" fill-rule="evenodd"/><path d="M4373 4000l-5-2-10 1-20 13-10 2-20 0-9 4-6 5-2 10 7 20-7 25-3 15 1 10 4 4 10 3 10 0 38-12 9-5 12-15 16-10 4-10-6-40-4-10-9-8zM4588 3892l-5-3-5 3-15 34-15 12-7 10-2 10 2 15 4 10 8 7 10-1 15-12 15-9 5-9 1-41-4-15-7-11zM4323 3820l-5 0-8 8-2 5 0 10 11 15 9 22 5 7 10 6 10 0 6-5 1-30-24-15-13-23zM4583 3837l-3 6 3 5 3-5-3-6z" fill-opacity="0.24" fill-rule="evenodd"/><path d="M4368 4002l-10 2-20 11-30 2-9 6-3 5 0 5 5 10 1 10-7 20-3 15 1 10 5 7 10 2 10-1 30-11 9-7 6-13 15-6 7-6 2-10-5-15-1-20-5-10-8-6zM4588 3906l-5-2-20 29-15 10-5 8-2 12 2 10 5 9 5 4 10-1 15-12 10-6 5-4 2-5 2-10-1-20-3-14-5-8zM4323 3832l-5-1-4 2-2 5 1 5 9 15 11 23 10 5 5-1 5-12 0-11-2-4-18-12-10-14z" fill-opacity="0.24" fill-rule="evenodd"/><path d="M4368 4007l-10 0-25 12-25 2-5 5-1 7 4 15-10 30-1 10 2 10 6 5 15 1 28-11 6-5 5-15 5-5 15-5 4-5-4-40-4-7-5-4zM4583 3917l-5 3-15 18-15 9-3 6-1 15 4 11 5 4 5 1 5-2 25-18 5-6 2-15-2-15-5-9-5-2zM4333 3851l-5-3-3 5 3 13 5 10 5 4 5 0 6-7 0-10-3-5-13-7z" fill-opacity="0.24" fill-rule="evenodd"/><path d="M4368 4011l-5-2-5 1-20 10-25 3-6 5 2 20-11 35 0 10 5 7 5 2 10 0 24-9 6-5 10-22 16-8 2-5-2-30-1-5-5-7zM4588 3926l-5-2-5 3-10 11-20 12-3 8 0 10 3 8 5 5 5 1 5-2 27-22 3-15-5-17zM4338 3857l-5-2-3 3 0 5 3 9 5 4 5-1 3-7-1-5-7-6z" fill-opacity="0.24" fill-rule="evenodd"/><path d="M4363 4012l-5 0-20 10-25 6-1 20-11 25-2 10 2 10 4 5 13 2 21-7 6-5 12-25 13-10 2-5-1-25-3-8-5-3zM4588 3932l-5-3-5 2-10 10-15 7-5 5-2 5 0 10 2 5 5 6 5 1 5-2 25-21 3-9-3-16zM4338 3860l-5 3 1 5 4 4 5-4-1-5-4-3z" fill-opacity="0.24" fill-rule="evenodd"/><path d="M4363 4014l-5 0-20 9-19 5-4 5-2 15-11 25-2 10 2 10 6 5 10 1 10-2 10-5 9-9 6-17 15-18 1-25-1-5-5-4zM4583 3933l-15 10-15 6-4 4-2 5 0 10 6 10 5 1 5-2 25-24 0-15-5-5z" fill-opacity="0.24" fill-rule="evenodd"/><path d="M4363 4016l-5 0-34 12-7 5-5 20-10 25-1 10 2 5 5 4 10 2 10-3 10-5 8-8 7-19 14-16 1-5 0-20-5-7zM4583 3936l-33 17-3 10 1 6 5 8 5 1 5-2 24-23 1-10-5-7z" fill-opacity="0.24" fill-rule="evenodd"/><path d="M4363 4017l-10 1-30 11-4 4-6 20-11 25 0 10 6 8 5 2 10-1 11-4 9-7 10-24 12-14 2-5 1-15-1-5-4-6zM4583 3937l-32 16-4 10 1 5 5 8 5 1 5-2 20-19 4-8 0-5-4-6z" fill-opacity="0.24" fill-rule="evenodd"/><path d="M4363 4018l-10 0-30 12-4 3-6 20-11 25 0 10 6 8 5 2 10-1 11-4 9-7 10-24 12-14 2-5 1-15-5-10zM4583 3938l-32 15-4 10 1 5 5 8 5 1 5-2 20-19 4-8-1-5-3-5z" fill-opacity="0.24" fill-rule="evenodd"/></g><ellipse cx="435.5" cy="385.3" rx="2.5" ry="2" transform="rotate(0 435.5 385.3)" fill="#fff" fill-opacity="0.9" stroke="#111" stroke-width="0.7"/><ellipse cx="433" cy="405.3" rx="2.8" ry="1.8" transform="rotate(-20 433 405.3)" fill="#fff" fill-opacity="0.9" stroke="#111" stroke-width="0.7"/><ellipse cx="458" cy="391.5" rx="1.3" ry="3.5" transform="rotate(0 458 391.5)" fill="#fff" fill-opacity="0.9" stroke="#111" stroke-width="0.7"/></g><rect x="450.3" y="329.6" width="38.3" height="41.4" fill="none" stroke="#111" stroke-width="1.4"/><rect x="450.3" y="375.9" width="38.3" height="55.4" fill="none" stroke="#111" stroke-width="1.4"/><text x="502.85" y="352.8" text-anchor="middle" font-size="8.4">6.64%</text><text x="502.85" y="407.2" text-anchor="middle" font-size="8.4">28.5%</text><path d="M392.3 313.6H516.3V436.3" fill="none" stroke="#222" stroke-width="1.1"/><path d="M392.3 313.6V436.3H516.3" fill="none" stroke="#111" stroke-width="1.2"/><path d="M389.3 436.3H392.3M392.3 436.3V439.3M389.3 414.5H392.3M415.5 436.3V439.3M389.3 404.87H392.3M425.13 436.3V439.3M389.3 392.13H392.3M437.87 436.3V439.3M389.3 382.5H392.3M447.5 436.3V439.3M389.3 350.5H392.3M479.5 436.3V439.3M389.3 318.5H392.3M511.5 436.3V439.3" stroke="#111" stroke-width="0.9"/><text x="387.5" y="439.5" text-anchor="end" font-size="9">0.1</text><text x="387.5" y="417.7" text-anchor="end" font-size="9">1</text><text x="387.5" y="408.07" text-anchor="end" font-size="9">2</text><text x="387.5" y="395.33" text-anchor="end" font-size="9">5</text><text x="387.5" y="385.7" text-anchor="end" font-size="9">10</text><text x="387.5" y="353.7" text-anchor="end" font-size="9">100</text><text x="392.3" y="447.8" text-anchor="middle" font-size="9">0.1</text><text x="415.5" y="447.8" text-anchor="middle" font-size="9">1</text><text x="425.13" y="447.8" text-anchor="middle" font-size="9">2</text><text x="437.87" y="447.8" text-anchor="middle" font-size="9">5</text><text x="447.5" y="447.8" text-anchor="middle" font-size="9">10</text><text x="479.5" y="447.8" text-anchor="middle" font-size="9">100</text><text x="397.7" y="325.4" font-size="11.3">C2</text><g clip-path="url(#c9)"><g transform="scale(0.1)" stroke="#111" stroke-width="10" stroke-linejoin="round"><path d="M1165 5123l-20-4-25-1-20 1-20 5-25 10-20 11-22 18-17 20-14 25-12 35-10 95-7 40-11 40-5 60 0 35 10 60 11 30 16 30 36 40 33 25 17 8 15 4 25 1 40-7 25-11 30-20 43-50 52-95 10-10 15-9 15-4 15 4 42 34 13 8 10 3 10 1 15-1 15-5 15-8 10-8 10-12 28-53 9-25 10-50 1-30-4-65-2-20-10-40-13-30-15-25-19-25-25-24-15-6-15 2-20 15-45 44-15 8-15 3-10-2-45-24-55-34-45-17zM1435 4888l-20 1-20 5-15 7-15 10-11 12-7 10-6 15-1 15 1 15 4 15 26 60 18 25 11 12 15 10 15 6 10-2 10-6 20-22 14-18 28-55 7-20 1-15-1-15-4-15-5-10-10-12-15-11-20-10-15-5-15-2zM1155 5132l-35-3-20 1-40 14-20 10-23 19-16 20-14 30-9 30-4 110-4 20-14 40-4 50 0 45 8 50 5 15 9 20 17 25 24 25 30 24 15 9 15 6 15 0 25-7 30-3 25-13 20-15 28-31 24-40 21-45 12-41 10-11 20-15 5-2 10 0 15 7 15 11 46 41 14 9 10 2 15-2 15-4 15-8 11-12 32-55 5-15 11-55 1-20-5-70-3-25-8-30-8-20-11-18-20-26-15-13-10-5-15-3-15 0-10 4-20 14-30 35-15 15-15 11-10 1-10-5-65-56-25-18-25-14-35-13zM1450 4897l-15-2-20 1-15 3-15 7-15 10-12 12-6 10-4 15 0 15 5 20 27 48 10 13 15 13 10 7 10 4 15-1 10-6 10-8 40-53 8-17 4-15-1-25-3-10-6-10-22-18-30-13zM1150 5143l-35-3-15 1-40 14-20 11-20 17-13 20-8 20-11 35 1 70 3 35-2 12-19 53-5 45-1 45 6 25 2 20 5 15 11 20 19 25 19 20 18 15 15 9 15 5 10 1 25-5 25-1 10-3 40-29 14-12 30-45 15-30 5-20 3-30 8-21 30-44 20-15 10-5 5 3 5 6 17 41 12 15 11 11 40 29 10 4 10 0 20-7 11-7 37-50 7-15 12-55 1-15-6-45-1-35-9-45-12-23-36-42-14-6-15-1-15 4-15 8-18 20-29 40-6 10-12 27-10 9-10 1-10-3-10-8-3-11-3-20-6-15-43-49-40-28-30-14-15-4zM1445 4903l-15-2-15 1-25 8-15 10-10 10-8 13-2 10 0 15 5 15 25 37 10 10 10 6 25 6 10 0 10-4 35-30 14-20 5-20 0-20-4-10-5-7-20-15-20-10-10-3zM1150 5153l-30-2-30 4-30 10-25 17-11 11-12 20-13 55 2 65 6 35-12 35-10 25-3 15-4 70 8 30 1 20 23 40 10 12 30 29 15 8 10 3 50-1 10-2 45-30 14-14 34-60 4-10 4-40 12-35 6-25-3-10-10-15 0-5 3-5 6-4 15-3 10-6 8-12 3-10-3-15-24-45 0-10 5-20 0-15-3-15-7-15-19-29-12-11-33-23-40-17zM1435 5192l-15 2-15 6-15 11-11 12-24 45-6 25-11 25-4 15 2 10 9 17 2 8-2 25 1 15 12 50 6 10 11 11 30 21 15 6 15-3 25-13 30-34 8-18 4-25 9-35-2-15-7-35 0-45-7-32-5-10-10-11-20-17-15-16-10-5zM1435 4907l-25 1-20 8-20 17-8 15-1 10 1 10 9 20 19 24 10 7 10 4 30 0 20-7 15-12 11-11 6-10 3-10 3-15-1-10-7-13-10-8-27-14-18-6z" fill="none"/><path d="M1150 5162l-20-2-35 4-15 3-15 6-20 13-15 12-9 15-5 15 0 25-6 25 2 40 1 20 8 20 1 10-26 65-2 30 6 25-1 5-7 15-1 10 14 39 9 16 6 20 6 10 14 14 15 11 15 7 10 3 50-3 20-15 25-11 11-11 31-65 3-30 15-45-2-15-15-20-1-15 7-15 23-25 4-10-1-10-10-35-2-20 7-25 1-15-3-10-9-20-14-20-26-20-9-6-35-15zM1435 5221l-10-2-20 0-10 3-6 6-6 10-5 15-10 20-17 45-1 10 2 10 8 15 2 10 0 10-5 25 0 10 9 45 9 12 30 23 10 4 10-1 30-11 10-8 17-19 9-15 4-29 9-31-2-15-10-30 3-40-6-35-5-10-9-8-40-19zM1430 4912l-15 0-20 7-21 19-6 15 1 15 9 20 17 19 15 6 30 0 10-2 10-5 10-9 12-14 7-20 0-15-6-10-8-5-16-5-19-13-10-3z" fill-opacity="0.24" fill-rule="evenodd"/><path d="M1145 5170l-15-2-35 4-20 6-20 11-18 14-8 10-5 15 1 30-3 25 1 35 4 20 14 20 2 5-4 10-14 18-18 42-2 15 1 15 11 25 1 5-1 5-10 15-1 5 4 10 14 15 3 5 7 40 5 10 8 10 8 6 20 6 10 0 30-6 10-5 11-11 9-6 20-1 10-5 8-13 6-20 11-20 2-10-1-20 12-35-1-10-27-22-5-8 1-5 12-20 27-28 7-12 3-20 1-20-8-35 1-5 10-20 0-15-11-25-11-15-27-21-25-8-15-9zM1435 5237l-25 2-8 4-8 15-18 25-13 30-2 10 1 10 9 25 0 20-4 35 7 35 8 10 18 9 10 8 10 3 25-6 9-4 21-21 8-14 4-25 10-30-3-15-10-25-1-10 5-30-7-35-6-9-5-3-20-10-15-4zM1430 4917l-15-1-15 6-17 16-9 15 1 15 6 15 14 16 15 7 25 0 20-6 13-12 13-25 1-10-1-5-5-5-21-6-14-14-11-6z" fill-opacity="0.24" fill-rule="evenodd"/><path d="M1130 5177l-35 2-15 6-37 23-9 10-3 10 3 30-4 40 2 15 7 20 7 10 14 15 6 15-4 10-17 10-12 20-12 15-4 10-1 15 4 14 18 21 6 15-5 20 0 25 2 15 7 25 7 13 5 4 10 4 20-2 15-4 9-5 25-30 42-40 2-5-1-20 4-20-1-15-4-10-18-20-3-10 2-10 7-20 0-20 2-5 4-2 25 0 10-5 6-8 5-20 1-20-9-30 2-10 9-15 2-10-2-10-7-15-11-15-21-16-10-5-25-3-10-8-10-4zM1440 5247l-15 1-10 6-30 32-14 27-1 15 7 30 3 75 5 12 10 4 40-1 15-11 15-5 5-4 7-25 10-20 0-15-10-20-2-10 0-10 5-25-3-20-11-20-12-10-14-6zM1430 4922l-15-2-10 4-10 9-10 14-5 11 1 15 5 10 14 13 10 4 25 0 15-5 12-12 9-20 1-5-2-6-20-9-12-15-8-6z" fill-opacity="0.24" fill-rule="evenodd"/><path d="M1130 5395l-10 6-17 17-14 10-14 4-20-1-5 2-3 5 4 35 11 25 2 10-1 10-13 23-1 17 11 32 5 6 5 3 10 1 16-7 6-5 8-16 15-23 20-6 10-8 5-12 0-15 10-16 1-14-4-15-13-20-9-32-15-16zM1445 5257l-5-2-10 0-10 6-35 38-5 9-3 10 10 70 11 35 12 6 15 1 10-7 30-29 11-16 0-10-8-20-1-10 5-30 0-10-3-10-18-25-6-6zM1125 5186l-20-1-13 3-35 20-16 15-4 10 5 30-5 35 3 15 9 20 11 10 16 10 14 23 5 3 15 4 20 9 17-9 13-23 10-3 30-1 9-8 4-10 2-15-1-10-9-19-1-6 3-10 9-15 2-10-2-10-8-15-8-10-15-13-15-6-25 5-15-16-5-2zM1430 4927l-10-3-12 4-5 5-17 25-1 10 3 10 7 9 10 6 15 2 20-4 10-6 5-7 2-15-12-15-9-15-6-6z" fill-opacity="0.24" fill-rule="evenodd"/><path d="M1130 5416l-10 2-13 10-17 8-25 7-6 10-1 10 1 10 15 30 10 25-1 5-3 2-18 8-4 10 1 10 6 12 5 9 5 3 5 0 6-4 11-20 5-15-2-20 16-25 14-13 20-4 5-6-1-12-13-40-6-10-5-2zM1440 5265l-5-2-5 1-10 7-30 33-7 14 7 61 5 11 10 14 5 5 10 6 10-2 10-9 19-26 3-10-5-30 7-30 0-10-6-10-18-23zM1120 5192l-10-2-13 3-32 19-15 13-4 8 3 25-6 25-1 15 6 20 11 15 11 5 20 4 5 5 4 11 6 8 10 5 10 1 11-4 3-5 1-20 5-5 5 0 15 9 15 2 15-2 10-9 4-10-1-10-9-20-2-10 10-25 1-10-10-25-15-15-8-5-10 0-20 13-5-4-12-19-8-6zM1430 4933l-10-4-10 4-18 25-2 5 0 10 7 10 8 5 10 2 10-1 10-4 8-7 2-10-2-10-6-15-7-10z" fill-opacity="0.24" fill-rule="evenodd"/><path d="M1130 5430l-10 0-45 17-8 6-3 10 3 15 13 20 10 9 5 0 10-5 33-39 1-10-1-10-3-7-5-6zM1440 5278l-5-3-5 0-5 2-20 25-10 9-5 10 4 27-1 20 2 9 10 14 15 11 5 1 5-2 5-5 8-13 3-10-1-7-4-3-11 0-10-3-7-7-1-5 2-10 6-9 5-3 20-2 5-4 4-7 2-10-1-5-6-10-9-10zM1115 5196l-10 0-5 2-30 17-13 13-3 10 2 20-9 30 0 15 4 10 7 10 7 6 10 2 15 1 10 4 6 7 5 10 4 4 5 1 5-3 5-17 4-5 6-4 10 0 15 10 10 4 10-1 10-4 7-10 0-10-11-20-2-10 9-20 1-10-11-25-8-11-5-4-5-1-5 1-3 5-4 15-8 4-5-1-7-8-13-30-10-7zM1425 4935l-5-1-5 2-20 27 0 10 2 5 8 6 10 2 10-2 9-6 3-5 1-10-2-10-4-10-7-8z" fill-opacity="0.24" fill-rule="evenodd"/><path d="M1125 5442l-10-1-15 4-20 6-9 7-2 5 1 10 5 10 10 10 10 4 5-2 7-7 20-30 1-10-3-6zM1405 5362l-5 6 5 11 15 11 7-2 3-5-1-5-24-16zM1115 5202l-5-1-10 3-26 14-10 10-4 10 1 20-11 30 0 10 5 13 5 7 10 7 30 2 15 6 5 0 15-9 10-1 10 1 20 13 10-1 5-2 5-5 2-6-3-10-9-12-3-8 2-10 7-15-1-10-3-5-7-8-5-1-20 5-15-4-6-7-12-30-7-6zM1435 5286l-5-1-5 3-6 10 0 10 6 5 15 0 6-5 2-5-3-9-10-8zM1425 4942l-5-1-5 3-16 19 0 10 6 7 5 2 10-1 10-8 2-5 0-10-2-9-5-7z" fill-opacity="0.24" fill-rule="evenodd"/><path d="M1110 5451l-20 2-10 4-5 6 0 10 5 9 5 4 10 3 5-3 5-6 9-22 0-5-4-2zM1115 5208l-5-2-10 3-20 10-11 9-4 10 0 20-12 30 1 10 4 10 7 9 10 4 40 1 20-4 15 1 10 2 15 10 10-1 5-6 0-6-11-15-3-10 7-25-1-5-2-4-5-4-25-3-15-6-6-8-9-25-5-5zM1425 4951l-5-3-12 10-6 10 3 7 5 3 5 0 10-5 3-10-3-12z" fill-opacity="0.24" fill-rule="evenodd"/><path d="M1100 5458l-10 0-8 5-2 5 0 5 5 7 5 2 5 0 5-4 4-10 1-5-5-5zM1110 5211l-10 2-20 9-10 11-2 25-12 30 0 10 4 8 5 6 10 5 25 0 25-4 40 4 15 6 1-5-6-7-2-8 2-35-5-6-28-9-9-5-7-10-8-20-3-5-5-2zM1420 4956l-5 1-7 6-1 5 3 5 7 0 6-5 1-5-4-7z" fill-opacity="0.24" fill-rule="evenodd"/><path d="M1095 5466l-5-1-3 3 0 5 3 2 6-2 1-5-2-2zM1110 5215l-10 1-15 6-9 6-3 5-2 25-13 30 1 10 2 5 9 8 10 3 20-1 15-7 30 6 15 0 5-3 3-6 2-20 0-10-2-5-6-5-25-10-7-5-5-7-10-22-5-4z" fill-opacity="0.24" fill-rule="evenodd"/><path d="M1105 5218l-20 6-10 9-1 5-1 20-13 30 1 10 3 5 6 5 10 3 20-2 15-9 25 9 10 1 10-2 4-5 3-15 0-10-3-10-7-5-27-13-6-7-9-19-5-5-5-1z" fill-opacity="0.24" fill-rule="evenodd"/><path d="M1110 5222l-5-2-10 2-10 4-8 7-2 5-1 20-12 30 3 13 10 7 10 1 10-1 15-11 5-1 25 11 10 1 10-3 5-12-1-20-9-9-20-9-9-7-11-20-5-6z" fill-opacity="0.24" fill-rule="evenodd"/><path d="M1105 5222l-15 3-11 8-2 5-1 20-13 30 2 11 10 8 10 1 10-2 15-11 5-1 25 12 15 0 5-4 3-9 1-10-2-10-7-8-25-12-9-10-8-15-3-4-5-2z" fill-opacity="0.24" fill-rule="evenodd"/><path d="M1100 5223l-10 3-10 7-2 5-3 25-10 20-1 10 2 5 9 7 10 2 10-3 14-11 6-1 25 13 10 1 7-3 4-5 2-10 0-10-3-6-10-9-21-10-5-5-14-22-10-3z" fill-opacity="0.24" fill-rule="evenodd"/><path d="M1110 5226l-5-2-10 0-9 4-5 5-3 5-2 25-11 21-1 9 3 5 8 7 10 1 10-2 13-11 7-1 25 13 10 1 5-2 5-5 2-6 1-10-3-10-10-9-22-11-5-5-13-22z" fill-opacity="0.24" fill-rule="evenodd"/><path d="M1110 5227l-5-3-10 1-8 3-6 5-2 5-3 25-11 22 0 8 2 5 8 7 10 1 10-3 12-10 8-2 25 14 10 0 5-1 5-6 2-5 0-10-2-10-10-9-22-11-5-5-13-21z" fill-opacity="0.24" fill-rule="evenodd"/></g><ellipse cx="111.8" cy="530" rx="2.5" ry="3.5" transform="rotate(0 111.8 530)" fill="#fff" fill-opacity="0.9" stroke="#111" stroke-width="0.7"/><ellipse cx="143" cy="532.5" rx="1.8" ry="3.5" transform="rotate(0 143 532.5)" fill="#fff" fill-opacity="0.9" stroke="#111" stroke-width="0.7"/></g><rect x="125.5" y="470.8" width="38.3" height="41.4" fill="none" stroke="#111" stroke-width="1.4"/><rect x="125.5" y="517.1" width="38.3" height="55.7" fill="none" stroke="#111" stroke-width="1.4"/><text x="178.05" y="494" text-anchor="middle" font-size="8.4">4.3%</text><text x="178.05" y="548.4" text-anchor="middle" font-size="8.4">23.8%</text><path d="M67.5 454.8H191.5V577.8" fill="none" stroke="#222" stroke-width="1.1"/><path d="M67.5 454.8V577.8H191.5" fill="none" stroke="#111" stroke-width="1.2"/><path d="M64.5 577.8H67.5M67.5 577.8V580.8M64.5 556H67.5M90.7 577.8V580.8M64.5 546.37H67.5M100.33 577.8V580.8M64.5 533.63H67.5M113.07 577.8V580.8M64.5 524H67.5M122.7 577.8V580.8M64.5 492H67.5M154.7 577.8V580.8M64.5 460H67.5M186.7 577.8V580.8" stroke="#111" stroke-width="0.9"/><text x="62.7" y="581" text-anchor="end" font-size="9">0.1</text><text x="62.7" y="559.2" text-anchor="end" font-size="9">1</text><text x="62.7" y="549.57" text-anchor="end" font-size="9">2</text><text x="62.7" y="536.83" text-anchor="end" font-size="9">5</text><text x="62.7" y="527.2" text-anchor="end" font-size="9">10</text><text x="62.7" y="495.2" text-anchor="end" font-size="9">100</text><text x="67.5" y="589.3" text-anchor="middle" font-size="9">0.1</text><text x="90.7" y="589.3" text-anchor="middle" font-size="9">1</text><text x="100.33" y="589.3" text-anchor="middle" font-size="9">2</text><text x="113.07" y="589.3" text-anchor="middle" font-size="9">5</text><text x="122.7" y="589.3" text-anchor="middle" font-size="9">10</text><text x="154.7" y="589.3" text-anchor="middle" font-size="9">100</text><text x="72.9" y="466.6" font-size="11.3">C3</text><g clip-path="url(#c10)"><g transform="scale(0.1)" stroke="#111" stroke-width="10" stroke-linejoin="round"><path d="M3092 4817l-20-1-20 1-20 3-25 9-20 11-20 13-16 15-16 20-14 30-8 35 0 50 12 50-1 10-3 5-9 5-32 5-43-2-55 7-65 22-25 14-45 41-16 18-21 30-12 20-18 40-11 35-25 90-25 55-12 35-5 45 2 20 4 15 11 20 28 27 15 8 20 7 65 6 45-4 45-12 40-15 40-24 19-13 51-45 30-18 15-5 10 1 15 10 10 12 21 35 11 15 18 18 20 12 15 3 15-6 30-30 9-12 12-25 16-60 3-25 3-100-7-50-7-35-22-65-23-45-3-10-1-15 3-10 7-10 21-20 29-23 37-47 11-20 5-15 6-20 3-25-3-25-5-15-6-15-13-18-18-17-17-11-20-9-25-6zM2852 5107l-15-2-30 5-30 1-45 6-20 7-15 11-48 43-40 60-16 35-14 45-8 40-9 28-31 72-8 30-4 45 4 25 5 10 9 10 30 24 15 7 20 4 35 4 35 0 30-5 60-20 15-8 45-29 29-32 35-30 36-42 10-8 5-1 10 5 15 17 5 9 12 30 21 40 12 16 15 11 15 5 10-1 10-4 25-19 15-18 17-45 7-25 2-115-4-25-13-60-29-66-10-11-30-12-18-16-27-11-15-15-10-7-15-3-75-4-30-11zM3102 4828l-20-4-25 0-30 7-25 9-25 16-19 17-15 20-11 20-6 25-3 20 2 30 4 20 13 22 32 38 8 7 20 11 20 5 40-6 15-4 40-22 15-13 28-33 11-15 9-20 8-30 2-20-4-25-9-20-10-15-25-22-20-11-20-7zM2842 5127l-10-1-55 8-40-1-20 7-45 35-13 13-12 15-15 29-19 26-20 55-7 50-23 50-11 35-12 25-4 15-1 40 4 25 10 15 23 18 15 6 35 10 50 2 30-4 35-11 15-6 55-33 8-7 22-27 36-33 19-34 30-46 10-10 10-6 5 0 5 3 15 23 20 55 3 20 4 15 17 30 11 14 15 7 15-4 33-22 12-15 16-35 5-20 1-15-3-30 0-55-1-20-5-20-12-50-9-20-22-24-5-4-10-3-15 3-25 0-5 3-20 19-5 2-5 0-3-6-3-25-4-12-5-3-22-5-12-10-21-8-20-19-20-10-15-14-10-5zM2974 5283l1 5-3 7-14 8-11 2-7-7-1-5 3-6 25-9 5 2 2 3zM3092 4833l-15-3-20 2-35 9-20 8-20 13-18 16-15 20-9 20-5 20-1 25 2 20 6 20 10 14 20 17 18 19 12 9 15 6 15 2 35-3 15-5 30-15 12-9 31-35 10-15 8-20 7-25 1-20-3-15-8-20-13-17-23-18-22-13-20-7zM2827 5147l-25 2-35 8-25-5-10 2-15 8-35 23-15 14-11 14-14 28-18 27-15 35-4 15 0 25-2 15-4 10-19 30-6 20-5 30-19 40-1 25 3 30 7 15 13 11 10 5 25 4 25 10 40 4 25-2 35-9 15-8 25-23 30-13 63-69 21-60 22-35 7-20 2-35-10-30-1-10 3-40-5-15-26-35-26-20-15-16-10-5zM3067 5251l-10-1-30 2-14 6-7 10-7 25-13 30 1 30-7 35 8 25 1 25 9 25 5 30 4 10 10 13 10 8 10 4 20-3 15-8 10-8 23-36 5-20-4-35 2-40-7-45-19-65-6-10-9-7zM3082 4837l-20 2-45 13-25 12-15 11-11 13-13 20-6 15-3 15 1 25 2 15 7 15 12 15 21 20 15 17 10 7 10 4 15 0 35-4 30-11 10-6 39-42 8-15 11-35 3-15-2-15-5-15-7-10-49-40-13-7-15-4z" fill="none"/><path d="M2822 5166l-10-2-15 0-40 14-25-1-15 3-15 7-15 10-15 13-9 13-29 55-13 30-2 10 2 20-7 25-6 10-15 20-5 10-1 15 9 20-21 30-12 25-2 20 2 20 5 15 9 9 10 4 21 2 29 12 40 6 20 0 25-5 16-8 19-24 7-6 28-9 9-6 23-30 29-30 5-10 2-10 0-10-4-20 1-13 5-8 20-17 9-12 8-20 3-25-10-35-1-35-4-15-36-45-19-17-10-5zM3047 5278l-10 0-10 4-10 9-8 12-4 15 0 30-8 25-2 10 6 30-2 25 10 30 4 20 5 10 9 8 10 4 10 1 10-2 8-6 8-10 9-17 10-9 7-9 1-10-3-30 4-30-1-15-9-35-12-25-7-20-10-11-15-4zM3097 4848l-15-4-15 1-30 11-20 4-15 6-12 7-11 10-11 15-10 20-3 10-1 15 1 20 5 15 24 30 23 25 15 10 15 1 40-5 25-8 10-7 29-31 9-15 14-50 0-10-3-10-9-13-20-13-21-24-14-10z" fill-opacity="0.24" fill-rule="evenodd"/><path d="M2812 5177l-10-2-10 1-45 16-20-1-15 3-22 14-18 20-36 75-3 10-1 27-10 28-5 10-12 15-5 10 1 10 11 15 2 10-1 5-4 5-13 10-9 10-5 10-5 15-4 20 2 15 3 10 9 9 20 5 35 15 50 5 25-2 15-8 25-30 10-6 20-6 10-7 20-30 20-16 8-9 5-15 0-10-5-20 1-15 11-18 18-17 7-10 6-20 1-20-16-45-1-10 2-10-3-10-24-20-17-30-8-7-10-4zM3052 5315l-5-1-11 29-4 7-18 18-6 15 3 30-4 20 2 15 17 40 6 5 10 4 10-3 5-5 10-26 15-15 3-5 1-25 9-30-1-15-12-35-10-11-20-12zM3092 4852l-10-3-10 1-35 15-25 4-10 4-17 15-20 35-2 10 0 15 1 15 4 10 29 37 25 20 15 2 45-3 15-4 10-7 12-15 13-12 9-13 5-25 9-25-1-15-7-11-21-14-19-25-15-11z" fill-opacity="0.24" fill-rule="evenodd"/><path d="M2812 5192l-5-2-10-1-25 5-20 7-25-1-10 1-20 13-17 19-11 30-24 50-5 35-13 30-11 20-1 10 9 30-2 10-24 20-7 15 1 15 5 12 10 0 7 3 1 5-3 2-13 3 1 5 15 15 17 12 15 4 30 1 20 4 10 0 10-3 10-8 30-29 32-16 7-10 7-20 24-13 12-12 4-15-6-30 1-10 9-19 23-31 1-10-3-15 2-20-6-20-17-30-5-7-19-18-2-5-1-20-2-5-6-6zM3067 5336l-10-1-5 3-28 35-5 10 0 30-5 20 1 10 7 13 15 10 5 0 5-3 17-20 5-10 4-15 13-20 4-10-2-15-7-20-6-10-8-7zM3092 4858l-10-3-10 1-35 18-30 6-10 8-22 35-3 10-1 10 4 25 17 20 8 15 12 10 10 4 50 4 20-2 10-6 31-35 5-30 8-20 1-10-2-5-8-9-20-16-13-20-12-10z" fill-opacity="0.24" fill-rule="evenodd"/><path d="M2777 5207l-5-1-20 3-20-2-10 0-17 11-11 10-7 10-9 55-6 10-11 10-7 10-4 25-22 50-1 15 5 40-3 5-17 10-5 5-1 5 0 5 4 5 18 15 8 10 1 10-6 15 2 5 9 6 15 2 25-7 20 8 10-3 43-31 27-16 5-9 1-25 4-6 5-1 20 0 10-5 7-8 2-10-6-30 1-10 19-45 0-5-7-20 2-10 9-20 0-10-4-10-8-12-25-18-40-41zM3067 5346l-5-2-5 2-5 4-19 23-5 10-1 10 2 20-7 19 0 6 5 9 5 3 10-1 7-6 6-10 3-20 19-14 7-11 0-10-3-10-7-15-7-7zM3087 4861l-10-1-10 3-35 22-15 7-26 26-8 10-3 15 2 19 15 16 8 20 7 7 10 3 20-1 30 7 15 0 10-6 29-30 3-10 2-25 6-15 1-10-6-10-20-18-14-22-11-7z" fill-opacity="0.24" fill-rule="evenodd"/><path d="M2732 5213l-10 1-6 4-17 15-6 10-5 60-17 15-7 10-4 20-13 25-11 35-1 20 10 30 0 5-4 5-14 9-1 6 11 15 15 13 57 7 18 6 10-2 30-17 9-7 4-10 0-25 2-7 10-13 5 1 15 8 5 0 5-2 6-7 1-10-7-20 0-10 11-35-2-30 12-50-1-5-5-7-20-15-25-26-25-14-35-8zM3067 5355l-5-2-5 2-16 18-5 15 2 5 4 6 5 2 15-3 10-4 5-6 2-5-1-10-6-13-5-5zM3087 4866l-5-2-10 2-15 7-54 45-12 15-3 10 2 10 12 14 8 26 7 7 30 1 30 6 10-1 30-27 5-6 2-10-1-20 8-20 0-5-6-10-17-15-12-20-9-7z" fill-opacity="0.24" fill-rule="evenodd"/><path d="M2732 5218l-13 5-19 20-3 10-2 25 2 30-5 7-10 7-5 6-10 25-12 20-3 10 1 15-11 17-2 13 2 10 12 25-2 9-9 11 0 5 4 6 10 6 30 6 50 4 20-6 10-6 5-5 2-10-1-20 6-20 3-23 10-7 15-6 5-5 8-14 3-10 0-10-10-15-1-5 11-20 3-15-4-7-10-3-5-5-1-5 4-15 0-10-13-20-15-11-20-6-20-12-10-1zM3062 5362l-5 1-5 5-6 10 1 8 5 4 15-1 6-6-1-11-5-8-5-2zM3087 4871l-5-2-10 1-15 8-44 40-12 15-2 10 1 5 8 15 7 25 7 6 60 6 10-5 23-22 3-10-1-20 7-20 0-5-2-5-20-20-8-15-7-7z" fill-opacity="0.24" fill-rule="evenodd"/><path d="M2732 5223l-5 1-10 7-10 11-3 6-4 30 3 30-1 11-5 8-15 15-19 31 0 10 4 4 17 1 0 5-12 13-20 8-5 6-2 8 2 10 10 16 3 9-4 20 0 5 11 7 25 7 35-2 20 1 10-2 8-6 4-10 0-20 5-20 1-25 3-5 29-16 6-9 4-10-2-10-12-15-1-5 2-5 11-15 1-5 0-5-14-13-3-7 3-25-5-15-10-11-10-3-15-2-20-17-10-2zM3062 5373l-5 6 5 1 2-2-2-5zM3077 4873l-10 3-11 7-42 40-6 10 0 15 9 31 5 9 5 3 45 4 10-1 23-16 7-10 1-10-2-15 7-20 0-5-2-5-15-15-12-20-7-5-5 0z" fill-opacity="0.24" fill-rule="evenodd"/><path d="M2732 5228l-10 5-13 15-5 30 4 30-1 16-5 10-20 18-7 16 0 5 17 7 5 3 1 5-3 5-20 20-8 4-10 2-5 4-2 5 2 10 11 20 0 25 2 5 8 5 14 4 15 1 25-3 25 0 10-5 3-7 0-20 5-20-1-25 2-5 5-5 26-14 6-6 4-10-4-10-12-15 1-10 9-15 1-5-12-20-1-10 2-20-3-10-6-8-5-2-20-2-8-3-10-15-7-5-5 0zM3082 4878l-10-1-10 5-46 46-4 10 0 10 9 30 6 8 15 4 35 0 10-3 10-7 10-12 2-10-2-20 5-15 0-5-15-17-9-18-6-5z" fill-opacity="0.24" fill-rule="evenodd"/><path d="M2737 5235l-5-2-9 5-6 6-5 9-5 30 5 30-2 15-5 10-18 15-4 10 1 5 18 13 2 7-2 5-15 12-10 13-5 4-15 5-2 6 11 25 2 25 4 5 15 6 15 1 30-5 20 1 6-3 4-10 0-15 5-20-1-30 6-7 26-13 5-5 4-10-4-10-12-15 0-10 8-15 1-5-10-20 2-25-2-10-4-5-9-5-25-1-5-2-7-17-3-3zM3082 4882l-10-1-10 5-38 37-7 10-2 10 5 25 4 10 8 7 20 3 25-2 15-7 11-11 2-10-4-20 5-15 0-5-13-15-11-21z" fill-opacity="0.24" fill-rule="evenodd"/><path d="M2732 5241l-5 1-6 6-10 30-1 10 4 25-2 17-5 11-15 13-4 9 3 5 13 10 4 5 0 5-2 5-18 15-11 15-14 10-1 5 7 20 1 20 2 5 6 5 14 4 15 0 25-5 15 0 5-1 5-3 8-40-2-30 4-7 30-16 6-7 1-5-2-6-15-19 0-10 6-15 1-5-7-20 0-30-5-6-10-4-15 0-20 3-4-3 2-15-3-7zM3082 4888l-5-4-5 0-10 5-11 9-31 35-2 10 2 15 4 15 8 9 15 4 25-2 15-5 13-11 2-10-5-20 1-20-16-30z" fill-opacity="0.24" fill-rule="evenodd"/><path d="M2772 5267l-15-1-20 8-15-3-5 3-2 4-2 10 3 30-3 15-6 12-13 13-1 5 3 5 12 10 3 10-4 7-17 13-13 21-9 9 5 40 2 5 7 4 10 3 10 0 25-5 25-3 3-4 8-35-2-25 1-10 6-5 22-10 10-10 1-5-1-5-13-15-4-10 6-25-5-20 0-25-2-5-10-6zM3077 4888l-10 1-10 6-35 38-2 15 4 20 6 10 7 4 15 2 25-3 15-8 7-10 0-10-9-20-1-20-7-19-5-6z" fill-opacity="0.24" fill-rule="evenodd"/><path d="M2777 5273l-10-4-10 0-20 8-15 0-6 6-1 10 2 20-1 15-4 13-15 17 0 5 13 15 3 10-2 5-23 20-16 30 3 35 7 7 10 4 10 0 25-6 20-2 5-2 10-36-3-30 1-5 4-5 23-10 11-10 1-5-2-5-12-15-4-10 5-25-4-20 0-20-5-10zM3077 4892l-5-2-5 1-10 6-33 36-3 10 3 20 4 10 9 8 15 2 25-4 13-6 7-9 0-11-14-25 1-20-7-16z" fill-opacity="0.24" fill-rule="evenodd"/><path d="M2772 5272l-15-1-15 7-20 2-5 5-1 8 2 20-1 15-5 16-12 14-1 5 13 15 2 10-2 5-23 20-15 30 2 35 5 5 6 3 10 2 10-1 42-9 4-5 8-30 0-10-4-20 1-5 4-5 25-11 9-9 1-5-1-5-13-15-4-10 4-25-4-40-2-7-5-4zM3072 4892l-5 1-10 6-16 19-14 13-4 7-1 10 3 15 4 10 8 7 15 2 20-2 16-7 8-10 0-5-3-10-13-15-1-5 2-15-1-10-3-8-5-3z" fill-opacity="0.24" fill-rule="evenodd"/><path d="M2767 5272l-10 1-20 7-15 2-5 6 2 30-2 13-5 15-10 12-1 5 12 15 2 10-3 6-22 19-15 30-1 5 3 29 5 6 5 2 15 2 45-9 5-6 8-29-3-35 5-6 25-11 8-8 1-5-1-5-13-15-4-10 4-25-4-40-2-5-9-6zM3077 4898l-5-4-5 0-10 6-15 19-15 13-3 6-1 10 3 15 4 10 7 6 15 3 20-3 15-6 8-10 0-5-3-9-15-16-1-5 4-15-3-15z" fill-opacity="0.24" fill-rule="evenodd"/><path d="M2762 5273l-20 7-20 3-4 5 1 30-2 14-5 15-9 11-1 5 12 15 2 10-4 7-22 18-15 35 2 27 5 7 5 3 10 2 10-1 40-9 5-7 8-27-3-35 5-6 25-11 7-8 2-5-2-5-12-15-4-10 3-25-4-40-5-8-10-2zM3072 4895l-5 0-10 5-15 20-15 13-3 5-1 10 3 15 4 10 7 6 15 2 20-3 15-6 7-9 1-5-3-8-16-17-2-5 5-20-2-8-5-5z" fill-opacity="0.24" fill-rule="evenodd"/><path d="M2772 5276l-5-2-10 0-15 6-20 4-3 4 0 30-2 15-5 14-8 11-1 5 11 15 2 10-4 7-22 18-15 35 2 26 5 8 5 3 10 1 10 0 40-9 5-8 7-26 1-10-4-20 1-6 5-5 25-12 7-7 1-5-1-5-12-15-4-10 2-30-3-35-5-7zM3072 4895l-5 0-10 6-15 19-15 13-2 5-2 10 3 15 5 10 6 6 15 2 20-3 15-6 7-9 0-5-2-7-17-18-2-5 5-20-1-7-5-6z" fill-opacity="0.24" fill-rule="evenodd"/></g><ellipse cx="306" cy="494" rx="3.5" ry="1.3" transform="rotate(-15 306 494)" fill="#fff" fill-opacity="0.9" stroke="#111" stroke-width="0.7"/><ellipse cx="274" cy="535" rx="1.8" ry="3.5" transform="rotate(15 274 535)" fill="#fff" fill-opacity="0.9" stroke="#111" stroke-width="0.7"/></g><rect x="288.2" y="470.8" width="38.3" height="41.4" fill="none" stroke="#111" stroke-width="1.4"/><rect x="288.2" y="517.1" width="38.3" height="55.7" fill="none" stroke="#111" stroke-width="1.4"/><text x="340.3" y="494" text-anchor="middle" font-size="8.4">16.2%</text><text x="340.3" y="548.4" text-anchor="middle" font-size="8.4">12.5%</text><path d="M230.2 454.8H353.3V577.8" fill="none" stroke="#222" stroke-width="1.1"/><path d="M230.2 454.8V577.8H353.3" fill="none" stroke="#111" stroke-width="1.2"/><path d="M227.2 577.8H230.2M230.2 577.8V580.8M227.2 556H230.2M253.4 577.8V580.8M227.2 546.37H230.2M263.03 577.8V580.8M227.2 533.63H230.2M275.77 577.8V580.8M227.2 524H230.2M285.4 577.8V580.8M227.2 492H230.2M317.4 577.8V580.8M227.2 460H230.2M349.4 577.8V580.8" stroke="#111" stroke-width="0.9"/><text x="225.4" y="581" text-anchor="end" font-size="9">0.1</text><text x="225.4" y="559.2" text-anchor="end" font-size="9">1</text><text x="225.4" y="549.57" text-anchor="end" font-size="9">2</text><text x="225.4" y="536.83" text-anchor="end" font-size="9">5</text><text x="225.4" y="527.2" text-anchor="end" font-size="9">10</text><text x="225.4" y="495.2" text-anchor="end" font-size="9">100</text><text x="230.2" y="589.3" text-anchor="middle" font-size="9">0.1</text><text x="253.4" y="589.3" text-anchor="middle" font-size="9">1</text><text x="263.03" y="589.3" text-anchor="middle" font-size="9">2</text><text x="275.77" y="589.3" text-anchor="middle" font-size="9">5</text><text x="285.4" y="589.3" text-anchor="middle" font-size="9">10</text><text x="317.4" y="589.3" text-anchor="middle" font-size="9">100</text><text x="235.6" y="466.6" font-size="11.3">C4</text><g clip-path="url(#c11)"><g transform="scale(0.1)" stroke="#111" stroke-width="10" stroke-linejoin="round"><path d="M4708 4787l-25-2-30 3-25 8-20 11-19 16-18 20-14 25-11 30-3 20 1 20 4 25 6 25 7 15 13 20 36 40 8 20 5 30 2 25-5 30-7 13-55 52-10 8-15 6-15 0-50-8-25-1-85 7-20 5-30 11-20 9-40 29-40 22-69 47-21 18-43 42-42 35-45 33-11 12-10 15-7 15-8 25-2 15 1 10 5 15 8 15 10 15 14 14 20 13 20 7 45 5 35-1 35-5 85-26 30-11 15-7 30-20 25-11 30-17 45-30 75-58 10-10 20-25 35-34 10-8 10-3 8 2 5 5 15 35 1 15-6 35-1 30 8 32 12 23 8 9 10 7 10 4 10 1 15-3 15-6 20-17 9-15 6-20 2-20-2-15-5-15-10-20-35-50-8-25 3-35 10-40 4-35 0-20-3-40 5-15 19-28 12-22 6-20 9-40 8-21 12-14 24-20 19-18 14-17 9-15 11-30 4-35-1-25-5-25-8-20-16-25-18-20-15-12-20-10-25-9zM4448 5263l-20-2-65-1-15 2-20 5-30 14-40 34-50 26-30 20-25 23-25 18-26 31-21 15-78 47-19 18-14 25-8 30 0 10 3 15 10 20 13 16 15 12 15 9 15 5 35 3 35 1 30-4 30-12 65-21 30-12 31-22 70-35 50-40 49-32 19-18 36-50 17-45 2-15-2-10-12-25-3-20-5-10-27-16-35-9zM4638 5458l-5 1-7 4-13 20-5 20-2 25 3 15 12 20 12 10 10 1 20-4 15-10 8-12 3-15-3-15-11-20-10-25-12-11-15-4zM4613 5237l-10 0-5 3-10 13-11 25-5 40 3 10 8 15 20 17 10 3 5-3 5-5 15-25 5-12 3-20-2-15-6-17-15-23-10-6zM4708 4797l-20-3-35 3-25 9-20 11-17 16-15 20-16 30-7 25-1 15 3 25 4 25 5 15 11 20 11 15 27 26 10 14 20 70 4 30 6 11 5 4 5 1 5-1 10-8 12-17 6-15 9-40 13-25 10-12 45-41 17-22 12-25 4-20 1-30-3-25-5-20-11-20-15-21-20-19-20-11-25-10zM4393 5277l-45-2-15 3-15 6-13 9-37 35-25 15-30 14-20 14-9 12-5 20-4 5-7 3-15 1-10 4-8 7-12 19-6 6-20 10-34 13-60 34-10 10-9 13-8 20-5 20 0 10 4 15 12 20 21 18 15 8 15 6 25 3 45 2 20-3 35-18 30-10 55-32 60-26 50-32 35-30 57-31 9-10 13-25 17-45 4-25-1-20-9-18-10-13-9-9-30-10-21-11-20-5zM4688 4803l-30 2-15 4-25 12-15 11-14 16-12 20-11 25-4 20 4 45 3 15 6 15 20 30 36 35 7 15 15 43 10 15 10 7 5-1 5-7 9-27 18-30 13-15 48-45 11-15 12-25 5-30-1-25-6-25-8-20-11-16-20-21-15-11-30-14-20-3zM4363 5288l-20-1-10 2-10 5-29 29-31 25-12 15-3 2-20 6-10 6-10 12-15 35-10 10-30 9-12 15-8 6-30 5-40 11-40 21-18 12-9 10-5 10-8 20-3 15 3 20 11 20 9 8 15 10 30 12 15 3 45 1 20-3 25-16 25-9 11-6 11-10 19-25 11-10 48-22 35-8 33-20 22-27 10-8 35-11 25-11 7-8 11-25 10-35 1-25-3-20-11-15-15-13-45-24-30-3zM4698 4812l-25-1-20 3-15 6-30 17-13 16-15 25-5 15-4 20-1 15 4 25 7 25 27 40 30 26 20 34 10 10 5 1 10-6 43-45 42-40 16-25 6-25 1-25-2-15-7-20-13-25-37-35-19-11-15-5z" fill="none"/><path d="M4353 5298l-15 1-10 4-40 40-7 10-1 5 4 10 16 15 7 10 0 5-4 9-10 3-25 3-5-2-15-13-5-2-10-1-10 6-9 12-3 10-2 30-3 5-14 10-9 3-20-1-25 7-30-1-35 8-35 16-25 16-13 17-11 30 1 20 10 20 8 8 10 6 35 15 55 4 15-2 10-5 15-13 25-9 7-4 9-10 9-23 10-12 15-9 25-10 11-11 2-5-3-9-16-11-6-10-1-10 3-6 5 0 5 3 15 17 10 6 20 2 20-2 15-6 17-24 8-8 20-6 40-9 15-7 7-10 16-50 2-25-4-15-7-10-9-7-45-24-10-2-25-2zM4708 4822l-20-4-30 2-15 6-30 17-10 11-14 24-4 10-6 25 0 15 1 15 5 20 5 10 14 15 14 26 24 19 21 21 15 8 10-2 10-6 60-56 17-25 7-25 1-20-1-15-6-15-13-25-7-10-25-25-12-10-11-6z" fill-opacity="0.24" fill-rule="evenodd"/><path d="M4118 5483l-20 1-35 10-28 14-17 15-14 25-5 20 0 15 3 10 11 14 15 8 30 12 55 4 15-7 15-16 25-6 10-8 15-40 18-21 2-5-15-12-9-13-21-12-10-4-40-4zM4288 5447l-5-2-5 1-4 7-2 15 2 10 4 6 10 5 10 0 10-3 10-9 3-9-1-5-7-8-25-8zM4353 5308l-15 1-10 6-26 28-6 10 2 10 16 20 5 10 4 25 3 5 7 4 35 12 25 2 20-3 8-5 5-10 9-35 5-25-2-15-6-10-14-10-35-16-30-4zM4703 4827l-20-2-25 2-40 23-10 11-14 22-8 40 2 15 5 15 6 10 14 15 13 30 37 31 20 7 10-1 10-6 40-35 14-16 10-15 4-10 5-35 0-10-3-10-25-40-27-30-18-11z" fill-opacity="0.24" fill-rule="evenodd"/><path d="M4113 5488l-10 1-40 11-20 9-11 9-15 25-7 20-2 25 4 10 5 5 11 6 30 12 50 4 9-2 6-4 10-16 5-3 20-2 11-5 6-10 8-35-2-10-10-25-8-9-10-6-25-8-15-2zM4358 5318l-15-1-15 9-19 22-2 10 1 5 20 25 9 20 6 5 20 2 12 8 13 5 10 1 10-1 6-5 4-15 1-15-2-20 7-20-2-10-9-8-20-9-35-8zM4377 5383l4 5-3 8-10 7-5-2-3-8 3-7 5-4 9 1zM4698 4832l-15-1-20 3-41 24-14 16-8 14-6 35 1 10 4 10 24 34 13 26 27 26 10 5 10 3 10-2 10-5 30-24 13-13 15-25 8-40-1-10-3-10-25-40-27-29-15-7z" fill-opacity="0.24" fill-rule="evenodd"/><path d="M4118 5493l-15 1-40 11-15 7-9 6-7 10-13 30-5 25 2 10 4 5 13 8 30 11 40 2 10-2 4-4 5-15 6-4 25-1 11-5 6-10 5-25-2-10-8-20-7-10-5-4-25-13-10-3zM4358 5327l-10-1-10 3-11 9-9 10-2 5 2 9 10 11 10 5 5 0 20-7 30 0 10-7 6-11 1-5-2-5-15-9-35-7zM4703 4841l-10-3-15 3-4 2-13 15-8 5-20 4-10 5-10 8-6 8-3 10-3 20 0 10 3 10 29 43 19 17 7 15 8 10 6 4 10 2 10-1 10-6 30-23 10-11 10-20 8-40-3-15-10-16-11-24-23-25-11-7z" fill-opacity="0.24" fill-rule="evenodd"/><path d="M4118 5498l-10-1-20 7-25 6-10 4-10 8-18 36-5 25 3 10 10 7 30 11 10 2 21 0 9-2 4-3 6-13 10-7 30-1 8-4 6-10 3-15-1-10-4-10-12-19-23-16-12-5zM4363 5338l-15-3-7 3-10 10-2 5 1 5 8 4 20-1 20 2 10-2 5-3 3-5-1-5-5-5-27-5zM4708 4853l-10-4-5 1-6 13-19 10-5 5-5 10-5 2-20-7-10 1-5 3-8 11-3 15-1 10 3 10 24 39 10 8 29 3 4 5-7 20 4 10 10 4 5 0 10-4 35-26 9-14 5-20 3-35-12-35-10-18-20-17z" fill-opacity="0.24" fill-rule="evenodd"/><path d="M4118 5502l-10 0-20 7-25 5-15 9-17 30-3 10-3 20 1 5 4 5 33 13 10 2 10-1 12-4 8-10 10-7 15-4 20 0 10-4 6-10 1-10-1-10-5-10-11-14-30-22zM4713 4866l-10-1-10 8-19 10-11 19-5 1-20-10-10-2-10 5-5 12-1 15 2 10 17 30 7 8 10 4 30 0 9 3 6 5 3 5-2 5-11 10-2 5 5 5 7-2 15-11 20-11 8-11 2-10-1-15-4-5-11-5-3-5 2-10 13-15 2-10-1-10-7-16-5-5-10-6z" fill-opacity="0.24" fill-rule="evenodd"/><path d="M4118 5508l-10-1-17 6-23 3-15 8-7 9-15 30-1 15 3 10 9 5 21 7 15 1 7-3 11-10 11-5 21-5 20 0 8-5 3-5 2-10-4-15-9-11-15-8-15-16zM4713 4872l-10 2-20 13-5 5-9 16-6 4-10-3-20-12-8 1-5 5-4 10 1 15 16 30 8 10 12 3 25-1 15 1 10 3 15 9 5-2 3-3 3-5-1-7-5-5-10-5-4-8-1-10 5-13 15-17 2-5 0-10-7-15-10-6z" fill-opacity="0.24" fill-rule="evenodd"/><path d="M4113 5512l-5 0-15 5-25 2-8 4-6 5-19 35-1 15 4 7 10 4 20 3 5-1 16-8 34-8 25-2 5-3 4-12-4-14-10-8-15-4-8-14-7-6zM4713 4878l-10 2-18 13-11 20-6 4-10 1-20-14-5-2-5 0-5 5-3 11 2 10 9 15 6 15 4 5 7 4 10 1 32-5 8-5 5-30 18-20 5-10-3-13-5-5-5-2z" fill-opacity="0.24" fill-rule="evenodd"/><path d="M4108 5518l-35 3-15 7-20 35-1 10 2 5 4 4 10 1 20-7 25 0 50-9 4-4 1-5 0-5-5-8-5-3-15 0-5-3-10-19-5-2zM4718 4886l-5-3-5 1-15 9-8 10-6 15-8 5-8 1-10-1-15-14-5-2-5 2-3 4 0 10 10 15 4 15 4 7 5 3 10 2 20-3 10-4 4-5 2-5 1-20 23-24 3-6 0-5-3-7z" fill-opacity="0.24" fill-rule="evenodd"/><path d="M4083 5523l-15 1-7 4-4 5-15 30-1 5 2 7 5 3 5 0 20-9 30 3 25-7 15-1 5-5 0-6-5-4-15 1-5-3-15-22-25-2zM4678 4928l-30 3-4 2-2 15 4 10 7 4 10 0 15-4 8-5 3-5-1-12-5-7-5-1zM4638 4916l-5-2-2 4 2 6 5 3 3-4-3-7zM4713 4889l-5 0-5 3-10 8-3 8 0 5 3 2 10-4 9-8 3-5 1-5-3-4z" fill-opacity="0.24" fill-rule="evenodd"/><path d="M4103 5528l-25-3-10 1-5 3-6 9-12 25 0 5 3 4 5 0 20-8 30 6 8-2 10-5 3-5-3-5-13-21-5-4zM4673 4932l-15 2-8 4-4 10 2 7 5 4 10 0 10-2 8-4 4-5-1-10-6-5-5-1z" fill-opacity="0.24" fill-rule="evenodd"/><path d="M4093 5528l-20-2-10 5-5 7-7 20-1 5 3 4 20-5 25 5 10-1 7-3 3-5-1-5-9-16-5-5-10-4zM4678 4937l-10-2-11 3-6 5-2 5 1 5 3 3 10 1 14-4 4-5 1-5-4-6z" fill-opacity="0.24" fill-rule="evenodd"/><path d="M4083 5527l-10 0-10 6-5 10-2 15 2 2 20 0 20 6 13-3 4-5-1-5-8-15-8-7-15-4zM4673 4937l-10 1-5 2-6 8 1 5 10 3 11-3 5-5 0-5-6-6z" fill-opacity="0.24" fill-rule="evenodd"/><path d="M4083 5528l-10 0-9 5-5 10-1 10 5 5 15 1 20 5 10-1 5-5-1-5-8-15-6-5-15-5zM4673 4940l-5-2-10 4-4 6 2 5 7 1 10-2 4-4 0-5-4-3z" fill-opacity="0.24" fill-rule="evenodd"/><path d="M4093 5531l-15-3-10 3-7 7-2 15 4 3 20 3 15 5 10-2 3-4-2-10-6-10-10-7zM4673 4941l-5-1-10 3-3 5 3 5 10 0 5-3 2-2 0-5-2-2z" fill-opacity="0.24" fill-rule="evenodd"/><path d="M4093 5531l-15-3-10 3-6 7-3 10 1 5 3 3 20 3 15 4 10-2 3-3-2-10-6-10-10-7zM4673 4941l-5-1-9 3-3 5 2 4 9 1 6-3 2-2 0-5-2-2z" fill-opacity="0.24" fill-rule="evenodd"/></g><ellipse cx="468" cy="492" rx="2.5" ry="1.8" transform="rotate(0 468 492)" fill="#fff" fill-opacity="0.9" stroke="#111" stroke-width="0.7"/><ellipse cx="405.5" cy="556.3" rx="3.5" ry="1.8" transform="rotate(-5 405.5 556.3)" fill="#fff" fill-opacity="0.9" stroke="#111" stroke-width="0.7"/></g><rect x="450.3" y="470.8" width="38.3" height="41.4" fill="none" stroke="#111" stroke-width="1.4"/><rect x="450.3" y="517.1" width="38.3" height="55.7" fill="none" stroke="#111" stroke-width="1.4"/><text x="502.85" y="494" text-anchor="middle" font-size="8.4">40.6%</text><text x="502.85" y="548.4" text-anchor="middle" font-size="8.4">5.7%</text><path d="M392.3 454.8H516.3V577.8" fill="none" stroke="#222" stroke-width="1.1"/><path d="M392.3 454.8V577.8H516.3" fill="none" stroke="#111" stroke-width="1.2"/><path d="M389.3 577.8H392.3M392.3 577.8V580.8M389.3 556H392.3M415.5 577.8V580.8M389.3 546.37H392.3M425.13 577.8V580.8M389.3 533.63H392.3M437.87 577.8V580.8M389.3 524H392.3M447.5 577.8V580.8M389.3 492H392.3M479.5 577.8V580.8M389.3 460H392.3M511.5 577.8V580.8" stroke="#111" stroke-width="0.9"/><text x="387.5" y="581" text-anchor="end" font-size="9">0.1</text><text x="387.5" y="559.2" text-anchor="end" font-size="9">1</text><text x="387.5" y="549.57" text-anchor="end" font-size="9">2</text><text x="387.5" y="536.83" text-anchor="end" font-size="9">5</text><text x="387.5" y="527.2" text-anchor="end" font-size="9">10</text><text x="387.5" y="495.2" text-anchor="end" font-size="9">100</text><text x="392.3" y="589.3" text-anchor="middle" font-size="9">0.1</text><text x="415.5" y="589.3" text-anchor="middle" font-size="9">1</text><text x="425.13" y="589.3" text-anchor="middle" font-size="9">2</text><text x="437.87" y="589.3" text-anchor="middle" font-size="9">5</text><text x="447.5" y="589.3" text-anchor="middle" font-size="9">10</text><text x="479.5" y="589.3" text-anchor="middle" font-size="9">100</text><text x="397.7" y="466.6" font-size="11.3">C5</text><g clip-path="url(#c12)"><g transform="scale(0.1)" stroke="#111" stroke-width="10" stroke-linejoin="round"><path d="M655 7301l21 27 25 20 29 19 40 19 30 8 45 8 50 4 45 0 140-15 45-8 35-2 30-6 70-10 120-11 50-9 30-10 30-15 15-10 11-12 6-10 5-20-5-20-10-15-22-18-25-15-30-11-80-17-40-7-17-7-17-10-11-10-7-10-23-50-11-35-9-17-10-13-15-12-20-10-20-6-25-3-20 1-15 3-15 6-15 10-12 11-21 25-18 30-9 10-11 10-14 9-15 6-25 6-100 13-85 23-40 22-29 21-14 15-17 28M1490 6527l-40 0-10 1-15 8-30 23-13 14-65 85-10 20-6 25 0 15 3 15 15 30 16 19 36 31 8 10 5 10 3 25-8 60 2 60 4 25 10 26 9 29 8 15 13 12 15 7 20 4 15-2 15-10 24-26 11-20 10-35 4-35 1-35-5-60 3-35 9-20 47-60 8-20 6-30-1-20-7-30-18-40-13-25-19-26-15-16-25-16-20-8zM1145 7003l-40-1-15 4-10 6-10 11-14 20-21 46-20 20-20 11-30 9-30 3-30 0-30 5-40 4-60 18-39 19-41 32-22 33-4 15 0 15 3 15 7 15 16 20 27 25 18 13 30 15 35 10 75 10 30 2 50-3 110-15 45-10 40-2 35-10 35-2 30-5 95-3 50-6 35-7 19-7 31-20 18-15 7-10 3-10 0-10-3-10-6-10-10-10-29-21-20-8-40-6-50-13-40-1-15-3-35-9-15-9-12-15-7-15-15-75-9-20-12-14-15-10-20-8-15-3zM1500 6557l-15-3-35 0-15 4-25 13-51 52-29 35-12 20-6 25 0 15 2 10 7 20 9 15 20 21 46 34 11 15 2 10 0 15-10 40-1 15 3 50 6 30 5 20 14 30 9 11 15 7 20-1 15-6 12-11 9-15 9-31 8-54-10-70 5-50 7-10 25-19 32-36 7-15 7-30 0-15-4-25-7-20-13-25-12-16-30-35-15-12-15-8zM1165 7022l-5-3-10 0-15 5-30 1-15 8-14 20-21 50-10 19-10 14-10 7-85 8-35-1-30 6-25-1-15 1-50 16-30 15-45 31-10 10-6 10-6 15-1 15 3 15 7 15 37 45 16 13 20 11 35 10 65 10 40 3 40-3 120-19 35-11 45-1 35-12 40-2 30-7 35 5 25-2 40 2 20-2 55-12 15-4 13-9 35-30 5-15-1-10-6-10-21-20-20-11-15-4-30-3-55-16-90 4-13-5-18-10-14-17-19-38-1-10 5-35-1-15-3-10-6-10-25-26zM1470 6852l-25 14-8 7-11 15-3 10-1 10 13 85 5 11 5 5 5 1 5-1 5-5 5-16 20-1 7-4 6-10 3-15 0-15-6-20 0-30-3-15-7-14-10-10-5-2zM1490 6582l-10-2-15 0-40 11-10 5-35 23-16 14-29 35-8 15-4 20 1 20 8 25 8 15 9 10 31 23 32 17 23 16 30 14 5 0 5-4 17-21 13-12 30-14 20-18 14-16 9-15 7-30-1-20-4-20-8-20-9-15-13-15-30-26-10-6-20-9zM1160 7024l-10 0-5 4-4 5-1 17-5 2-25 4-9 7-30 65-8 30-8 10-5 3-15 2-30-8-30-3-40 4-25-1-40 7-35-3-12 4-23 13-35 12-40 27-9 8-7 10-6 15 0 10 6 20 25 40 11 12 15 11 15 8 20 8 75 13 30 2 20 0 25-3 85-15 40-10 25-12 50 1 30-12 50-4 25-10 10 0 20 8 10 2 25 0 35 5 20-2 66-17 8-5 27-30 4-7 2-8-3-10-21-20-18-8-25-4-45-14-20-4-55 6-40 8-51-9-9-5-4-30-6-10-17-15-3-10 2-10 13-25 3-15-3-15-12-15-1-5 6-10 1-5-1-5-8-9zM1490 6603l-20-1-35 5-25 8-15 8-20 14-30 34-8 12-3 10 0 20 8 35 4 10 8 10 21 16 20 11 60 21 10 0 10-4 35-23 20-7 10-6 13-13 10-15 10-30 0-20-4-20-8-20-8-15-8-8-35-25-20-7z" fill="none"/><path d="M1130 7167l-15-1-20 10-55 13-15-1-35-12-20-3-35 5-30-3-35 9-30 0-27 14-43 12-30 20-10 8-8 10-4 10 0 15 19 45 8 10 15 11 30 16 20 7 60 12 30 2 50-5 75-16 35-11 20-16 5-1 45-2 40-8 30 0 15-2 10-4 15-10 8-3 12 2 30 12 50 10 30 0 45-13 11-6 8-10 9-20 1-10-2-10-5-10-6-5-51-18-35-9-10 1-45 8-15 5-16 8-29 23-10 4-5-3-8-14-6-5-21-5-17-10-7-10-1-5 1-15-3-10-8-8-15-8zM1145 7086l-15 0-5 2-4 5-1 10 5 12 5 2 5-2 13-12 4-10-3-5-4-2zM1155 7027l-5 1-4 5 0 5 4 7 5 1 5-2 4-6 0-5-4-5-5-1zM1470 6622l-20-3-15 0-20 5-15 7-16 12-34 35-5 10-2 10 7 50 5 10 10 10 15 12 20 10 20 6 40 8 10-1 10-4 30-21 20-8 9-7 11-15 11-30 2-10-1-15-8-25-7-15-7-9-10-6-25-10-35-6z" fill-opacity="0.24" fill-rule="evenodd"/><path d="M970 7182l-30 6-30-5-15 2-30 10-20 2-35 12-55 25-18 14-8 15 2 20 12 30 12 13 10 5 20 4 20 16 15 7 55 11 25 0 35-2 40-7 70-20 12-7 13-19 5-4 5-1 20 6 10-2 10-5 10-15 10-9 10-3 20-1 2-2 0-15-4-15-9-10-14-10-35-15-20-6-20-10-10 0-20 7-15-1-15-4-25-13-15-4zM1355 7222l-15-2-10 1-50 15-11 7-15 15-6 10 1 5 2 5 6 5 23 12 60 18 20 2 15-2 20-6 17-9 9-10 5-15-1-15-5-10-35-19-30-7zM1155 7031l-4 2-1 5 5 3 5-3-1-5-4-2zM1445 6628l-20 1-20 9-13 10-36 35-3 5-2 10 4 40 3 10 7 10 15 14 15 9 30 8 35 5 10-1 15-7 20-17 20-11 10-9 6-11 10-25 2-10 0-10-10-30-8-10-5-3-35-8-35-12-15-2z" fill-opacity="0.24" fill-rule="evenodd"/><path d="M980 7193l-15-2-25 5-30-6-10 0-15 5-20 10-25 4-30 8-20 13-40 20-8 8-4 10 0 10 10 30 7 9 10 5 10 0 20-6 5 2 5 20 10 11 15 6 45 9 75-4 25-6 35-13 25-6 10-4 9-8 9-20 4-15-3-15-29-48-10-6-18-6-17-15-10-5zM1340 7228l-20 3-35 19-12 13-1 10 3 5 10 7 10 5 50 16 30 0 15-5 11-8 6-10 1-5-9-25-6-10-8-6-10-4-35-5zM1110 7228l-20-5-5 1-5 4 1 10 7 20-4 25 4 10 5 5 7 3 5 0 6-3 11-15 20-15 7-10-1-10-4-5-34-15zM1460 6637l-10-2-15-1-20 6-15 10-39 38-3 15 3 30 3 10 6 10 9 10 16 11 15 6 15 3 40 1 10-2 10-6 20-18 20-14 11-16 8-20 1-15-4-15-6-12-10-8-25-5-40-16z" fill-opacity="0.24" fill-rule="evenodd"/><path d="M970 7198l-30 5-25-6-15-1-10 3-19 14-6 3-30 0-20 6-20 15-31 16-14 10-3 5-1 10 8 25 6 8 10 2 28-10 14 0 3 5-3 15-1 10 6 10 13 6 45 9 75-3 30-9 30-17 20-2 10-2 5-4 5-7 4-16-1-10-12-35-16-20-20-6-5-4-15-19-5-4-10-2zM1360 7237l-25-2-15 4-25 20-6 9 1 5 3 5 7 4 45 15 20 2 15-2 7-4 4-5 1-5-5-15-2-15-2-5-5-5-18-6zM1120 7248l-5-2-6 2 4 10 2 3 5 2 7-5 0-5-7-5zM1460 6642l-10-2-15 0-20 6-15 12-34 35-1 15 3 30 15 20 17 12 15 6 15 1 45-5 10-6 15-15 20-12 6-6 6-10 6-20 1-10-3-10-6-11-10-6-25-8-35-16z" fill-opacity="0.24" fill-rule="evenodd"/><path d="M915 7202l-10-1-10 2-8 5-12 13-5 3-10 0-25-2-15 4-20 19-20 8-21 15-3 10 4 15 5 7 5 2 40-12 10-1 5 3 2 6-2 10-7 20 3 10 14 7 25 1 25 6 55 0 15-2 17-7 17-10 21-22 5-1 15 4 5 0 5-4 3-12-6-15-3-20-4-8-10-11-20-6-5-3-8-17-7-10-10-4-30 4-25-6zM1355 7243l-15-2-15 3-11 9-6 10-2 5 2 5 11 5 31 9 20 1 5-5-1-30-4-5-15-5zM1460 6646l-10-2-15 1-20 7-13 11-12 15-15 15-3 5-1 25 4 15 17 20 16 10 12 4 10 0 40-6 10-5 15-16 23-12 8-10 6-25-1-10-6-9-65-33z" fill-opacity="0.24" fill-rule="evenodd"/><path d="M920 7208l-10-2-12 2-6 5-12 15-10 4-30-5-15 3-9 8-11 22-5 2-15 0-8 6-3 5 1 9 5 4 10 0 15-9 5-1 21 7 3 5 1 10-10 30 1 5 9 6 10 0 20-6 17 10 13 3 45 2 10-1 12-4 18-11 10-10 15-27 12-12 4-10 0-10-7-10-24-7-3-3-5-20-7-10-10-3-25 3-20-5zM1345 7248l-10 0-9 5-5 10 3 5 11 5 10 1 10-2 5-4 3-10-3-5-15-5zM1450 6648l-20 2-20 10-30 37-3 6 0 20 3 11 20 23 15 9 15 1 40-7 10-7 10-12 25-11 8-12 1-20-4-10-45-32-15-7-10-1z" fill-opacity="0.24" fill-rule="evenodd"/><path d="M925 7213l-15-2-8 2-6 5-11 15-10 6-10-1-25-7-10 2-7 5-5 10-1 15 8 9 13 6 3 5-1 15-7 25 2 7 5 1 5-1 20-6 10 3 20 11 40 6 10 0 17-6 18-13 6-7 14-30 11-15 0-10-6-6-20-3-5-3-2-8-1-15-2-5-5-5-5-2-20 1-20-4zM1460 6652l-10-2-10 1-15 4-10 6-12 12-19 30-2 15 3 11 18 24 12 8 15 2 35-6 10-6 11-13 24-10 8-10 0-15-7-10-31-30-20-11z" fill-opacity="0.24" fill-rule="evenodd"/><path d="M930 7217l-15-2-10 3-15 20-15 9-10-1-15-8-10-2-10 2-5 5-3 10 3 10 5 4 15 4 2 2-5 40 3 7 25-1 20 9 20 3 16 7 14 3 15-3 26-20 6-10 6-20 9-20-4-5-18-1-6-4-2-5 0-20-1-5-4-5-37-6zM1450 6653l-10 1-15 5-14 9-8 10-14 30-1 10 4 10 18 25 10 6 10 0 35-6 7-5 13-14 20-8 5-3 4-5 0-5-3-10-25-30-10-10-11-7-15-3z" fill-opacity="0.24" fill-rule="evenodd"/><path d="M940 7222l-20-3-10 2-20 24-30 15-12 33-1 10 3 9 20 4 20 7 20 1 20 11 10 3 15-4 21-16 9-15 4-25-1-5-13-5-6-5-3-10 1-20-3-5-9-3-15-3zM845 7241l-5-1-9 3-3 10 2 6 10 3 13-4 2-5-1-5-9-7zM1460 6656l-15-1-25 9-10 9-13 25-4 15 3 10 16 25 8 6 10 1 35-6 20-19 19-7 5-5 1-5-2-5-25-35-10-10-13-7z" fill-opacity="0.24" fill-rule="evenodd"/><path d="M930 7223l-10-1-10 4-15 20-30 19-6 8-7 15-2 15 3 5 37 12 25 0 15 11 10 4 10-2 5-2 22-18 7-15-1-15-3-5-14-10-3-5-1-10 1-15-1-5-7-5-25-5zM840 7246l-5 2 0 6 5 1 4-2 0-5-4-2zM1460 6658l-15-1-25 9-10 10-7 17-5 15 1 10 20 30 6 3 37-3 7-5 14-15 21-10 1-5-2-5-19-30-9-11-15-9z" fill-opacity="0.24" fill-rule="evenodd"/><path d="M940 7227l-15-3-10 2-19 22-30 20-7 10-5 10-1 10 2 7 5 3 30 9 25 0 16 11 9 4 10-1 20-14 10-14 1-15-3-5-13-10-5-7-2-8 1-20-2-5-17-6zM1450 6658l-20 5-15 9-7 11-6 20-1 10 4 10 15 20 9 5 31-1 6-4 14-16 18-9 3-5-1-5-18-30-8-10-14-9-10-1z" fill-opacity="0.24" fill-rule="evenodd"/><path d="M935 7227l-10-1-10 3-15 19-31 20-8 10-5 10-1 10 2 5 33 13 25-1 25 15 12-2 20-15 6-10 1-10-1-5-20-20-3-10 2-15-2-7-5-4-15-5zM1465 6662l-15-3-15 4-15 7-10 13-6 20-1 10 5 10 17 20 5 2 20 2 10-2 5-3 15-17 13-7 4-5 0-5-17-30-7-10-8-6z" fill-opacity="0.24" fill-rule="evenodd"/><path d="M930 7227l-10 1-5 3-13 17-27 17-9 8-9 15-1 10 3 5 31 11 26-1 24 15 10-1 20-14 7-10 1-10-3-6-15-13-4-6-2-10 0-20-6-5-18-6zM1460 6661l-15-1-20 8-10 8-6 12-4 15 0 10 5 9 15 17 6 4 19 3 10-2 5-3 15-17 15-11-3-10-16-30-6-6-10-6z" fill-opacity="0.24" fill-rule="evenodd"/><path d="M945 7233l-20-5-10 4-12 16-28 18-10 9-5 8-3 10 3 9 30 11 20-1 9 1 21 14 10-1 15-10 10-12 1-11-2-5-14-12-5-7-2-11 0-15-1-5-7-5zM1460 6661l-15 0-20 7-10 9-5 11-5 20 3 10 18 20 9 5 15 2 10-2 5-3 15-17 13-10-2-10-12-25-8-10-11-7z" fill-opacity="0.24" fill-rule="evenodd"/><path d="M940 7231l-10-2-10 1-5 3-15 18-30 20-6 7-5 10-1 5 2 8 5 3 25 9 20-2 10 2 20 14 10-1 18-13 7-10 1-10-3-5-13-11-5-7-3-12 0-15-1-5-11-7zM1460 6662l-15-1-20 8-10 9-5 10-3 15 0 10 3 6 15 16 10 7 15 2 10-1 32-30-2-10-12-25-8-10-10-6z" fill-opacity="0.24" fill-rule="evenodd"/><path d="M940 7232l-10-3-10 1-5 3-15 18-30 20-6 7-5 10-1 5 2 7 5 4 25 9 20-2 10 2 20 13 10-1 17-12 8-10 1-10-3-5-13-11-5-6-3-13 0-15-2-5-10-6zM1460 6662l-15-1-20 8-10 9-4 10-4 15 0 10 3 6 15 16 10 7 15 2 10-2 31-29-1-10-12-25-8-10-10-6z" fill-opacity="0.24" fill-rule="evenodd"/></g><ellipse cx="145.5" cy="671" rx="4.5" ry="2.2" transform="rotate(0 145.5 671)" fill="#fff" fill-opacity="0.9" stroke="#111" stroke-width="0.7"/><ellipse cx="90.5" cy="727.3" rx="2.8" ry="1.8" transform="rotate(0 90.5 727.3)" fill="#fff" fill-opacity="0.9" stroke="#111" stroke-width="0.7"/><ellipse cx="135.5" cy="727.3" rx="2.8" ry="1.3" transform="rotate(0 135.5 727.3)" fill="#fff" fill-opacity="0.9" stroke="#111" stroke-width="0.7"/></g><rect x="124.7" y="644" width="37.8" height="42.1" fill="none" stroke="#111" stroke-width="1.4"/><rect x="124.7" y="690.3" width="37.8" height="55.3" fill="none" stroke="#111" stroke-width="1.4"/><text x="177.35" y="667.8" text-anchor="middle" font-size="8.4">20.1%</text><text x="177.35" y="722.8" text-anchor="middle" font-size="8.4">7.09%</text><path d="M66.5 628.5H190.6V750.8" fill="none" stroke="#222" stroke-width="1.1"/><path d="M66.5 628.5V750.8H190.6" fill="none" stroke="#111" stroke-width="1.2"/><path d="M63.5 750.8H66.5M66.5 750.8V753.8M63.5 728.3H66.5M90 750.8V753.8M63.5 718.67H66.5M99.72 750.8V753.8M63.5 705.93H66.5M112.58 750.8V753.8M63.5 696.3H66.5M122.3 750.8V753.8M63.5 664.3H66.5M154.6 750.8V753.8M63.5 632.3H66.5M186.9 750.8V753.8" stroke="#111" stroke-width="0.9"/><text x="61.7" y="754" text-anchor="end" font-size="9">0.1</text><text x="61.7" y="731.5" text-anchor="end" font-size="9">1</text><text x="61.7" y="721.87" text-anchor="end" font-size="9">2</text><text x="61.7" y="709.13" text-anchor="end" font-size="9">5</text><text x="61.7" y="699.5" text-anchor="end" font-size="9">10</text><text x="61.7" y="667.5" text-anchor="end" font-size="9">100</text><text x="66.5" y="762.3" text-anchor="middle" font-size="9">0.1</text><text x="90" y="762.3" text-anchor="middle" font-size="9">1</text><text x="99.72" y="762.3" text-anchor="middle" font-size="9">2</text><text x="112.58" y="762.3" text-anchor="middle" font-size="9">5</text><text x="122.3" y="762.3" text-anchor="middle" font-size="9">10</text><text x="154.6" y="762.3" text-anchor="middle" font-size="9">100</text><text x="71.9" y="640.3" font-size="11.3">U</text><g clip-path="url(#c13)"><g transform="scale(0.1)" stroke="#111" stroke-width="10" stroke-linejoin="round"><path d="M2950 6582l-25-2-30 1-25 5-50 12-25 12-35 22-15 13-14 18-11 20-3 20 2 25 8 25 14 20 68 65 12 15 2 10-3 10-15 25-9 25-30 70-6 35-1 65-5 20-8 10-16 10-25 9-60 3-110-3-30 2-30 7-30 10-25 10-20 13-21 19-19 25-9 25-2 25 4 25 14 25 19 25 29 23 25 14 30 10 30 8 25 1 60-5 50-13 40-14 20-4 25-3 80-1 65-8 20-6 35-14 34-23 25-25 21-30 17-20 38-75 15-50 5-30 8-25 2-15-3-25-3-10-14-22-3-28-6-20-14-30-22-26-5-15 0-14 6-10 61-55 23-28 11-17 6-15 2-25-6-25-10-20-16-20-17-14-30-18-35-17-20-6-40-6zM2940 6593l-30-2-20 2-55 12-20 7-40 23-15 11-14 17-12 25-3 20 2 20 7 20 10 15 25 25 15 13 50 29 31 13 12 10 12 15 0 5-2 5-18 20-6 20-5 10-17 15-12 16-20 14-5 8-10 32 3 35-4 50-7 20-8 15-9 9-10 4-60 13-65-1-40-4-70-2-30 2-25 6-60 25-21 18-20 30-11 25-1 20 5 25 20 35 13 14 25 19 25 13 50 15 15 1 60-3 45-12 50-19 15-4 35-4 75 1 70-9 15-5 35-18 17-14 19-20 8-15 33-75 10-35 28-50 8-40 9-35-2-10-10-20-6-30-15-30-34-36-25-14-5-5-15-20-2-5 1-5 53-35 28-10 15-8 40-29 12-13 23-30 6-15 1-15-3-20-10-20-14-20-15-14-30-19-35-16-15-5-50-6zM2905 6971l-10-3-10 3-5 4-5 8-2 10 0 10 9 25-2 6-15 9-3 5-3 15-14 35 1 10 4 10-2 5-29 25-15 10-14 5-35 8-50 4-40-4-25 1-30-7-20-3-85 0-25 6-25 12-30 10-10 7-12 11-7 10-16 30-5 15 0 15 4 15 17 40 14 15 25 19 30 13 35 10 35-2 30 2 20-3 30-9 60-27 50-5 70 3 55-6 25-7 28-18 27-27 10-13 4-15 9-65-1-10-3-10-14-14-21-11-3-5 2-10 11-25 11-9 10 0 30 13 5-2 1-7-2-20-6-15-8-7-15 1-5-1-3-3 0-5 6-5 17-5 10-7 10-13 4-15-6-15-13-11-15-7-10 0-10 3-15 8-5 0-3-3-7-17zM2935 6603l-40-1-60 14-15 6-35 19-11 7-10 10-7 10-5 15-4 35 1 15 3 10 6 10 32 34 10 6 50 21 40 12 20 4 30 0 15-4 25-11 30-7 15-7 35-23 27-30 12-20 1-10-1-15-11-25-18-24-40-28-30-15-15-3-50-5zM2860 7167l-20 1-35 11-95 16-45-9-30-1-30-11-15-4-35 2-40-2-25 4-30 17-35 10-10 7-8 10-14 30-4 15 1 15 12 45 9 15 34 24 35 14 25 6 25-3 30 4 20-2 40-15 26-13 19-14 10-3 25 0 55-6 30 8 10 1 45-4 20-4 25-15 20-18 18-20 4-10 1-10-3-43-5-13-40-27-20-8zM2935 6613l-40-2-55 13-15 6-30 16-17 12-8 10-4 10-3 55 5 15 22 25 20 12 35 12 30 12 25 6 25 2 20-2 30-13 30-7 35-16 20-16 24-30 4-15 0-10-5-15-16-25-17-16-30-22-15-8-15-5-30 0-25-4z" fill="none"/><path d="M2860 7182l-10 0-25 9-45 3-60 17-10 1-20-4-25-8-30-3-45-18-40 2-35-2-20 4-30 19-35 7-10 8-8 11-8 20-3 15 2 15 8 20 1 25 7 10 6 5 30 19 30 13 20 4 30-3 30 6 20-5 45-21 12-8 16-20 7-5 30 3 25-4 40-3 10 2 20 10 10 2 25-1 25-4 15-7 24-18 18-20 6-15-1-10-4-10-23-40-12-15-13-6zM2940 6623l-30-4-25 2-55 16-30 15-14 11-7 10-4 10 0 45 4 15 15 20 21 14 35 10 25 13 20 4 30 2 25-4 45-17 15-9 25-6 15-10 21-27 5-15-1-10-4-10-16-24-10-11-15-10-15-16-15-10-15-3-25 3-20-4z" fill-opacity="0.24" fill-rule="evenodd"/><path d="M2590 7188l-15-2-65 4-10 3-25 17-35 7-10 5-14 21-4 10-1 10 4 15 11 20-2 20 4 10 32 22 30 15 15 2 35-3 20 5 10 1 15-6 16-11 29-11 9-9 11-20 5-5 5-2 25-2 25-9 10-1 20 7 33 2 22 12 10 3 15 1 15-2 15-4 15-10 15-15 13-20 0-15-9-25-14-21-10-7-5 0-15 13-5 0-25-10-20 0-10 2-25 10-30 9-15 1-25-3-25-12-25-2-45-20zM2925 6628l-20-2-15 2-50 13-30 14-18 13-6 10-3 10 3 40 6 15 17 20 16 10 26 5 29 15 45 3 16-3 39-14 8-6 7-12 5-3 30 3 10-4 9-9 9-15 3-10-4-20-11-20-21-18-20-27-15-7-30 5-35-8z" fill-opacity="0.24" fill-rule="evenodd"/><path d="M2590 7196l-15-2-40 2-15 3-15 5-27 14-33 8-10 6-11 16-4 15 3 10 14 20-1 25 5 10 34 23 20 9 15 1 30-3 30 5 11-5 14-17 5-2 20-1 10-6 8-9 10-20 12-8 20-4 30-9 10-1 25 9 30 2 25 14 10 4 20 0 15-4 10-8 18-25 4-10 1-10-1-10-5-10-7-5-25 7-20 1-5 4-9 13-6 3-8-3-3-5 1-10 7-15-7-4-10 1-20 12-20 1-20 5-25 1-20 7-5-1-9-17-6-4-25-5-20-14-20-9zM2990 6638l-30 4-30-7-35-1-60 16-15 6-18 12-10 15-2 20 7 30 14 20 14 12 30 7 20 12 15 3 30-2 45-11 9-6 13-15 8-5 10-1 20 5 10-3 7-6 5-10 1-10-3-15-9-15-16-18-14-27-6-6-10-4z" fill-opacity="0.24" fill-rule="evenodd"/><path d="M2580 7202l-40 1-15 3-20 6-60 26-8 10-4 15 14 25-2 25 3 10 5 5 28 20 14 6 15 2 35-3 20 2 10-3 12-14 8-6 25-1 10-7 15-30 12-11 2-5 0-5-18-20-10-15-21-21-13-9-17-6zM2860 7245l-10-1-20 5-20 17-31 7 2 5 13 15 11 7 15 3 15-2 10-8 20-30 1-10-2-5-4-3zM2740 7248l-30 6-7 4-1 5 3 2 20 4 20 9 10 0 12-5 2-5-9-10-10-7-10-3zM2940 6642l-25-3-20 2-65 17-19 10-10 10-4 15 5 30 8 15 13 15 7 5 25 6 20 12 15 4 30-4 35-10 35-24 10-4 25 4 8-4 4-10-2-10-5-7-17-13-5-30-8-18-10-6-30 3-20-5z" fill-opacity="0.24" fill-rule="evenodd"/><path d="M2585 7213l-10-2-35 0-25 4-20 7-30 14-11 7-4 5-2 10 10 30-5 25 5 10 32 23 10 4 15 2 30-4 20 1 10-5 10-12 10-6 20-1 10-4 6-8 11-30 0-10-22-33-20-19-15-8zM2825 7276l-15 2-6 5 1 5 10 6 10-2 4-4 1-5-2-5-3-2zM2845 7257l-6 1-4 4 0 6 5 0 8-5 0-5-3-1zM2940 6647l-15-2-25 0-80 23-11 10-5 15 2 20 6 15 19 20 24 9 20 13 10 3 10 1 40-7 20-8 32-21 11-10 3-5 0-5-8-25 8-25-3-10-8-8-25 2-25-5z" fill-opacity="0.24" fill-rule="evenodd"/><path d="M2560 7223l-30-5-20 2-38 18-13 10-2 5 0 10 9 20 2 10-5 15 2 10 31 25 9 4 10 1 50-4 5-3 20-18 10-3 20-2 8-10 5-15 1-15-6-15-8-12-10-10-10-6-25-10-15-2zM2583 7238l2 5-2 10-8 11-7 4-8 1-11-6-4-10 5-9 5-4 10-4 10-2 5 1 3 3zM2950 6653l-20-3-30 1-35 12-15 9-15-1-10 1-8 6-6 10-1 15 5 15 5 8 10 9 50 31 15 2 40-6 10-3 40-26 4-5 3-10-8-30 9-20 0-5-3-5-5-2-20 0-15-3z" fill-opacity="0.24" fill-rule="evenodd"/><path d="M2520 7223l-20 4-25 14-9 7-4 10 5 15 13 20-3 20 21 25 7 4 10 2 50-5 25-20 10-4 15-1 8-6 5-15-1-15-9-20-8-9-10-4-5 3-11 15-9 8-10 4-10-1-10-6-6-10 3-25-7-7-15-3zM2955 6657l-20-3-30 2-31 12-5 5-6 15 1 5 8 10 2 5-1 5-3 5-10 7-5 0-2-7 1-25-14-12-10-2-5 1-5 4-4 9 1 10 3 10 10 11 10 4 10 1 13 19 12 10 10 4 15 1 40-6 20-15 19-9 5-5 3-10-2-10-9-20 7-20-2-5-26-6z" fill-opacity="0.24" fill-rule="evenodd"/><path d="M2525 7227l-10-1-15 4-25 16-6 7-2 5 2 10 6 9 23 21 2 5-4 15 1 5 5 10 3 3 5 3 10 2 40-4 10-4 20-18 10-4 15-2 5-5 3-11 0-10-5-15-8-11-5-3-5 0-20 20-10 5-10 1-10-2-10-8-5-7-2-10 2-15-2-5-8-6zM2945 6658l-10 0-33 5-10 5-13 10-3 10 8 20-5 10-11 15-1 5 4 10 6 5 8 4 10 2 40-4 10-5 10-10 17-7 7-5 3-5 0-10-13-25 4-15 0-5-9-5-19-5zM2933 6708l1 5-4 8-5 1-5-3-1-6 1-5 5-3 5 0 3 3zM2830 6688l-6 5-1 5 2 10 5 6 5 3 5-1 4-8 0-10-4-6-10-4z" fill-opacity="0.24" fill-rule="evenodd"/><path d="M2525 7232l-10-3-15 4-23 15-6 10 2 10 3 5 27 20 9 10 0 5-7 15 1 5 3 5 11 4 40-3 10-4 20-19 25-9 3-4 0-10-4-15-7-10-7-1-20 17-9 4-16 0-10-3-8-7-5-10-2-25-5-6zM2950 6662l-10-1-11 2-26 10-12 10-2 5 5 15 0 5-16 20-4 10 1 5 5 6 7 4 8 2 35-3 10-3 15-14 20-8 3-4 1-10-16-25 4-15-2-5-15-6zM2939 6698l2 10-3 15-8 6-11-1-6-5-4-10-1-5 2-5 5-5 10-4 10 1 4 3z" fill-opacity="0.24" fill-rule="evenodd"/><path d="M2520 7233l-10-1-10 4-19 12-6 10 1 10 4 5 39 25 3 5-11 20 1 5 3 4 10 3 35-3 10-5 20-20 20-9 3-5 0-5-3-10-5-8-5-1-17 14-8 3-25 0-10-4-5-6-6-13-3-25-6-5zM2955 6666l-10-3-10 2-6 3-8 10 1 5 27 10-3 15-2 20-6 5-18 2-5-3-10-11-5-3-5 0-10 9-4 6-1 6 5 8 5 3 10 1 33-3 7-5 5-10 20-4 10-6 1-5-2-10-9-9-10-6 7-20-7-7z" fill-opacity="0.24" fill-rule="evenodd"/><path d="M2520 7236l-5-2-10 1-20 13-7 10 1 10 6 6 25 15 20 8 0 6-2 5-11 15 1 5 2 2 10 2 20-1 15-3 11-10 14-17 12-8 3-5-1-5-4-4-15 9-5 1-40-1-5-4-7-16-3-10-1-15-4-7zM2900 6725l-5-1-5 3-4 6-1 5 3 5 12 4 15-4-1-5-14-13zM2965 6703l-10-2-5 6-2 6 1 10 6 4 10-1 5-2 4-6-3-10-6-5zM2950 6667l-14 1-4 5-1 5 9 6 10 0 5-5 2-6-7-6z" fill-opacity="0.24" fill-rule="evenodd"/><path d="M2575 7293l-25-2-10 3-18 29 3 5 25 2 15-4 9-8 11-15 0-7-10-3zM2515 7236l-10 1-17 11-8 10 0 5 7 10 18 11 10 5 10 0 5-4 0-7-6-20-2-15-3-5-4-2zM2900 6730l-5 0-4 3-1 5 5 5 8 0 4-5-7-8zM2965 6706l-5-2-5 1-2 3-2 10 4 6 10 0 5-4 1-7-6-7zM2950 6671l-5-1-5 1-2 2 1 5 6 1 5-1 2-5-2-2z" fill-opacity="0.24" fill-rule="evenodd"/><path d="M2565 7293l-10 0-10 2-5 4-13 24 8 5 15 1 10-2 8-4 9-10 5-10-2-6-15-4zM2515 7237l-10 2-15 9-8 10-1 5 4 6 10 8 15 8 10 2 5-1 2-3 1-5-6-20-1-15-6-6zM2965 6708l-5-2-5 3-2 4 2 7 5 3 5-1 4-4 0-5-4-5z" fill-opacity="0.24" fill-rule="evenodd"/><path d="M2575 7296l-15-2-15 3-5 6-9 20 9 4 10 1 15-4 7-6 7-10 1-6-5-6zM2515 7239l-10 1-14 8-6 6-2 9 2 5 14 10 11 6 10 2 5-3 2-5-8-35-4-4zM2965 6710l-5-2-5 5 1 5 4 3 5-1 2-2 0-5-2-3z" fill-opacity="0.24" fill-rule="evenodd"/><path d="M2575 7297l-15-3-10 1-5 3-12 20 0 5 17 4 15-3 6-6 7-10 1-5-4-6zM2515 7240l-10 0-13 8-7 8-2 7 3 5 14 10 10 6 10 1 4-2 2-5-6-30-2-5-3-3zM2965 6712l-5-2-3 3 1 5 2 2 5-1 0-7z" fill-opacity="0.24" fill-rule="evenodd"/><path d="M2575 7298l-15-4-10 1-5 3-11 20 0 5 16 4 15-4 6-5 7-10 1-5-4-5zM2515 7240l-10 0-12 8-8 8-1 7 2 5 14 10 10 5 10 2 5-5 0-7-6-25-4-8zM2965 6712l-5-1-3 2 1 5 7 0 0-6z" fill-opacity="0.24" fill-rule="evenodd"/></g><ellipse cx="292" cy="671" rx="6.5" ry="1.3" transform="rotate(0 292 671)" fill="#fff" fill-opacity="0.9" stroke="#111" stroke-width="0.7"/><ellipse cx="250.5" cy="728.5" rx="2.8" ry="2.2" transform="rotate(0 250.5 728.5)" fill="#fff" fill-opacity="0.9" stroke="#111" stroke-width="0.7"/></g><rect x="272.5" y="644" width="38" height="42.1" fill="none" stroke="#111" stroke-width="1.4"/><rect x="272.5" y="690.3" width="38" height="55.3" fill="none" stroke="#111" stroke-width="1.4"/><text x="331.8" y="667.8" text-anchor="middle" font-size="8.4">20.3%</text><text x="331.8" y="722.8" text-anchor="middle" font-size="8.4">8.58%</text><path d="M229 628.5H351.5V750.8" fill="none" stroke="#222" stroke-width="1.1"/><path d="M229 628.5V750.8H351.5" fill="none" stroke="#111" stroke-width="1.2"/><path d="M226 750.8H229M229 750.8V753.8M226 728.3H229M252.5 750.8V753.8M226 718.67H229M262.22 750.8V753.8M226 705.93H229M275.08 750.8V753.8M226 696.3H229M284.8 750.8V753.8M226 664.3H229M317.1 750.8V753.8M226 632.3H229M349.4 750.8V753.8" stroke="#111" stroke-width="0.9"/><text x="224.2" y="754" text-anchor="end" font-size="9">0.1</text><text x="224.2" y="731.5" text-anchor="end" font-size="9">1</text><text x="224.2" y="721.87" text-anchor="end" font-size="9">2</text><text x="224.2" y="709.13" text-anchor="end" font-size="9">5</text><text x="224.2" y="699.5" text-anchor="end" font-size="9">10</text><text x="224.2" y="667.5" text-anchor="end" font-size="9">100</text><text x="229" y="762.3" text-anchor="middle" font-size="9">0.1</text><text x="252.5" y="762.3" text-anchor="middle" font-size="9">1</text><text x="262.22" y="762.3" text-anchor="middle" font-size="9">2</text><text x="275.08" y="762.3" text-anchor="middle" font-size="9">5</text><text x="284.8" y="762.3" text-anchor="middle" font-size="9">10</text><text x="317.1" y="762.3" text-anchor="middle" font-size="9">100</text><text x="234.4" y="640.3" font-size="11.3">U</text><g clip-path="url(#c14)"><g transform="scale(0.1)" stroke="#111" stroke-width="10" stroke-linejoin="round"><path d="M1520 8010l-35-3-40 4-35 11-35 16-30 21-16 16-26 40-10 25-4 20 1 20 4 25 7 20 11 15 18 17 52 43 8 10 3 10 0 15-9 35-2 20-1 65 3 40-1 30-3 13-5 8-15 10-20 6-15-1-10-6-10-10-6-10-23-60-16-25-15-15-10-6-15-6-20-2-40 2-15 4-15 8-30 24-35 43-15 11-15 7-20 4-135 4-35 5-35 9-45 19-40 23-28 26-21 35-6 15-4 20-2 15 1 15 9 30 15 25 11 14 18 16 17 12 30 16 25 10 30 9 30 5 70 3 20-2 30-5 60-17 110-50 40-14 75-37 15-4 15 0 15 6 15 9 30 24 15 8 30 11 25 6 25 1 30-6 25-10 20-15 18-20 11-20 6-20 2-25-2-15-5-15-40-60-6-20 1-15 11-35 4-20 4-60-5-55-10-50-1-15 3-10 8-10 56-44 20-18 15-18 12-20 7-15 5-20 2-25-3-25-6-20-8-15-15-20-14-13-20-13-20-8-25-6zM1515 8019l-25-1-40 3-40 11-30 15-30 22-15 16-25 40-8 25-1 20 5 30 4 15 5 10 19 20 21 17 50 29 8 9 5 10 1 10-1 15-16 40-3 20 4 85 5 35 9 30-3 10-22 15-42 19-25 5-15-3-15-13-15-22-15-36-7-35-8-14-15-18-10-8-15-5-55 2-16 8-23 20-8 10-14 25-9 9-19 11-21 8-25 5-125-1-45 6-20 4-20 7-40 19-35 20-20 17-12 15-16 35-7 25 1 20 8 30 10 20 12 15 19 18 20 14 25 13 35 12 20 6 25 5 65 2 50-8 60-18 70-35 35-23 30-6 15-7 36-23 34-25 10-5 10-3 15 1 10 5 50 52 10 8 15 7 35 12 25 4 25-3 30-10 20-15 18-18 11-20 5-20 1-30-5-15-9-15-49-55-10-15 1-10 12-30 16-30 5-20 2-20-1-30-9-60-7-20-14-25-2-10 5-9 7-6 63-37 43-38 14-20 10-20 5-20 1-20-1-20-6-25-7-15-11-15-16-15-17-11-20-8-25-7zM1205 8464l-10-2-30 3-15 5-15 12-7 8-4 10-4 20-6 10-14 10-15 6-10 2-75 4-45-4-65 0-45 6-20 5-49 26-36 24-19 16-10 15-10 25-6 20-1 10 18 55 17 20 26 22 20 10 40 16 20 6 25 5 60 1 50-9 55-17 65-36 40-28 30-8 10-4 25-23 30-20 18-20 5-10 9-40-2-9-5-11 2-40-11-55-6-9-16-11-14-16zM1445 8585l-25-2-15 2-50 25-17 15-16 25-2 10 2 20 4 15 31 45 8 6 10 5 35 11 15 3 15 0 15-3 15-5 15-8 20-16 12-13 5-10 4-15 1-40-3-10-7-10-22-23-20-17-15-8-15-2zM1465 8389l-10-2-15 3-10 6-4 9-1 25 2 20 8 19 5 6 5 2 30-12 6-5 4-10 2-20-4-20-8-14-10-7zM1510 8029l-20-1-30 2-35 7-15 5-20 10-25 18-15 13-13 17-22 40-3 15 0 15 5 30 5 15 16 20 17 14 25 13 30 9 25 14 10 3 45-20 28-18 27-11 25-19 14-15 16-30 5-20 0-30-2-25-5-15-13-18-20-19-20-10-35-9zM1175 8528l-10-2-10 2-5 3-11 14-9 7-50 16-50-4-35 0-35-5-30 1-30-3-55 7-25 8-36 23-24 19-25 15-12 16-12 30-3 15 2 10 16 45 6 10 13 15 20 16 30 11 30 14 35 8 20 2 40-2 40-6 15-4 25-11 30-10 50-28 40-30 33-15 7-6 15-24 10-7 25-11 10-11 2-11-2-10-18-25-10-30 0-10 3-15-1-10-8-10-11-7zM1450 8600l-30-2-20 6-40 23-10 11-11 17-3 15 4 10 12 15 15 35 13 10 40 13 15 1 15-2 15-4 10-6 25-18 12-14 2-10 2-40-4-15-12-15-20-18-15-9-15-3zM1505 8039l-15-2-25 1-50 10-30 19-30 26-10 11-19 31-3 10-2 15 2 15 10 35 9 15 13 13 25 13 39 9 21 8 10 0 35-10 25-19 30-9 20-14 11-11 20-35 4-15 0-25-3-30-3-10-15-20-19-16-15-6-35-9z" fill="none"/><path d="M965 8570l-15-1-25 1-30-3-40 4-15 4-21 10-49 40-20 7-10 6-6 7-7 15-6 20 0 15 16 45 16 25 17 13 10 3 25 4 20 15 20 7 35 5 45-4 50-10 30-16 30-9 31-18 50-40 6-10 3-20 12-25 0-10-4-20 4-25-4-10-13-9-10-4-40 4-50-9-25 0-30-7zM1460 8614l-25-4-20 3-40 24-10 8-8 10-4 10 2 5 10 17 8 23 10 15 12 10 30 8 25 0 19-8 26-19 5-6 2-10-2-20 4-20-2-10-6-10-11-11-15-11-10-4zM1505 8050l-15-3-25 0-45 8-25 15-45 40-10 15-8 15-2 20 2 10 10 20 6 25 12 16 15 9 20 7 50 7 10 0 25-6 25-17 30-10 20-16 25-36 6-14 1-20-7-35-11-20-14-14-15-8-35-8z" fill-opacity="0.24" fill-rule="evenodd"/><path d="M965 8579l-15-1-30 2-35-4-20 1-15 3-25 13-45 37-35 15-8 10-4 10-3 15 1 15 5 20 6 15 23 33 5 4 10 4 20-1 10 2 6 3 19 17 20 7 30 4 35-4 25-7 30-5 30-19 25-5 10-4 13-9 17-23 20-10 9-7 5-10 3-20 8-15 2-10-4-40-4-10-9-5-30 5-17-5-18-2-10 1-15 4-5-1-25-17-15-6zM1455 8624l-15-3-15 2-40 24-11 13-1 10 8 30 13 20 11 9 25 6 20 0 15-8 19-17 3-5 1-5-3-20 5-20-1-10-4-7-9-8-21-11zM1475 8054l-15 0-15 2-20 6-10 4-15 11-20 19-20 15-10 11-8 13-4 15 2 15 15 21 4 24 4 10 7 8 10 6 25 7 35 2 10 0 25-7 22-11 29-10 10-10 11-20 18-13 11-12 4-15-3-20-18-40-8-10-11-7-10-4-55-10z" fill-opacity="0.24" fill-rule="evenodd"/><path d="M895 8584l-30 0-20 7-20 12-38 32-32 15-7 5-8 15-1 15 4 25 7 15 10 8 25 1 4 6-1 10 2 5 25 10 30 20 30 9 20 2 30-5 25-10 22-6 24-15 34-8 10-7 2-5 3-20 10-8 25-9 5-4 2-9-1-15 1-5 12-10 4-10-3-12-5-4-5 1-8 10-4 25-13 1-5-3-5-7-5-27-4-9-6-5-5-1-20 4-10-2-10-6-21-20-14-7-15-2-30 2-20-4zM1445 8634l-10-1-20 12-20 8-8 7-2 5 0 15 7 20 10 15 13 8 20 4 15-1 13-11 9-15 3-35-2-10-8-9-20-12zM1490 8065l-15-4-15-1-20 4-15 6-25 17-15 15-23 18-12 15-5 15 2 10 17 25 8 30 7 10 6 4 20 6 35 0 15-3 30-12 25-6 9-4 5-5 11-26 20-9 12-10 6-15-2-15-23-45-8-8-10-5-40-7z" fill-opacity="0.24" fill-rule="evenodd"/><path d="M945 8594l-30 3-25-6-20 0-15 3-20 11-30 27-38 23-12 10-5 10-1 10 2 20 3 10 6 5 5 2 20 0 9 3 4 5 6 20 6 5 35 20 45 14 20-1 15-4 26-14 16-15 8-4 30 0 18-6 5-5 0-5-5-20 2-5 18-15 3-5-9-25-3-20-3-5-6-4-30-11-35-26-15-5zM1445 8650l-10 0-30 8-9 7-2 10 3 15 8 14 10 9 10 3 15 1 10-5 5-7 7-25 0-15-7-10-10-5zM1485 8070l-15-4-10 0-15 4-11 5-29 17-36 33-13 15-3 10 2 10 13 20 13 35 9 9 15 5 35 0 10-2 30-12 30-7 8-8 7-24 4-6 21-5 8-5 5-5 3-10-2-15-13-20-11-23-5-5-10-4-25-4-15-4z" fill-opacity="0.24" fill-rule="evenodd"/><path d="M900 8600l-10-3-15 0-20 5-15 7-12 11-8 22-25 4-10 5-11 9-10 15-3 15 0 10 4 9 5 3 20 4 8 4 6 10 4 15 10 10 27 14 20 4 20 9 15 2 15-2 15-7 15-10 15-15 10-6 10-2 25 2 9-4 3-5 0-5-11-20 2-5 17-13 3-12-6-30-11-10-39-20-22-15-10-3-25 2-15-4zM1445 8665l-30 1-8 4-2 5 0 5 5 12 5 6 10 4 5 1 8-3 7-9 5-11 0-10-5-5zM1480 8074l-15-3-10 2-40 23-11 9-20 25-19 15-2 5 1 10 8 15 13 34 10 12 15 3 30-1 15-4 23-9 27-6 6-4 5-10 2-15-3-25 4-5 6 1 8 9 7 4 10-1 8-8 2-5-1-10-13-20-12-25-9-6-25-4-20-6z" fill-opacity="0.24" fill-rule="evenodd"/><path d="M895 8604l-15 0-30 7-8 4-9 10-1 20-2 5-10 4-20-2-15 6-7 7-5 10-3 15 3 10 4 5 18 8 9 7 10 25 11 10 15 7 30 4 20 11 15 1 10-2 15-7 36-29 14-5 20 0 3-5-8-15 0-10 5-8 16-12 2-10-3-20-8-10-8-5-34-15-20-13-30 0-20-8zM1480 8078l-15-1-9 3-29 25-3 5 1 20-1 10-4 10-5 6-10 2-20-4-5 2-4 4 2 15 6 20 8 15 8 7 10 2 35-2 35-12 20-4 8-6 4-10-1-15-6-20 1-10 9-6 15-1 5 3 5 10 5 3 5-3 0-9-9-12-5-20-6-11-10-6-20-2-20-8z" fill-opacity="0.24" fill-rule="evenodd"/><path d="M890 8610l-45 10-5 6-2 19-4 10-14 5-20-3-10 4-5 4-6 10-2 15 5 10 18 12 9 8 7 20 9 11 20 8 30 1 17 10 13 3 10-2 10-5 15-10 20-17 27-14 3-22 5-10 12-13 2-5 1-10-3-10-3-5-14-9-30-10-20-11-20 0-30-10zM1485 8085l-10-3-10 0-6 3-19 22-5 8-6 35-9 12-10 4-20-1-5 4-1 11 3 10 8 15 5 5 10 3 40-1 25-9 20-5 6-3 4-5 2-10-1-10-12-25-1-5 7-7 29-13 3-10-4-10-6-5-22-4-15-6z" fill-opacity="0.24" fill-rule="evenodd"/><path d="M905 8620l-15-5-20 9-20 1-4 5-1 20-3 5-8 5-9 2-30 2-10 9-3 12 3 10 27 25 7 20 11 10 15 6 30-3 7 2 18 11 15-1 20-10 20-17 23-13 4-5 7-25 14-25 0-10-3-6-10-9-10-4-25-5-15-5-15 2-20-13zM929 8675l4 15-3 11-5-2-3-9 3-19 4 4zM1485 8089l-15-3-10 6-15 24-10 34-10 17-10 5-20 1-3 2-2 5 0 5 4 10 6 8 10 4 15-1 15 3 10 0 40-14 9-5 3-10-1-10-6-12-12-13-2-5 0-5 7-5 32-12 4-3 2-5-1-5-5-5-20-5-15-6z" fill-opacity="0.24" fill-rule="evenodd"/><path d="M900 8622l-5-2-10 2-12 8-6 10 2 15-4 9-5 1-10-5-5 0-20 5-25 1-7 4-4 5-3 10 3 10 27 25 7 20 12 10 15 3 30-5 8 2 17 9 10 1 10-3 10-6 20-16 22-15 21-50 0-10-3-5-10-8-10-3-25-3-10 3-4 6-3 10 6 40-4 9-5 2-5-1-5-5-3-10 1-30-6-30-3-5-9-8zM1475 8090l-5 0-6 5-6 15 0 15-2 5-6 7-20 33-10 8-20 2-3 5 1 5 7 8 20 1 15 6 10 0 40-14 6-6 2-10-4-10-26-25-2-5 0-5 33-10 13-5 5-5-2-5-40-15z" fill-opacity="0.24" fill-rule="evenodd"/><path d="M895 8625l-10 1-9 9-2 5-3 25-6 5-20-6-40 5-10 4-5 7-1 5 3 10 26 25 8 20 9 7 15 3 35-6 6 1 14 8 15 1 15-6 20-17 15-9 6-7 18-45-1-10-2-5-11-7-10-2-20 0-8 4-3 5-2 10 6 40-3 7-4 3-11 0-7-5-3-7-1-38-8-30-6-8-5-2zM1465 8148l-10 0-5 3-21 29-3 5 1 5 11 10 7 2 10 0 29-12 7-5 2-10-4-10-9-9-15-8zM1480 8094l-10 1-4 5-1 10 5 8 5 2 10 0 13-5 5-5-3-5-7-5-13-6z" fill-opacity="0.24" fill-rule="evenodd"/><path d="M895 8629l-9 1-6 5-4 10-1 17-5 9-10 1-10-4-10-2-35 5-8 4-4 5 0 10 2 5 26 25 5 15 3 5 6 5 15 2 30-7 9 0 21 10 15 0 10-5 16-15 17-10 7-9 16-41-1-10-3-5-8-5-14-3-10 1-10 4-4 8-1 10 6 30-1 10-5 8-5 2-10-1-8-4-3-5-2-10 1-30-2-10-9-25-7-6zM1470 8155l-10-2-5 1-10 8-11 18 0 10 4 5 7 4 10 1 13-5 18-10 3-5-1-10-8-10-10-5zM1485 8099l-10-2-4 3-2 5 1 5 5 5 10 1 9-6-1-5-8-6z" fill-opacity="0.24" fill-rule="evenodd"/><path d="M895 8632l-5-1-5 3-5 6-4 25-6 9-10 0-20-6-35 5-5 2-5 5-1 5 3 10 27 25 5 15 6 7 7 3 8 0 40-8 5 0 15 10 5 1 10 0 12-8 13-14 15-6 10-13 13-32 1-10-1-5-4-5-9-4-20-1-9 5-5 10 1 10 6 30-1 10-2 5-5 3-10 0-15-5-5-13 0-40-8-25-7-8zM1470 8158l-10-2-5 2-10 8-6 9-2 10 1 5 5 5 7 3 10-2 14-6 11-9 1-6-1-5-5-6-10-6zM1485 8103l-5-2-5 1-1 3 1 5 5 2 7-2 0-5-2-2z" fill-opacity="0.24" fill-rule="evenodd"/><path d="M895 8634l-5 0-8 6-5 25-2 6-5 4-10 1-20-7-30 4-7 2-6 5-2 5 3 10 9 10 19 15 5 15 4 5 5 3 10 1 45-10 17 11 8 2 10-4 9-8 2-5-1-2-25-7-5-6-1-50-9-25-5-6zM980 8654l-10-3-15 0-7 4-4 5-1 15 9 45 8 0 10-7 12-23 5-15 1-10-2-5-6-6zM1470 8160l-10-1-5 1-10 9-4 6-1 10 1 5 4 4 5 2 10-1 12-5 11-10 0-10-4-5-9-5z" fill-opacity="0.24" fill-rule="evenodd"/><path d="M895 8636l-5-1-6 5-6 25-3 7-5 4-10 0-15-6-10 0-25 3-12 7-2 5 3 10 9 10 20 15 5 15 4 5 13 3 45-11 5 1 10 9 10 3 10-3 7-7 1-5-3-2-20-5-5-3-2-10 0-45-8-22-5-7zM980 8655l-10-3-10-1-10 3-5 6-2 15 10 40 2 3 10-2 5-5 11-21 5-15 1-10-2-5-5-5zM1465 8160l-10 1-5 4-7 10-2 10 2 5 7 5 5 0 10-3 12-7 4-5 1-5-2-6-5-5-10-4z" fill-opacity="0.24" fill-rule="evenodd"/><path d="M895 8638l-5-2-5 4-8 30-7 7-10 0-15-6-10-1-25 4-11 6-2 5 2 10 9 10 21 15 3 5 2 10 5 5 6 2 10-1 40-10 5 0 10 9 10 4 10-3 6-6-1-5-20-5-7-5 0-55-8-20-5-7zM975 8653l-10-1-10 1-5 2-6 10 1 15 10 36 5 1 10-7 14-30 2-15-2-5-9-7zM1475 8165l-5-3-10-1-10 5-8 14 2 10 6 4 5 1 10-3 11-7 4-5 1-5-1-5-5-5z" fill-opacity="0.24" fill-rule="evenodd"/><path d="M895 8638l-5-1-5 3-8 30-7 7-10 0-15-6-10-1-25 4-11 6-2 5 3 10 10 11 20 14 3 5 1 10 5 5 16 1 45-11 10 10 10 4 10-3 5-6-1-5-24-6-3-4 2-50-4-13-10-19zM975 8653l-10-1-10 1-5 2-6 10 1 15 10 35 5 2 10-7 13-25 3-20-2-5-9-7zM1470 8162l-10-1-10 5-8 14 0 5 3 6 5 3 5 1 10-3 11-7 4-5 1-5-2-5-9-8z" fill-opacity="0.24" fill-rule="evenodd"/></g><ellipse cx="145.5" cy="815.3" rx="2.8" ry="2.2" transform="rotate(-20 145.5 815.3)" fill="#fff" fill-opacity="0.9" stroke="#111" stroke-width="0.7"/><ellipse cx="143" cy="867.8" rx="2.8" ry="1.8" transform="rotate(0 143 867.8)" fill="#fff" fill-opacity="0.9" stroke="#111" stroke-width="0.7"/></g><rect x="124.7" y="785.2" width="37.8" height="42.1" fill="none" stroke="#111" stroke-width="1.4"/><rect x="124.7" y="831.5" width="37.8" height="55.3" fill="none" stroke="#111" stroke-width="1.4"/><text x="177.35" y="809" text-anchor="middle" font-size="8.4">15.3%</text><text x="177.35" y="864" text-anchor="middle" font-size="8.4">9.29%</text><path d="M66.5 769.7H190.6V892" fill="none" stroke="#222" stroke-width="1.1"/><path d="M66.5 769.7V892H190.6" fill="none" stroke="#111" stroke-width="1.2"/><path d="M63.5 892H66.5M66.5 892V895M63.5 869.5H66.5M90 892V895M63.5 859.87H66.5M99.72 892V895M63.5 847.13H66.5M112.58 892V895M63.5 837.5H66.5M122.3 892V895M63.5 805.5H66.5M154.6 892V895M63.5 773.5H66.5M186.9 892V895" stroke="#111" stroke-width="0.9"/><text x="61.7" y="895.2" text-anchor="end" font-size="9">0.1</text><text x="61.7" y="872.7" text-anchor="end" font-size="9">1</text><text x="61.7" y="863.07" text-anchor="end" font-size="9">2</text><text x="61.7" y="850.33" text-anchor="end" font-size="9">5</text><text x="61.7" y="840.7" text-anchor="end" font-size="9">10</text><text x="61.7" y="808.7" text-anchor="end" font-size="9">100</text><text x="66.5" y="903.5" text-anchor="middle" font-size="9">0.1</text><text x="90" y="903.5" text-anchor="middle" font-size="9">1</text><text x="99.72" y="903.5" text-anchor="middle" font-size="9">2</text><text x="112.58" y="903.5" text-anchor="middle" font-size="9">5</text><text x="122.3" y="903.5" text-anchor="middle" font-size="9">10</text><text x="154.6" y="903.5" text-anchor="middle" font-size="9">100</text><text x="71.9" y="781.5" font-size="11.3">C5</text><g clip-path="url(#c15)"><g transform="scale(0.1)" stroke="#111" stroke-width="10" stroke-linejoin="round"><path d="M2280 8703l17 57 23 30 20 19 30 19 35 15 35 9 35 4 50 0 50-8 60-17 45-16 35-7 50-13 60-10 85-18 25-9 28-18 14-15 12-20 10-25 4-25-2-20-7-25-7-15-20-30-5-15 0-20 6-35 10-35 1-15-4-55-17-50-4-20 0-10 3-10 11-15 15-15 32-26 29-29 28-35 16-25 8-25 3-40-6-30-6-15-7-10-15-15-20-15-15-7-15-4-45-5-55 10-15 4-25 10-35 20-40 32-19 20-14 20-14 25-6 15-7 25-2 20 3 25 9 25 37 60 5 10 2 10-7 55-6 35 0 45 4 45-6 15-12 15-19 10-33 7-60-1-50-6-35-6-25-2-60 1-35 5-35 9-25 10-25 13-40 28-11 12-20 30-7 15-7 22M2985 8000l-25-1-55 11-30 12-20 12-40 29-26 27-16 25-16 35-6 20-2 15 1 15 5 14 23 41 47 55 6 10 1 5-3 10-13 25-8 40-4 40 0 20 13 30 2 15-2 20-7 13-15 11-20 7-55 9-30 2-85-11-45-11-75-2-45 8-40 15-20 10-40 26-14 13-22 35-12 35 2 20 17 50 27 35 15 15 27 17 50 17 60 8 45-3 50-11 50-15 35-15 45-9 45-16 60-6 95-18 30-16 11-8 9-10 8-15 9-25 4-20-1-15-4-25-6-15-37-40-9-15 1-15 5-15 5-25 12-30 2-15-5-40-5-30-14-31-14-24 0-10 5-10 9-10 45-35 30-20 33-35 36-45 8-20 2-20 1-30-2-15-6-20-7-12-26-23-14-9-15-5-30-6zM2895 8545l-10-3-20 1-10 3-24 14-34 10-37 7-80 8-10-1-30-9-40-3-30-12-15-4-65-4-35 5-65 27-45 30-10 9-15 22-11 30-4 20 3 15 10 30 7 13 29 37 16 14 15 8 45 16 65 10 15 0 35-6 60-16 35-12 30-16 41-8 34-18 70-3 45-11 35-1 15-3 30-16 15-15 8-13 6-15 4-25-7-35-6-15-30-28-35-37zM2880 8359l-15 1-7 5-3 5-6 25-17 20-2 15 4 25 7 15 39 45 5 3 10 2 8-5 4-10-3-25 5-40 9-30 1-20-3-10-6-7-15-9-15-5zM2985 8010l-15-3-10 1-30 8-25 4-20 7-20 11-45 32-24 25-10 15-10 20-7 20-8 30 1 15 3 10 27 40 23 28 15 12 15 7 15 5 20 1 15-4 45-23 30-22 20-10 13-9 55-65 7-10 6-20 1-20-1-30-7-25-9-12-30-26-10-4-30-8zM2530 8565l-20-4-20 0-35 6-30 16-35 14-40 28-14 15-8 15-7 25-2 15 4 20 6 20 6 10 30 40 15 13 10 5 25 6 30 12 45 8 15 1 40-7 55-16 35-13 35-23 35-11 35-15 10-1 25 1 30-2 50-8 35 3 15-2 15-8 23-18 11-15 6-15 2-10-1-10-13-40-8-10-30-26-20-14-15 0-55 9-40 8-25 8-20 1-25 5-35 0-10-1-30-12-30 0-10-2-35-14-30-7zM2970 8015l-15 1-25 11-30 4-30 16-50 34-21 24-11 20-6 15-7 35-1 10 2 10 29 44 25 24 20 12 10 4 15 2 20-3 40-19 25-19 30-11 11-9 34-44 15-16 6-10 5-20 0-20-6-30-7-15-22-25-11-9-35-14-10-2z" fill="none"/><path d="M2510 8569l-20 1-25 4-10 4-25 15-35 13-24 19-26 28-8 12-5 15 0 20 9 30 19 25 15 23 10 8 10 4 25-3 5 2 14 16 7 5 14 5 40 6 25-6 25-2 80-29 13-9 12-18 15-17 10-20 5-2 10 2 15 11 10 3 30-7 30 4 75-7 40 5 15-6 23-18 12-13 5-12 0-15-16-40-24-23-10-7-10-4-10 0-25 5-20-5-10-1-40 9-10 4-10 7-15 18-9 7-11 4-10 0-5-1-20-18-10-2-20 4-20-15-10-4-25 6-5-1-45-22-35-13-15-4zM2975 8023l-15-1-28 13-32 7-20 10-55 36-19 22-12 20-5 20-2 30 1 10 8 20 10 15 14 13 25 15 20 14 15 2 15-3 35-17 25-19 25-6 10-4 9-10 22-35 21-20 6-10 2-15-1-20-7-25-7-15-25-28-35-19z" fill-opacity="0.24" fill-rule="evenodd"/><path d="M2515 8579l-15-1-30 5-10 4-30 17-25 11-12 10-20 25-23 16-6 9-3 10 7 35 4 10 33 37 15 7 30 1 7 5 10 15 8 7 15 5 25 4 10-1 15-6 25 1 10-2 27-13 7-5 11-17 5-3 15 3 10-3 5-6 9-24 11-12 12-18 8-7 21-8-5-10-11-17-15-3-11-5-14-28-5-2-20 3-10-1-35-24-55-24zM2835 8604l-5-2-10 0-40 13-10 8-21 27-4 10 1 10 12 25 9 15 13 8 15 2 65-6 30 5 15-5 20-14 12-15 2-10-7-30-12-20-15-13-10-5-10 0-20 11-5 0-10-3-15-11zM2970 8029l-10 0-21 11-39 12-20 10-25 18-20 10-15 15-17 30-6 20-1 15 2 20 7 18 9 12 11 9 25 11 20 16 10 2 15-3 30-14 25-18 25-6 10-4 7-8 18-36 20-15 8-9 3-10 0-15-9-35-4-10-13-15-25-20-10-7-10-4z" fill-opacity="0.24" fill-rule="evenodd"/><path d="M2505 8590l-25 1-15 4-55 30-20 29-30 16-8 10-1 10 6 30 8 14 30 26 15 6 25 2 5 4 15 17 5 3 10 3 25 0 20-9 5 1 20 8 10 1 15-7 12-9 13-22 18-18 7-15 7-5 18-6 10-8 8-11 1-10-2-5-17-20-10-15-5-3-25-8-25-18-10-5-50-19-10-2zM2830 8613l-5-2-10 1-30 13-10 7-13 18-4 10 0 15 6 15 11 14 15 7 25 2 25-6 20-11 5 0 25 8 10 0 10-4 11-10 7-15-1-15-7-20-10-13-10-7-10-1-5 2-15 14-5 1-10-5-25-18zM2975 8039l-10-3-5 1-20 10-35 10-25 12-20 19-25 14-5 8-5 24-15 18-5 13 0 15 3 15 4 10 8 9 15 9 30 9 15 10 5 1 15-2 20-7 29-19 24-5 8-5 19-43 5-5 15-5 9-7 3-5 2-10-7-40-7-15-10-10-17-10-18-16z" fill-opacity="0.24" fill-rule="evenodd"/><path d="M2485 8599l-20 4-45 26-30 36-25 13-4 7 0 5 4 30 6 10 29 25 15 6 20 0 5 2 20 21 15 1 45-14 5 1 15 13 5 1 10-1 15-11 25-34 11-20 9-7 20-8 7-5 3-5 1-10-6-10-20-21-50-34-10-4-50-9-25-8zM2825 8620l-10 1-30 15-10 9-5 7-5 13 1 10 5 15 9 10 10 5 10 2 15 0 10-2 9-5 5-5 7-15 9-9 5-1 16 15 14 6 15 0 8-6 5-10 0-15-6-15-7-9-10-4-5 2-15 15-10 5-5-1-20-24-15-9zM2970 8047l-10-1-15 7-35 8-20 8-14 11-16 20-11 10-7 20-12 21-14 19-1 20 4 10 5 5 11 7 15 6 10 1 20-4 5 1 15 9 10 2 15-3 20-15 20-4 8-5 22-47 5-4 20-5 5-5 3-9-5-35-5-15-8-8-24-12-16-13z" fill-opacity="0.24" fill-rule="evenodd"/><path d="M2490 8609l-15-2-15 6-19 17-21 9-10 10-15 20-20 12-5 9 4 30 6 9 25 23 15 5 20-2 5 3 13 17 7 4 10-1 50-17 10 3 10 8 5 1 5-2 10-7 18-19 18-30 32-20 3-5-1-5-6-10-9-9-50-39-15-5-35 1-10-4-20-10zM2825 8629l-6 1-9 11-5 3-10 0-10 3-10 11-4 12 1 10 5 10 8 7 10 5 15 1 15-5 7-8 14-30 1-10-7-12-10-7-5-2zM2900 8650l-5-1-5 1-10 8-4 7 2 10 7 6 10 2 5 0 5-3 3-5 2-5-2-10-3-6-5-4zM2970 8059l-10-2-15 5-30 3-20 6-13 9-10 15-12 27-15 17-6 11-13 30 1 10 3 6 13 9 12 4 10-1 15-7 5 1 20 14 10 2 10-3 15-14 20-3 6-3 12-20 15-30 7-5 15-2 5-6 1-7-2-30-3-10-4-5-7-5-20-7-15-9z" fill-opacity="0.24" fill-rule="evenodd"/><path d="M2485 8614l-10-1-10 5-6 7-4 12-5 5-25 2-10 6-20 27-14 13-2 15 4 15 22 25 10 6 13-1 8-5 4-7 5-2 11 29 9 8 10-1 45-17 10-1 20 3 15-4 14-13 14-25 31-25 1-5-2-5-53-47-15-3-20 6-10 0-40-22zM2492 8695l4 5 1 5-2 5-5 2-5-2-3-10 3-6 7 1zM2835 8649l-5-3-8 9-7 2-20-4-10 3-5 6-3 8 2 15 6 7 10 5 15 1 9-3 8-10 9-30-1-6zM2965 8069l-10 3-7 8 3 5 12 10-1 5-7 2-6-2-3-5-2-10-4-5-6-5-9-4-10 0-15 3-15 8-8 13-11 30-16 16-7 14-2 10 1 10 8 14 5 4 5 1 15-8 5 0 10 5 15 14 10 4 6-4 4-10 5-4 25 1 10-6 14-21 11-28 5-5 16-7 4-25-2-10-8-10-40-11z" fill-opacity="0.24" fill-rule="evenodd"/><path d="M2480 8619l-5 1-6 5-8 20-6 5-25-2-10 3-5 4-26 40 0 15 4 10 16 20 10 5 8-5 1-10 3-5 9-1 10 3 8 8 1 25 6 7 5 1 30-9 20-9 30 0 15-5 10-10 11-20 28-25 1-5-3-5-25-15-12-19-10-8-10-1-20 7-10 0-35-21-10-4zM2495 8690l7 10 0 10-7 7-10 1-5-3-2-5-3-10 1-10 4-3 5-1 10 4zM2810 8663l-15-3-5 1-5 4-3 5 0 10 7 10 6 3 10 2 12-5 4-5 1-10-2-6-10-6zM2920 8077l-10-1-10 1-10 5-7 8-12 35-22 25-1 15 7 10 5 2 20-1 20 13 10 3 15-8 30 2 10-6 7-10 6-10 7-25 5-11 17-14 3-10-1-10-4-5-5-3-15 0-5 3-7 20-12 5-11 0-9-5-12-20-9-8z" fill-opacity="0.24" fill-rule="evenodd"/><path d="M2490 8628l-10-2-5 3-10 22-5 5-5 1-20-5-10 0-5 3-12 15-10 25 2 15 10 13 5 1 10-6 10 0 22 7 6 5 2 5-1 20 2 5 4 2 25-4 25-13 25 1 15-5 7-6 10-20 20-15 8-10-1-5-4-4-20-7-5-8-4-11-6-7-10-3-20 4-10 1-35-22zM2476 8680l14 3 11 7 4 8 1 7-1 8-5 6-15 4-5-1-5-4-5-33 6-5zM2810 8669l-10-4-10 2-4 8 3 10 11 6 10-2 4-4 2-5-1-5-5-6zM2910 8080l-15 3-8 7-11 35-22 25-1 10 2 4 5 4 20 2 20 13 5 1 20-6 20 4 10 0 5-3 9-9 8-15 5-25 0-15-7-2-20 2-10-1-10-9-14-20-11-5zM3000 8088l-5-1-5 1-5 7 0 10 5 4 10-3 5-6 0-5-5-7z" fill-opacity="0.24" fill-rule="evenodd"/><path d="M2490 8633l-10 1-5 6-8 25 8 8 25 12 7 10 2 15-4 10-5 3-20 4-7 3-4 10 0 10 1 5 5 2 20-3 25-12 25-1 10-4 7-7-2-20 5-4 10 0 10-4 9-7 1-5-5-5-16-5-4-5-5-15-5-6-10-2-25 2-8-4-17-12-10-5zM2435 8655l-10 0-5 3-7 7-8 20 1 15 4 6 6 4 49 11 4-6 0-5-6-40-4-5-9-5-15-5zM2805 8672l-5-2-5 1-4 4 0 5 4 5 5 2 7-2 3-5-2-5-3-3zM2910 8083l-10 1-9 6-12 35-19 25-1 5 1 4 5 3 15 3 15 10 10 4 20-5 20 5 10-1 10-7 8-11 4-15 1-20-3-5-5-2-20 0-10-2-5-4-15-23-10-6z" fill-opacity="0.24" fill-rule="evenodd"/><path d="M2495 8639l-10-2-5 4-5 9-2 10 5 10 22 11 5 5 5 12 2 12-2 8-5 6-22 6-7 5-3 10 1 5 6 4 10-1 10-3 15-10 25-1 10-4 4-5-2-20 1-5 11-15 1-5-4-20-6-7-10-2-25 0-25-17zM2440 8658l-10-1-5 1-9 7-7 15 1 15 2 5 8 6 40 11 5-4 1-8-8-30-6-10-12-7zM2915 8089l-10-4-11 5-4 7-8 28-16 25 1 5 13 6 20 14 10 0 15-4 20 5 10 0 10-7 8-14 3-20-3-10-8-4-26-1-4-3-20-28z" fill-opacity="0.24" fill-rule="evenodd"/><path d="M2500 8643l-10-3-5 1-7 9-2 10 2 5 4 5 23 13 7 17 1 15-3 9-5 4-15 3-10 4-3 10 3 5 5 1 15-4 15-11 20 0 10-2 4-4 1-5-2-10 1-10 8-15 3-10-3-15-6-5-6-2-25 1-20-16zM2435 8659l-10 0-5 4-5 6-4 16 2 10 4 5 8 5 25 8 10 0 2-3 1-10-9-25-6-10-13-6zM2910 8089l-10 0-7 6-6 25-13 25-1 5 3 5 24 17 10 0 15-4 25 7 10-4 6-6 6-10 2-15-1-10-3-5-5-2-25 1-5-2-15-24-10-9z" fill-opacity="0.24" fill-rule="evenodd"/><path d="M2505 8733l-10-1-10 3-5 5 0 5 5 3 5 1 10-4 8-10-3-2zM2495 8643l-5 0-6 2-4 6-1 9 6 10 15 6 5 4 3 5 7 25-2 20 17 4 10-1 5-3 1-5-1-15 11-25 0-15-3-5-8-4-28-1-12-11-10-6zM2430 8660l-10 4-6 11-1 10 3 10 5 5 9 5 20 6 9-1 2-5 0-5-11-30-10-8-10-2zM2905 8090l-5 1-5 5-6 24-10 20-2 10 10 10 13 10 10 0 15-4 15 6 10 2 10-4 8-10 4-10 1-15-3-7-5-3-5-1-25 2-5-6-7-15-8-10-10-5z" fill-opacity="0.24" fill-rule="evenodd"/><path d="M2500 8734l-11 1-6 5 1 5 6 2 7-2 5-5 0-5-2-1zM2495 8645l-7 0-6 5-2 10 2 5 6 5 13 5 6 5 9 25 0 20 4 5 10 2 10-1 4-6 1-20 9-20 2-10-2-5-3-5-6-3-25 1-5-2-11-11-9-5zM2440 8663l-10-2-10 5-6 14 1 10 3 5 7 6 20 7 10 2 4-5-1-10-10-25-8-7zM2910 8093l-5-2-5 2-5 6-4 21-12 25 1 5 9 10 11 8 5 1 20-5 20 8 10 0 5-3 7-9 4-10 1-10-2-10-5-4-5-1-25 3-5-2-9-21-11-12z" fill-opacity="0.24" fill-rule="evenodd"/><path d="M2500 8740l-5-5-10 5 3 5 2 0 5-1 5-4zM2500 8648l-10-2-5 2-4 7 3 10 6 5 15 6 3 4 9 25 1 20 2 3 10 3 8-1 4-5 2-20 9-20 1-10-1-5-8-7-30 0-15-15zM2440 8664l-10-3-10 6-5 13 1 10 4 6 10 6 20 6 5 0 3-3 0-5-6-20-5-10-7-6zM2910 8094l-5-1-5 1-4 6-4 20-11 25 1 5 8 10 10 7 10 0 10-4 5 0 20 9 10-1 5-3 7-8 4-10 1-10-3-10-4-3-10-1-25 5-10-26-10-11z" fill-opacity="0.24" fill-rule="evenodd"/><path d="M2495 8737l-8 3 3 4 5-1 3-3-3-3zM2500 8649l-10-3-5 3-3 6 0 5 2 5 6 4 15 6 4 5 8 25 2 20 6 4 11 1 5-5 0-15 12-25 1-10-2-5-5-5-7-2-25 1-15-15zM2440 8664l-10-2-5 1-5 4-5 13 2 10 3 5 10 7 15 4 10 1 2-7-6-20-5-10-6-6zM2910 8095l-5-2-5 2-3 5-5 25-10 20 1 5 8 10 9 7 10 0 10-6 5 1 20 10 10-1 5-3 7-8 4-10 0-10-3-10-8-4-15 2-18 7-7 8-4-3 9-10 0-10-6-15-9-10z" fill-opacity="0.24" fill-rule="evenodd"/><path d="M2495 8738l-7 2 2 3 5-1 2-2-2-2zM2500 8649l-10-2-5 3-3 10 3 5 5 4 16 6 4 6 6 19 4 25 5 4 10 1 5-5 1-15 11-25 1-10-1-5-5-5-7-2-25 1-15-15zM2440 8665l-10-3-5 1-5 4-5 13 2 10 3 5 10 7 15 4 10 0 2-6-6-20-5-10-6-5zM2910 8095l-5-1-5 1-3 5-5 25-10 20 5 10 11 10 7 2 15-6 5 0 20 10 10 0 5-3 7-8 3-10 1-10-3-10-8-4-15 2-16 7-9 10-6-5 3-5 7-5 1-10-6-15-9-10z" fill-opacity="0.24" fill-rule="evenodd"/></g><ellipse cx="280.5" cy="866.5" rx="1.8" ry="2.8" transform="rotate(0 280.5 866.5)" fill="#fff" fill-opacity="0.9" stroke="#111" stroke-width="0.7"/><ellipse cx="290.5" cy="866.5" rx="1.8" ry="2.8" transform="rotate(0 290.5 866.5)" fill="#fff" fill-opacity="0.9" stroke="#111" stroke-width="0.7"/></g><rect x="272.5" y="785.2" width="38" height="42.1" fill="none" stroke="#111" stroke-width="1.4"/><rect x="272.5" y="831.5" width="38" height="55.3" fill="none" stroke="#111" stroke-width="1.4"/><text x="331.8" y="809" text-anchor="middle" font-size="8.4">15.1%</text><text x="331.8" y="864" text-anchor="middle" font-size="8.4">9.45%</text><path d="M229 769.7H351.5V892" fill="none" stroke="#222" stroke-width="1.1"/><path d="M229 769.7V892H351.5" fill="none" stroke="#111" stroke-width="1.2"/><path d="M226 892H229M229 892V895M226 869.5H229M252.5 892V895M226 859.87H229M262.22 892V895M226 847.13H229M275.08 892V895M226 837.5H229M284.8 892V895M226 805.5H229M317.1 892V895M226 773.5H229M349.4 892V895" stroke="#111" stroke-width="0.9"/><text x="224.2" y="895.2" text-anchor="end" font-size="9">0.1</text><text x="224.2" y="872.7" text-anchor="end" font-size="9">1</text><text x="224.2" y="863.07" text-anchor="end" font-size="9">2</text><text x="224.2" y="850.33" text-anchor="end" font-size="9">5</text><text x="224.2" y="840.7" text-anchor="end" font-size="9">10</text><text x="224.2" y="808.7" text-anchor="end" font-size="9">100</text><text x="229" y="903.5" text-anchor="middle" font-size="9">0.1</text><text x="252.5" y="903.5" text-anchor="middle" font-size="9">1</text><text x="262.22" y="903.5" text-anchor="middle" font-size="9">2</text><text x="275.08" y="903.5" text-anchor="middle" font-size="9">5</text><text x="284.8" y="903.5" text-anchor="middle" font-size="9">10</text><text x="317.1" y="903.5" text-anchor="middle" font-size="9">100</text><text x="234.4" y="781.5" font-size="11.3">C5</text><text x="1.2" y="18.9" font-size="25">A</text><text x="1.0" y="321.6" font-size="25">B</text><text x="0.0" y="635.2" font-size="25">C</text><text transform="translate(38.7 142.4) rotate(-90)" text-anchor="middle" font-size="13.3">CD4/8 (phycoerythrin)</text><text transform="translate(37.2 439.7) rotate(-90)" text-anchor="middle" font-size="13.3">CD4/8 (phycoerythrin)</text><text transform="translate(36.4 761.9) rotate(-90)" text-anchor="middle" font-size="13.3">CD4/8 (phycoerythrin)</text><text x="290.3" y="604" text-anchor="middle" font-size="13.5">CD3 (Fluorescein)</text><text x="128.6" y="923" text-anchor="middle" font-size="13.4">CD3 (Fluorescein)</text><text x="290.5" y="923" text-anchor="middle" font-size="13.4"><tspan font-weight="normal">αβ</tspan>TCR (Fluorescein)</text></svg></body></html>
